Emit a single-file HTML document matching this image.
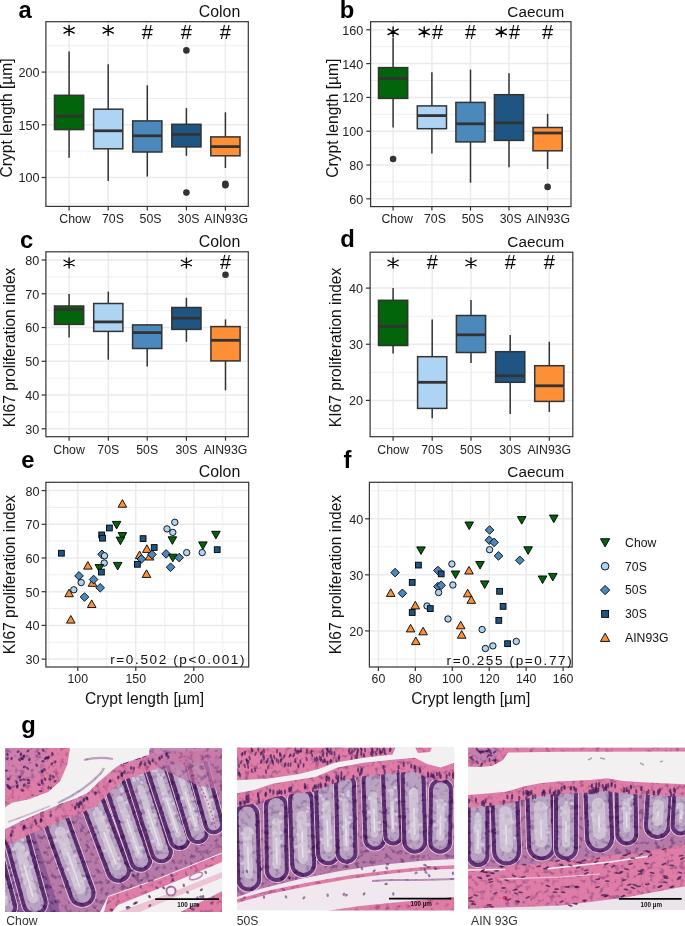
<!DOCTYPE html>
<html><head><meta charset="utf-8"><title>Figure</title>
<style>
html,body{margin:0;padding:0;background:#fff;}
body{width:685px;height:926px;overflow:hidden;position:relative;font-family:"Liberation Sans",sans-serif;}
svg{position:absolute;left:0;top:0;will-change:transform;}
</style></head><body>
<svg width="685" height="926" viewBox="0 0 685 926" font-family="Liberation Sans, sans-serif">
<rect x="45.9" y="21.7" width="202.4" height="184.70000000000002" fill="#fff"/>
<line x1="45.9" x2="248.3" y1="203.85" y2="203.85" stroke="#efefef" stroke-width="1"/>
<line x1="45.9" x2="248.3" y1="151.15" y2="151.15" stroke="#efefef" stroke-width="1"/>
<line x1="45.9" x2="248.3" y1="98.45" y2="98.45" stroke="#efefef" stroke-width="1"/>
<line x1="45.9" x2="248.3" y1="45.75" y2="45.75" stroke="#efefef" stroke-width="1"/>
<line x1="45.9" x2="248.3" y1="177.5" y2="177.5" stroke="#ebebeb" stroke-width="1.5"/>
<line x1="45.9" x2="248.3" y1="124.8" y2="124.8" stroke="#ebebeb" stroke-width="1.5"/>
<line x1="45.9" x2="248.3" y1="72.1" y2="72.1" stroke="#ebebeb" stroke-width="1.5"/>
<line x1="69.1" x2="69.1" y1="21.7" y2="206.4" stroke="#ebebeb" stroke-width="1.5"/>
<line x1="108.2" x2="108.2" y1="21.7" y2="206.4" stroke="#ebebeb" stroke-width="1.5"/>
<line x1="147.3" x2="147.3" y1="21.7" y2="206.4" stroke="#ebebeb" stroke-width="1.5"/>
<line x1="186.4" x2="186.4" y1="21.7" y2="206.4" stroke="#ebebeb" stroke-width="1.5"/>
<line x1="225.4" x2="225.4" y1="21.7" y2="206.4" stroke="#ebebeb" stroke-width="1.5"/>
<line x1="69.1" x2="69.1" y1="51.5" y2="95.3" stroke="#333333" stroke-width="1.5"/>
<line x1="69.1" x2="69.1" y1="129.6" y2="157.7" stroke="#333333" stroke-width="1.5"/>
<rect x="54.49999999999999" y="95.3" width="29.2" height="34.3" fill="#02640b" stroke="#333333" stroke-width="1.5"/>
<line x1="54.49999999999999" x2="83.69999999999999" y1="116.2" y2="116.2" stroke="#333333" stroke-width="2.8"/>
<line x1="108.2" x2="108.2" y1="64.2" y2="109.2" stroke="#333333" stroke-width="1.5"/>
<line x1="108.2" x2="108.2" y1="148.8" y2="181.0" stroke="#333333" stroke-width="1.5"/>
<rect x="93.60000000000001" y="109.2" width="29.2" height="39.60000000000001" fill="#aed4f4" stroke="#333333" stroke-width="1.5"/>
<line x1="93.60000000000001" x2="122.8" y1="130.8" y2="130.8" stroke="#333333" stroke-width="2.8"/>
<line x1="147.3" x2="147.3" y1="85.3" y2="120.9" stroke="#333333" stroke-width="1.5"/>
<line x1="147.3" x2="147.3" y1="152.0" y2="176.6" stroke="#333333" stroke-width="1.5"/>
<rect x="132.70000000000002" y="120.9" width="29.2" height="31.099999999999994" fill="#4b89bc" stroke="#333333" stroke-width="1.5"/>
<line x1="132.70000000000002" x2="161.9" y1="135.8" y2="135.8" stroke="#333333" stroke-width="2.8"/>
<line x1="186.4" x2="186.4" y1="108.1" y2="124.3" stroke="#333333" stroke-width="1.5"/>
<line x1="186.4" x2="186.4" y1="146.9" y2="155.8" stroke="#333333" stroke-width="1.5"/>
<rect x="171.8" y="124.3" width="29.2" height="22.60000000000001" fill="#1e5582" stroke="#333333" stroke-width="1.5"/>
<line x1="171.8" x2="201.0" y1="134.4" y2="134.4" stroke="#333333" stroke-width="2.8"/>
<circle cx="186.4" cy="50.4" r="3.3" fill="#333333"/>
<circle cx="186.4" cy="192.6" r="3.3" fill="#333333"/>
<line x1="225.4" x2="225.4" y1="112.3" y2="136.9" stroke="#333333" stroke-width="1.5"/>
<line x1="225.4" x2="225.4" y1="155.8" y2="168.0" stroke="#333333" stroke-width="1.5"/>
<rect x="210.8" y="136.9" width="29.2" height="18.900000000000006" fill="#fd8f36" stroke="#333333" stroke-width="1.5"/>
<line x1="210.8" x2="240.0" y1="146.6" y2="146.6" stroke="#333333" stroke-width="2.8"/>
<circle cx="225.4" cy="183.7" r="3.3" fill="#333333"/>
<circle cx="225.4" cy="185.2" r="3.3" fill="#333333"/>
<path d="M69.10,25.40V35.40M64.00,27.65L74.20,33.15M64.00,33.15L74.20,27.65" stroke="#000" stroke-width="1.35" stroke-linecap="round" fill="none"/>
<path d="M108.20,25.40V35.40M103.10,27.65L113.30,33.15M103.10,33.15L113.30,27.65" stroke="#000" stroke-width="1.35" stroke-linecap="round" fill="none"/>
<text x="147.30" y="39.00" font-size="20" text-anchor="middle" fill="#000">#</text>
<text x="186.40" y="39.00" font-size="20" text-anchor="middle" fill="#000">#</text>
<text x="225.40" y="39.00" font-size="20" text-anchor="middle" fill="#000">#</text>
<rect x="45.9" y="21.7" width="202.4" height="184.70000000000002" fill="none" stroke="#333333" stroke-width="1.2"/>
<line x1="41.6" x2="45.9" y1="177.5" y2="177.5" stroke="#333333" stroke-width="1.2"/>
<text x="39.50" y="182.40" font-size="12.6" text-anchor="end" fill="#222222">100</text>
<line x1="41.6" x2="45.9" y1="124.8" y2="124.8" stroke="#333333" stroke-width="1.2"/>
<text x="39.50" y="129.70" font-size="12.6" text-anchor="end" fill="#222222">150</text>
<line x1="41.6" x2="45.9" y1="72.1" y2="72.1" stroke="#333333" stroke-width="1.2"/>
<text x="39.50" y="77.00" font-size="12.6" text-anchor="end" fill="#222222">200</text>
<line x1="69.1" x2="69.1" y1="206.4" y2="210.4" stroke="#333333" stroke-width="1.2"/>
<text x="75" y="223.0" font-size="12.3" text-anchor="middle" fill="#222222">Chow</text>
<line x1="108.2" x2="108.2" y1="206.4" y2="210.4" stroke="#333333" stroke-width="1.2"/>
<text x="112.9" y="223.0" font-size="12.3" text-anchor="middle" fill="#222222">70S</text>
<line x1="147.3" x2="147.3" y1="206.4" y2="210.4" stroke="#333333" stroke-width="1.2"/>
<text x="150.5" y="223.0" font-size="12.3" text-anchor="middle" fill="#222222">50S</text>
<line x1="186.4" x2="186.4" y1="206.4" y2="210.4" stroke="#333333" stroke-width="1.2"/>
<text x="188.5" y="223.0" font-size="12.3" text-anchor="middle" fill="#222222">30S</text>
<line x1="225.4" x2="225.4" y1="206.4" y2="210.4" stroke="#333333" stroke-width="1.2"/>
<text x="226.2" y="223.0" font-size="12.3" text-anchor="middle" fill="#222222">AIN93G</text>
<text x="11.6" y="118.0" font-size="15.6" text-anchor="middle" transform="rotate(-90 11.6 118.0)" fill="#111">Crypt length [µm]</text>
<text x="18.6" y="18" font-size="23.8" text-anchor="start" font-weight="bold" fill="#000" >a</text>
<text x="240.3" y="16.9" font-size="15.9" text-anchor="end" font-weight="normal" fill="#111" >Colon</text>
<rect x="370.6" y="21.7" width="200.39999999999998" height="184.9" fill="#fff"/>
<line x1="370.6" x2="571.0" y1="181.9" y2="181.9" stroke="#efefef" stroke-width="1"/>
<line x1="370.6" x2="571.0" y1="148.10000000000002" y2="148.10000000000002" stroke="#efefef" stroke-width="1"/>
<line x1="370.6" x2="571.0" y1="114.30000000000001" y2="114.30000000000001" stroke="#efefef" stroke-width="1"/>
<line x1="370.6" x2="571.0" y1="80.50000000000001" y2="80.50000000000001" stroke="#efefef" stroke-width="1"/>
<line x1="370.6" x2="571.0" y1="46.70000000000002" y2="46.70000000000002" stroke="#efefef" stroke-width="1"/>
<line x1="370.6" x2="571.0" y1="198.8" y2="198.8" stroke="#ebebeb" stroke-width="1.5"/>
<line x1="370.6" x2="571.0" y1="165.0" y2="165.0" stroke="#ebebeb" stroke-width="1.5"/>
<line x1="370.6" x2="571.0" y1="131.20000000000002" y2="131.20000000000002" stroke="#ebebeb" stroke-width="1.5"/>
<line x1="370.6" x2="571.0" y1="97.40000000000002" y2="97.40000000000002" stroke="#ebebeb" stroke-width="1.5"/>
<line x1="370.6" x2="571.0" y1="63.60000000000002" y2="63.60000000000002" stroke="#ebebeb" stroke-width="1.5"/>
<line x1="370.6" x2="571.0" y1="29.80000000000001" y2="29.80000000000001" stroke="#ebebeb" stroke-width="1.5"/>
<line x1="393.1" x2="393.1" y1="21.7" y2="206.6" stroke="#ebebeb" stroke-width="1.5"/>
<line x1="431.9" x2="431.9" y1="21.7" y2="206.6" stroke="#ebebeb" stroke-width="1.5"/>
<line x1="470.5" x2="470.5" y1="21.7" y2="206.6" stroke="#ebebeb" stroke-width="1.5"/>
<line x1="509.0" x2="509.0" y1="21.7" y2="206.6" stroke="#ebebeb" stroke-width="1.5"/>
<line x1="547.6" x2="547.6" y1="21.7" y2="206.6" stroke="#ebebeb" stroke-width="1.5"/>
<line x1="393.1" x2="393.1" y1="38.0" y2="67.6" stroke="#333333" stroke-width="1.5"/>
<line x1="393.1" x2="393.1" y1="98.4" y2="127.5" stroke="#333333" stroke-width="1.5"/>
<rect x="378.5" y="67.6" width="29.2" height="30.80000000000001" fill="#02640b" stroke="#333333" stroke-width="1.5"/>
<line x1="378.5" x2="407.70000000000005" y1="78.5" y2="78.5" stroke="#333333" stroke-width="2.8"/>
<circle cx="393.1" cy="159.0" r="3.3" fill="#333333"/>
<line x1="431.9" x2="431.9" y1="72.3" y2="105.9" stroke="#333333" stroke-width="1.5"/>
<line x1="431.9" x2="431.9" y1="128.7" y2="153.6" stroke="#333333" stroke-width="1.5"/>
<rect x="417.29999999999995" y="105.9" width="29.2" height="22.799999999999983" fill="#aed4f4" stroke="#333333" stroke-width="1.5"/>
<line x1="417.29999999999995" x2="446.5" y1="115.6" y2="115.6" stroke="#333333" stroke-width="2.8"/>
<line x1="470.5" x2="470.5" y1="69.6" y2="102.4" stroke="#333333" stroke-width="1.5"/>
<line x1="470.5" x2="470.5" y1="141.9" y2="182.7" stroke="#333333" stroke-width="1.5"/>
<rect x="455.9" y="102.4" width="29.2" height="39.5" fill="#4b89bc" stroke="#333333" stroke-width="1.5"/>
<line x1="455.9" x2="485.1" y1="123.8" y2="123.8" stroke="#333333" stroke-width="2.8"/>
<line x1="509.0" x2="509.0" y1="73.3" y2="94.7" stroke="#333333" stroke-width="1.5"/>
<line x1="509.0" x2="509.0" y1="140.4" y2="167.2" stroke="#333333" stroke-width="1.5"/>
<rect x="494.4" y="94.7" width="29.2" height="45.7" fill="#1e5582" stroke="#333333" stroke-width="1.5"/>
<line x1="494.4" x2="523.6" y1="122.8" y2="122.8" stroke="#333333" stroke-width="2.8"/>
<line x1="547.6" x2="547.6" y1="113.8" y2="127.5" stroke="#333333" stroke-width="1.5"/>
<line x1="547.6" x2="547.6" y1="150.8" y2="169.0" stroke="#333333" stroke-width="1.5"/>
<rect x="533.0" y="127.5" width="29.2" height="23.30000000000001" fill="#fd8f36" stroke="#333333" stroke-width="1.5"/>
<line x1="533.0" x2="562.2" y1="133.0" y2="133.0" stroke="#333333" stroke-width="2.8"/>
<circle cx="547.6" cy="186.9" r="3.3" fill="#333333"/>
<path d="M393.10,26.90V36.90M388.00,29.15L398.20,34.65M388.00,34.65L398.20,29.15" stroke="#000" stroke-width="1.35" stroke-linecap="round" fill="none"/>
<path d="M424.20,26.90V36.90M419.10,29.15L429.30,34.65M419.10,34.65L429.30,29.15" stroke="#000" stroke-width="1.35" stroke-linecap="round" fill="none"/>
<text x="437.50" y="39.40" font-size="20" text-anchor="middle" fill="#000">#</text>
<text x="470.50" y="39.40" font-size="20" text-anchor="middle" fill="#000">#</text>
<path d="M501.30,26.90V36.90M496.20,29.15L506.40,34.65M496.20,34.65L506.40,29.15" stroke="#000" stroke-width="1.35" stroke-linecap="round" fill="none"/>
<text x="514.60" y="39.40" font-size="20" text-anchor="middle" fill="#000">#</text>
<text x="547.60" y="39.40" font-size="20" text-anchor="middle" fill="#000">#</text>
<rect x="370.6" y="21.7" width="200.39999999999998" height="184.9" fill="none" stroke="#333333" stroke-width="1.2"/>
<line x1="366.3" x2="370.6" y1="198.8" y2="198.8" stroke="#333333" stroke-width="1.2"/>
<text x="363.20" y="203.70" font-size="12.6" text-anchor="end" fill="#222222">60</text>
<line x1="366.3" x2="370.6" y1="165.0" y2="165.0" stroke="#333333" stroke-width="1.2"/>
<text x="363.20" y="169.90" font-size="12.6" text-anchor="end" fill="#222222">80</text>
<line x1="366.3" x2="370.6" y1="131.20000000000002" y2="131.20000000000002" stroke="#333333" stroke-width="1.2"/>
<text x="363.20" y="136.10" font-size="12.6" text-anchor="end" fill="#222222">100</text>
<line x1="366.3" x2="370.6" y1="97.40000000000002" y2="97.40000000000002" stroke="#333333" stroke-width="1.2"/>
<text x="363.20" y="102.30" font-size="12.6" text-anchor="end" fill="#222222">120</text>
<line x1="366.3" x2="370.6" y1="63.60000000000002" y2="63.60000000000002" stroke="#333333" stroke-width="1.2"/>
<text x="363.20" y="68.50" font-size="12.6" text-anchor="end" fill="#222222">140</text>
<line x1="366.3" x2="370.6" y1="29.80000000000001" y2="29.80000000000001" stroke="#333333" stroke-width="1.2"/>
<text x="363.20" y="34.70" font-size="12.6" text-anchor="end" fill="#222222">160</text>
<line x1="393.1" x2="393.1" y1="206.6" y2="210.6" stroke="#333333" stroke-width="1.2"/>
<text x="397.2" y="223.0" font-size="12.3" text-anchor="middle" fill="#222222">Chow</text>
<line x1="431.9" x2="431.9" y1="206.6" y2="210.6" stroke="#333333" stroke-width="1.2"/>
<text x="434.9" y="223.0" font-size="12.3" text-anchor="middle" fill="#222222">70S</text>
<line x1="470.5" x2="470.5" y1="206.6" y2="210.6" stroke="#333333" stroke-width="1.2"/>
<text x="472.7" y="223.0" font-size="12.3" text-anchor="middle" fill="#222222">50S</text>
<line x1="509.0" x2="509.0" y1="206.6" y2="210.6" stroke="#333333" stroke-width="1.2"/>
<text x="510.7" y="223.0" font-size="12.3" text-anchor="middle" fill="#222222">30S</text>
<line x1="547.6" x2="547.6" y1="206.6" y2="210.6" stroke="#333333" stroke-width="1.2"/>
<text x="548.1" y="223.0" font-size="12.3" text-anchor="middle" fill="#222222">AIN93G</text>
<text x="337.6" y="118.2" font-size="15.6" text-anchor="middle" transform="rotate(-90 337.6 118.2)" fill="#111">Crypt length [µm]</text>
<text x="339.8" y="18" font-size="23.8" text-anchor="start" font-weight="bold" fill="#000" >b</text>
<text x="564.3" y="16.9" font-size="15.3" text-anchor="end" font-weight="normal" fill="#111" >Caecum</text>
<rect x="45.9" y="251.8" width="202.4" height="184.89999999999998" fill="#fff"/>
<line x1="45.9" x2="248.3" y1="411.92" y2="411.92" stroke="#efefef" stroke-width="1"/>
<line x1="45.9" x2="248.3" y1="378.16" y2="378.16" stroke="#efefef" stroke-width="1"/>
<line x1="45.9" x2="248.3" y1="344.4" y2="344.4" stroke="#efefef" stroke-width="1"/>
<line x1="45.9" x2="248.3" y1="310.64" y2="310.64" stroke="#efefef" stroke-width="1"/>
<line x1="45.9" x2="248.3" y1="276.88" y2="276.88" stroke="#efefef" stroke-width="1"/>
<line x1="45.9" x2="248.3" y1="428.8" y2="428.8" stroke="#ebebeb" stroke-width="1.5"/>
<line x1="45.9" x2="248.3" y1="395.04" y2="395.04" stroke="#ebebeb" stroke-width="1.5"/>
<line x1="45.9" x2="248.3" y1="361.28" y2="361.28" stroke="#ebebeb" stroke-width="1.5"/>
<line x1="45.9" x2="248.3" y1="327.52" y2="327.52" stroke="#ebebeb" stroke-width="1.5"/>
<line x1="45.9" x2="248.3" y1="293.76" y2="293.76" stroke="#ebebeb" stroke-width="1.5"/>
<line x1="45.9" x2="248.3" y1="260.0" y2="260.0" stroke="#ebebeb" stroke-width="1.5"/>
<line x1="69.1" x2="69.1" y1="251.8" y2="436.7" stroke="#ebebeb" stroke-width="1.5"/>
<line x1="108.3" x2="108.3" y1="251.8" y2="436.7" stroke="#ebebeb" stroke-width="1.5"/>
<line x1="147.2" x2="147.2" y1="251.8" y2="436.7" stroke="#ebebeb" stroke-width="1.5"/>
<line x1="186.4" x2="186.4" y1="251.8" y2="436.7" stroke="#ebebeb" stroke-width="1.5"/>
<line x1="225.5" x2="225.5" y1="251.8" y2="436.7" stroke="#ebebeb" stroke-width="1.5"/>
<line x1="69.1" x2="69.1" y1="294.1" y2="306.0" stroke="#333333" stroke-width="1.5"/>
<line x1="69.1" x2="69.1" y1="324.4" y2="337.6" stroke="#333333" stroke-width="1.5"/>
<rect x="54.49999999999999" y="306.0" width="29.2" height="18.399999999999977" fill="#02640b" stroke="#333333" stroke-width="1.5"/>
<line x1="54.49999999999999" x2="83.69999999999999" y1="309.5" y2="309.5" stroke="#333333" stroke-width="2.8"/>
<line x1="108.3" x2="108.3" y1="291.6" y2="303.5" stroke="#333333" stroke-width="1.5"/>
<line x1="108.3" x2="108.3" y1="331.4" y2="359.7" stroke="#333333" stroke-width="1.5"/>
<rect x="93.7" y="303.5" width="29.2" height="27.899999999999977" fill="#aed4f4" stroke="#333333" stroke-width="1.5"/>
<line x1="93.7" x2="122.89999999999999" y1="321.9" y2="321.9" stroke="#333333" stroke-width="2.8"/>
<line x1="147.2" x2="147.2" y1="324.4" y2="324.9" stroke="#333333" stroke-width="1.5"/>
<line x1="147.2" x2="147.2" y1="348.5" y2="366.6" stroke="#333333" stroke-width="1.5"/>
<rect x="132.6" y="324.9" width="29.2" height="23.600000000000023" fill="#4b89bc" stroke="#333333" stroke-width="1.5"/>
<line x1="132.6" x2="161.79999999999998" y1="332.6" y2="332.6" stroke="#333333" stroke-width="2.8"/>
<line x1="186.4" x2="186.4" y1="297.8" y2="307.5" stroke="#333333" stroke-width="1.5"/>
<line x1="186.4" x2="186.4" y1="329.4" y2="341.8" stroke="#333333" stroke-width="1.5"/>
<rect x="171.8" y="307.5" width="29.2" height="21.899999999999977" fill="#1e5582" stroke="#333333" stroke-width="1.5"/>
<line x1="171.8" x2="201.0" y1="318.2" y2="318.2" stroke="#333333" stroke-width="2.8"/>
<line x1="225.5" x2="225.5" y1="319.4" y2="326.6" stroke="#333333" stroke-width="1.5"/>
<line x1="225.5" x2="225.5" y1="360.9" y2="390.3" stroke="#333333" stroke-width="1.5"/>
<rect x="210.9" y="326.6" width="29.2" height="34.299999999999955" fill="#fd8f36" stroke="#333333" stroke-width="1.5"/>
<line x1="210.9" x2="240.1" y1="340.3" y2="340.3" stroke="#333333" stroke-width="2.8"/>
<circle cx="225.5" cy="274.7" r="3.3" fill="#333333"/>
<path d="M69.10,258.00V268.00M64.00,260.25L74.20,265.75M64.00,265.75L74.20,260.25" stroke="#000" stroke-width="1.35" stroke-linecap="round" fill="none"/>
<path d="M186.40,258.00V268.00M181.30,260.25L191.50,265.75M181.30,265.75L191.50,260.25" stroke="#000" stroke-width="1.35" stroke-linecap="round" fill="none"/>
<text x="225.50" y="269.20" font-size="20" text-anchor="middle" fill="#000">#</text>
<rect x="45.9" y="251.8" width="202.4" height="184.89999999999998" fill="none" stroke="#333333" stroke-width="1.2"/>
<line x1="41.6" x2="45.9" y1="428.8" y2="428.8" stroke="#333333" stroke-width="1.2"/>
<text x="39.30" y="433.70" font-size="12.6" text-anchor="end" fill="#222222">30</text>
<line x1="41.6" x2="45.9" y1="395.04" y2="395.04" stroke="#333333" stroke-width="1.2"/>
<text x="39.30" y="399.94" font-size="12.6" text-anchor="end" fill="#222222">40</text>
<line x1="41.6" x2="45.9" y1="361.28" y2="361.28" stroke="#333333" stroke-width="1.2"/>
<text x="39.30" y="366.18" font-size="12.6" text-anchor="end" fill="#222222">50</text>
<line x1="41.6" x2="45.9" y1="327.52" y2="327.52" stroke="#333333" stroke-width="1.2"/>
<text x="39.30" y="332.42" font-size="12.6" text-anchor="end" fill="#222222">60</text>
<line x1="41.6" x2="45.9" y1="293.76" y2="293.76" stroke="#333333" stroke-width="1.2"/>
<text x="39.30" y="298.66" font-size="12.6" text-anchor="end" fill="#222222">70</text>
<line x1="41.6" x2="45.9" y1="260.0" y2="260.0" stroke="#333333" stroke-width="1.2"/>
<text x="39.30" y="264.90" font-size="12.6" text-anchor="end" fill="#222222">80</text>
<line x1="69.1" x2="69.1" y1="436.7" y2="440.7" stroke="#333333" stroke-width="1.2"/>
<text x="69.1" y="453.5" font-size="12.3" text-anchor="middle" fill="#222222">Chow</text>
<line x1="108.3" x2="108.3" y1="436.7" y2="440.7" stroke="#333333" stroke-width="1.2"/>
<text x="108.3" y="453.5" font-size="12.3" text-anchor="middle" fill="#222222">70S</text>
<line x1="147.2" x2="147.2" y1="436.7" y2="440.7" stroke="#333333" stroke-width="1.2"/>
<text x="147.2" y="453.5" font-size="12.3" text-anchor="middle" fill="#222222">50S</text>
<line x1="186.4" x2="186.4" y1="436.7" y2="440.7" stroke="#333333" stroke-width="1.2"/>
<text x="186.4" y="453.5" font-size="12.3" text-anchor="middle" fill="#222222">30S</text>
<line x1="225.5" x2="225.5" y1="436.7" y2="440.7" stroke="#333333" stroke-width="1.2"/>
<text x="225.5" y="453.5" font-size="12.3" text-anchor="middle" fill="#222222">AIN93G</text>
<text x="15.5" y="347.4" font-size="15.6" text-anchor="middle" transform="rotate(-90 15.5 347.4)" fill="#111">KI67 proliferation index</text>
<text x="20" y="247.6" font-size="23.8" text-anchor="start" font-weight="bold" fill="#000" >c</text>
<text x="240.3" y="246.9" font-size="15.9" text-anchor="end" font-weight="normal" fill="#111" >Colon</text>
<rect x="370.1" y="252.2" width="202.69999999999993" height="184.5" fill="#fff"/>
<line x1="370.1" x2="572.8" y1="428.47499999999997" y2="428.47499999999997" stroke="#efefef" stroke-width="1"/>
<line x1="370.1" x2="572.8" y1="372.325" y2="372.325" stroke="#efefef" stroke-width="1"/>
<line x1="370.1" x2="572.8" y1="316.175" y2="316.175" stroke="#efefef" stroke-width="1"/>
<line x1="370.1" x2="572.8" y1="260.02500000000003" y2="260.02500000000003" stroke="#efefef" stroke-width="1"/>
<line x1="370.1" x2="572.8" y1="400.4" y2="400.4" stroke="#ebebeb" stroke-width="1.5"/>
<line x1="370.1" x2="572.8" y1="344.25" y2="344.25" stroke="#ebebeb" stroke-width="1.5"/>
<line x1="370.1" x2="572.8" y1="288.1" y2="288.1" stroke="#ebebeb" stroke-width="1.5"/>
<line x1="393.1" x2="393.1" y1="252.2" y2="436.7" stroke="#ebebeb" stroke-width="1.5"/>
<line x1="432.2" x2="432.2" y1="252.2" y2="436.7" stroke="#ebebeb" stroke-width="1.5"/>
<line x1="471.0" x2="471.0" y1="252.2" y2="436.7" stroke="#ebebeb" stroke-width="1.5"/>
<line x1="510.2" x2="510.2" y1="252.2" y2="436.7" stroke="#ebebeb" stroke-width="1.5"/>
<line x1="549.3" x2="549.3" y1="252.2" y2="436.7" stroke="#ebebeb" stroke-width="1.5"/>
<line x1="393.1" x2="393.1" y1="287.9" y2="300.3" stroke="#333333" stroke-width="1.5"/>
<line x1="393.1" x2="393.1" y1="345.5" y2="353.5" stroke="#333333" stroke-width="1.5"/>
<rect x="378.5" y="300.3" width="29.2" height="45.19999999999999" fill="#02640b" stroke="#333333" stroke-width="1.5"/>
<line x1="378.5" x2="407.70000000000005" y1="326.4" y2="326.4" stroke="#333333" stroke-width="2.8"/>
<line x1="432.2" x2="432.2" y1="319.4" y2="356.7" stroke="#333333" stroke-width="1.5"/>
<line x1="432.2" x2="432.2" y1="408.4" y2="418.3" stroke="#333333" stroke-width="1.5"/>
<rect x="417.59999999999997" y="356.7" width="29.2" height="51.69999999999999" fill="#aed4f4" stroke="#333333" stroke-width="1.5"/>
<line x1="417.59999999999997" x2="446.8" y1="382.3" y2="382.3" stroke="#333333" stroke-width="2.8"/>
<line x1="471.0" x2="471.0" y1="300.0" y2="315.5" stroke="#333333" stroke-width="1.5"/>
<line x1="471.0" x2="471.0" y1="352.5" y2="362.9" stroke="#333333" stroke-width="1.5"/>
<rect x="456.4" y="315.5" width="29.2" height="37.0" fill="#4b89bc" stroke="#333333" stroke-width="1.5"/>
<line x1="456.4" x2="485.6" y1="334.8" y2="334.8" stroke="#333333" stroke-width="2.8"/>
<line x1="510.2" x2="510.2" y1="335.1" y2="351.7" stroke="#333333" stroke-width="1.5"/>
<line x1="510.2" x2="510.2" y1="382.3" y2="413.9" stroke="#333333" stroke-width="1.5"/>
<rect x="495.59999999999997" y="351.7" width="29.2" height="30.600000000000023" fill="#1e5582" stroke="#333333" stroke-width="1.5"/>
<line x1="495.59999999999997" x2="524.8" y1="375.8" y2="375.8" stroke="#333333" stroke-width="2.8"/>
<line x1="549.3" x2="549.3" y1="341.8" y2="365.7" stroke="#333333" stroke-width="1.5"/>
<line x1="549.3" x2="549.3" y1="401.4" y2="411.9" stroke="#333333" stroke-width="1.5"/>
<rect x="534.6999999999999" y="365.7" width="29.2" height="35.69999999999999" fill="#fd8f36" stroke="#333333" stroke-width="1.5"/>
<line x1="534.6999999999999" x2="563.9" y1="385.8" y2="385.8" stroke="#333333" stroke-width="2.8"/>
<path d="M393.10,258.00V268.00M388.00,260.25L398.20,265.75M388.00,265.75L398.20,260.25" stroke="#000" stroke-width="1.35" stroke-linecap="round" fill="none"/>
<text x="432.20" y="269.20" font-size="20" text-anchor="middle" fill="#000">#</text>
<path d="M471.00,258.00V268.00M465.90,260.25L476.10,265.75M465.90,265.75L476.10,260.25" stroke="#000" stroke-width="1.35" stroke-linecap="round" fill="none"/>
<text x="510.20" y="269.20" font-size="20" text-anchor="middle" fill="#000">#</text>
<text x="549.30" y="269.20" font-size="20" text-anchor="middle" fill="#000">#</text>
<rect x="370.1" y="252.2" width="202.69999999999993" height="184.5" fill="none" stroke="#333333" stroke-width="1.2"/>
<line x1="365.8" x2="370.1" y1="400.4" y2="400.4" stroke="#333333" stroke-width="1.2"/>
<text x="362.90" y="405.30" font-size="12.6" text-anchor="end" fill="#222222">20</text>
<line x1="365.8" x2="370.1" y1="344.25" y2="344.25" stroke="#333333" stroke-width="1.2"/>
<text x="362.90" y="349.15" font-size="12.6" text-anchor="end" fill="#222222">30</text>
<line x1="365.8" x2="370.1" y1="288.1" y2="288.1" stroke="#333333" stroke-width="1.2"/>
<text x="362.90" y="293.00" font-size="12.6" text-anchor="end" fill="#222222">40</text>
<line x1="393.1" x2="393.1" y1="436.7" y2="440.7" stroke="#333333" stroke-width="1.2"/>
<text x="393.1" y="453.5" font-size="12.3" text-anchor="middle" fill="#222222">Chow</text>
<line x1="432.2" x2="432.2" y1="436.7" y2="440.7" stroke="#333333" stroke-width="1.2"/>
<text x="432.2" y="453.5" font-size="12.3" text-anchor="middle" fill="#222222">70S</text>
<line x1="471.0" x2="471.0" y1="436.7" y2="440.7" stroke="#333333" stroke-width="1.2"/>
<text x="471.0" y="453.5" font-size="12.3" text-anchor="middle" fill="#222222">50S</text>
<line x1="510.2" x2="510.2" y1="436.7" y2="440.7" stroke="#333333" stroke-width="1.2"/>
<text x="510.2" y="453.5" font-size="12.3" text-anchor="middle" fill="#222222">30S</text>
<line x1="549.3" x2="549.3" y1="436.7" y2="440.7" stroke="#333333" stroke-width="1.2"/>
<text x="549.3" y="453.5" font-size="12.3" text-anchor="middle" fill="#222222">AIN93G</text>
<text x="341.5" y="347.4" font-size="15.6" text-anchor="middle" transform="rotate(-90 341.5 347.4)" fill="#111">KI67 proliferation index</text>
<text x="340.3" y="247.0" font-size="23.8" text-anchor="start" font-weight="bold" fill="#000" >d</text>
<text x="564.3" y="246.9" font-size="15.3" text-anchor="end" font-weight="normal" fill="#111" >Caecum</text>
<rect x="45.9" y="482.3" width="202.79999999999998" height="184.7" fill="#fff"/>
<line x1="45.9" x2="248.7" y1="642.25" y2="642.25" stroke="#efefef" stroke-width="1"/>
<line x1="45.9" x2="248.7" y1="608.5500000000001" y2="608.5500000000001" stroke="#efefef" stroke-width="1"/>
<line x1="45.9" x2="248.7" y1="574.85" y2="574.85" stroke="#efefef" stroke-width="1"/>
<line x1="45.9" x2="248.7" y1="541.15" y2="541.15" stroke="#efefef" stroke-width="1"/>
<line x1="45.9" x2="248.7" y1="507.45000000000005" y2="507.45000000000005" stroke="#efefef" stroke-width="1"/>
<line x1="48.79999999999998" x2="48.79999999999998" y1="482.3" y2="667.0" stroke="#efefef" stroke-width="1"/>
<line x1="106.80000000000001" x2="106.80000000000001" y1="482.3" y2="667.0" stroke="#efefef" stroke-width="1"/>
<line x1="164.8" x2="164.8" y1="482.3" y2="667.0" stroke="#efefef" stroke-width="1"/>
<line x1="222.80000000000007" x2="222.80000000000007" y1="482.3" y2="667.0" stroke="#efefef" stroke-width="1"/>
<line x1="45.9" x2="248.7" y1="659.1" y2="659.1" stroke="#ebebeb" stroke-width="1.5"/>
<line x1="45.9" x2="248.7" y1="625.4" y2="625.4" stroke="#ebebeb" stroke-width="1.5"/>
<line x1="45.9" x2="248.7" y1="591.7" y2="591.7" stroke="#ebebeb" stroke-width="1.5"/>
<line x1="45.9" x2="248.7" y1="558.0" y2="558.0" stroke="#ebebeb" stroke-width="1.5"/>
<line x1="45.9" x2="248.7" y1="524.3" y2="524.3" stroke="#ebebeb" stroke-width="1.5"/>
<line x1="45.9" x2="248.7" y1="490.6" y2="490.6" stroke="#ebebeb" stroke-width="1.5"/>
<line x1="77.8" x2="77.8" y1="482.3" y2="667.0" stroke="#ebebeb" stroke-width="1.5"/>
<line x1="135.8" x2="135.8" y1="482.3" y2="667.0" stroke="#ebebeb" stroke-width="1.5"/>
<line x1="193.80000000000004" x2="193.80000000000004" y1="482.3" y2="667.0" stroke="#ebebeb" stroke-width="1.5"/>
<rect x="58.50" y="550.30" width="5.80" height="5.80" fill="#1e5582" stroke="#000" stroke-width="0.9"/>
<path d="M122.40,499.62L126.70,507.22L118.10,507.22Z" fill="#fd8f36" stroke="#000" stroke-width="0.9" stroke-linejoin="miter"/>
<path d="M112.30,521.38L120.90,521.38L116.60,528.98Z" fill="#02640b" stroke="#000" stroke-width="0.9" stroke-linejoin="miter"/>
<rect x="106.50" y="525.10" width="5.80" height="5.80" fill="#1e5582" stroke="#000" stroke-width="0.9"/>
<rect x="98.80" y="532.00" width="5.80" height="5.80" fill="#1e5582" stroke="#000" stroke-width="0.9"/>
<rect x="99.60" y="535.30" width="5.80" height="5.80" fill="#1e5582" stroke="#000" stroke-width="0.9"/>
<path d="M118.10,532.58L126.70,532.58L122.40,540.18Z" fill="#02640b" stroke="#000" stroke-width="0.9" stroke-linejoin="miter"/>
<path d="M116.10,537.08L124.70,537.08L120.40,544.68Z" fill="#02640b" stroke="#000" stroke-width="0.9" stroke-linejoin="miter"/>
<rect x="140.20" y="535.70" width="5.80" height="5.80" fill="#1e5582" stroke="#000" stroke-width="0.9"/>
<path d="M97.70,554.30L102.00,550.00L106.30,554.30L102.00,558.60Z" fill="#4b89bc" stroke="#000" stroke-width="0.9" stroke-linejoin="miter"/>
<circle cx="104.5" cy="555.8" r="3.20" fill="#aed4f4" stroke="#000" stroke-width="0.9"/>
<circle cx="104.2" cy="563.0" r="3.20" fill="#aed4f4" stroke="#000" stroke-width="0.9"/>
<path d="M87.90,561.52L92.20,569.12L83.60,569.12Z" fill="#fd8f36" stroke="#000" stroke-width="0.9" stroke-linejoin="miter"/>
<path d="M95.10,564.58L103.70,564.58L99.40,572.18Z" fill="#02640b" stroke="#000" stroke-width="0.9" stroke-linejoin="miter"/>
<rect x="98.50" y="569.20" width="5.80" height="5.80" fill="#1e5582" stroke="#000" stroke-width="0.9"/>
<path d="M113.40,562.38L122.00,562.38L117.70,569.98Z" fill="#02640b" stroke="#000" stroke-width="0.9" stroke-linejoin="miter"/>
<path d="M74.70,575.90L79.00,571.60L83.30,575.90L79.00,580.20Z" fill="#4b89bc" stroke="#000" stroke-width="0.9" stroke-linejoin="miter"/>
<circle cx="81.2" cy="582.6" r="3.20" fill="#aed4f4" stroke="#000" stroke-width="0.9"/>
<path d="M92.50,578.72L96.80,586.32L88.20,586.32Z" fill="#fd8f36" stroke="#000" stroke-width="0.9" stroke-linejoin="miter"/>
<path d="M89.30,579.50L93.60,575.20L97.90,579.50L93.60,583.80Z" fill="#4b89bc" stroke="#000" stroke-width="0.9" stroke-linejoin="miter"/>
<path d="M95.90,587.80L100.20,583.50L104.50,587.80L100.20,592.10Z" fill="#4b89bc" stroke="#000" stroke-width="0.9" stroke-linejoin="miter"/>
<circle cx="73.8" cy="589.8" r="3.20" fill="#aed4f4" stroke="#000" stroke-width="0.9"/>
<path d="M69.10,589.12L73.40,596.72L64.80,596.72Z" fill="#fd8f36" stroke="#000" stroke-width="0.9" stroke-linejoin="miter"/>
<path d="M80.20,597.00L84.50,592.70L88.80,597.00L84.50,601.30Z" fill="#4b89bc" stroke="#000" stroke-width="0.9" stroke-linejoin="miter"/>
<path d="M91.70,599.92L96.00,607.52L87.40,607.52Z" fill="#fd8f36" stroke="#000" stroke-width="0.9" stroke-linejoin="miter"/>
<path d="M70.80,615.52L75.10,623.12L66.50,623.12Z" fill="#fd8f36" stroke="#000" stroke-width="0.9" stroke-linejoin="miter"/>
<circle cx="174.8" cy="522.3" r="3.20" fill="#aed4f4" stroke="#000" stroke-width="0.9"/>
<circle cx="167.0" cy="528.9" r="3.20" fill="#aed4f4" stroke="#000" stroke-width="0.9"/>
<circle cx="172.8" cy="532.4" r="3.20" fill="#aed4f4" stroke="#000" stroke-width="0.9"/>
<path d="M168.10,536.78L176.70,536.78L172.40,544.38Z" fill="#02640b" stroke="#000" stroke-width="0.9" stroke-linejoin="miter"/>
<rect x="151.30" y="544.60" width="5.80" height="5.80" fill="#1e5582" stroke="#000" stroke-width="0.9"/>
<path d="M146.90,544.82L151.20,552.42L142.60,552.42Z" fill="#fd8f36" stroke="#000" stroke-width="0.9" stroke-linejoin="miter"/>
<path d="M139.60,551.02L143.90,558.62L135.30,558.62Z" fill="#fd8f36" stroke="#000" stroke-width="0.9" stroke-linejoin="miter"/>
<path d="M149.60,552.42L153.90,560.02L145.30,560.02Z" fill="#fd8f36" stroke="#000" stroke-width="0.9" stroke-linejoin="miter"/>
<path d="M147.70,554.50L152.00,550.20L156.30,554.50L152.00,558.80Z" fill="#4b89bc" stroke="#000" stroke-width="0.9" stroke-linejoin="miter"/>
<path d="M137.10,559.00L141.40,554.70L145.70,559.00L141.40,563.30Z" fill="#4b89bc" stroke="#000" stroke-width="0.9" stroke-linejoin="miter"/>
<rect x="134.50" y="561.40" width="5.80" height="5.80" fill="#1e5582" stroke="#000" stroke-width="0.9"/>
<path d="M146.50,569.82L150.80,577.42L142.20,577.42Z" fill="#fd8f36" stroke="#000" stroke-width="0.9" stroke-linejoin="miter"/>
<path d="M161.80,553.90L166.10,549.60L170.40,553.90L166.10,558.20Z" fill="#4b89bc" stroke="#000" stroke-width="0.9" stroke-linejoin="miter"/>
<path d="M168.50,554.18L177.10,554.18L172.80,561.78Z" fill="#02640b" stroke="#000" stroke-width="0.9" stroke-linejoin="miter"/>
<path d="M174.90,557.60L179.20,553.30L183.50,557.60L179.20,561.90Z" fill="#4b89bc" stroke="#000" stroke-width="0.9" stroke-linejoin="miter"/>
<path d="M166.30,567.20L170.60,562.90L174.90,567.20L170.60,571.50Z" fill="#4b89bc" stroke="#000" stroke-width="0.9" stroke-linejoin="miter"/>
<circle cx="186.7" cy="552.6" r="3.20" fill="#aed4f4" stroke="#000" stroke-width="0.9"/>
<path d="M198.60,541.88L207.20,541.88L202.90,549.48Z" fill="#02640b" stroke="#000" stroke-width="0.9" stroke-linejoin="miter"/>
<circle cx="202.2" cy="552.6" r="3.20" fill="#aed4f4" stroke="#000" stroke-width="0.9"/>
<path d="M211.60,531.28L220.20,531.28L215.90,538.88Z" fill="#02640b" stroke="#000" stroke-width="0.9" stroke-linejoin="miter"/>
<rect x="214.30" y="546.80" width="5.80" height="5.80" fill="#1e5582" stroke="#000" stroke-width="0.9"/>
<rect x="45.9" y="482.3" width="202.79999999999998" height="184.7" fill="none" stroke="#333333" stroke-width="1.2"/>
<line x1="41.6" x2="45.9" y1="659.1" y2="659.1" stroke="#333333" stroke-width="1.2"/>
<text x="39.40" y="664.00" font-size="12.6" text-anchor="end" fill="#222222">30</text>
<line x1="41.6" x2="45.9" y1="625.4" y2="625.4" stroke="#333333" stroke-width="1.2"/>
<text x="39.40" y="630.30" font-size="12.6" text-anchor="end" fill="#222222">40</text>
<line x1="41.6" x2="45.9" y1="591.7" y2="591.7" stroke="#333333" stroke-width="1.2"/>
<text x="39.40" y="596.60" font-size="12.6" text-anchor="end" fill="#222222">50</text>
<line x1="41.6" x2="45.9" y1="558.0" y2="558.0" stroke="#333333" stroke-width="1.2"/>
<text x="39.40" y="562.90" font-size="12.6" text-anchor="end" fill="#222222">60</text>
<line x1="41.6" x2="45.9" y1="524.3" y2="524.3" stroke="#333333" stroke-width="1.2"/>
<text x="39.40" y="529.20" font-size="12.6" text-anchor="end" fill="#222222">70</text>
<line x1="41.6" x2="45.9" y1="490.6" y2="490.6" stroke="#333333" stroke-width="1.2"/>
<text x="39.40" y="495.50" font-size="12.6" text-anchor="end" fill="#222222">80</text>
<line x1="77.8" x2="77.8" y1="667.0" y2="671.0" stroke="#333333" stroke-width="1.2"/>
<text x="77.8" y="683.2" font-size="12.3" text-anchor="middle" fill="#222222">100</text>
<line x1="135.8" x2="135.8" y1="667.0" y2="671.0" stroke="#333333" stroke-width="1.2"/>
<text x="135.8" y="683.2" font-size="12.3" text-anchor="middle" fill="#222222">150</text>
<line x1="193.80000000000004" x2="193.80000000000004" y1="667.0" y2="671.0" stroke="#333333" stroke-width="1.2"/>
<text x="193.80000000000004" y="683.2" font-size="12.3" text-anchor="middle" fill="#222222">200</text>
<text x="15.5" y="574.6" font-size="15.6" text-anchor="middle" transform="rotate(-90 15.5 574.6)" fill="#111">KI67 proliferation index</text>
<text x="144.5" y="704.0" font-size="15.6" text-anchor="middle" font-weight="normal" fill="#111" >Crypt length [µm]</text>
<text x="21.2" y="467.6" font-size="23.8" text-anchor="start" font-weight="bold" fill="#000" >e</text>
<text x="240.3" y="476.9" font-size="15.9" text-anchor="end" font-weight="normal" fill="#111" >Colon</text>
<text x="110.2" y="664.1" font-size="13.5" text-anchor="start" font-weight="normal" fill="#111" letter-spacing="1.64">r=0.502 (p&lt;0.001)</text>
<rect x="369.4" y="482.3" width="202.80000000000007" height="184.7" fill="#fff"/>
<line x1="369.4" x2="572.2" y1="658.925" y2="658.925" stroke="#efefef" stroke-width="1"/>
<line x1="369.4" x2="572.2" y1="602.875" y2="602.875" stroke="#efefef" stroke-width="1"/>
<line x1="369.4" x2="572.2" y1="546.8249999999999" y2="546.8249999999999" stroke="#efefef" stroke-width="1"/>
<line x1="369.4" x2="572.2" y1="490.775" y2="490.775" stroke="#efefef" stroke-width="1"/>
<line x1="396.87" x2="396.87" y1="482.3" y2="667.0" stroke="#efefef" stroke-width="1"/>
<line x1="433.81" x2="433.81" y1="482.3" y2="667.0" stroke="#efefef" stroke-width="1"/>
<line x1="470.75" x2="470.75" y1="482.3" y2="667.0" stroke="#efefef" stroke-width="1"/>
<line x1="507.69" x2="507.69" y1="482.3" y2="667.0" stroke="#efefef" stroke-width="1"/>
<line x1="544.63" x2="544.63" y1="482.3" y2="667.0" stroke="#efefef" stroke-width="1"/>
<line x1="369.4" x2="572.2" y1="630.9" y2="630.9" stroke="#ebebeb" stroke-width="1.5"/>
<line x1="369.4" x2="572.2" y1="574.8499999999999" y2="574.8499999999999" stroke="#ebebeb" stroke-width="1.5"/>
<line x1="369.4" x2="572.2" y1="518.8" y2="518.8" stroke="#ebebeb" stroke-width="1.5"/>
<line x1="378.4" x2="378.4" y1="482.3" y2="667.0" stroke="#ebebeb" stroke-width="1.5"/>
<line x1="415.34" x2="415.34" y1="482.3" y2="667.0" stroke="#ebebeb" stroke-width="1.5"/>
<line x1="452.28" x2="452.28" y1="482.3" y2="667.0" stroke="#ebebeb" stroke-width="1.5"/>
<line x1="489.22" x2="489.22" y1="482.3" y2="667.0" stroke="#ebebeb" stroke-width="1.5"/>
<line x1="526.1600000000001" x2="526.1600000000001" y1="482.3" y2="667.0" stroke="#ebebeb" stroke-width="1.5"/>
<line x1="563.1" x2="563.1" y1="482.3" y2="667.0" stroke="#ebebeb" stroke-width="1.5"/>
<path d="M416.70,546.88L425.30,546.88L421.00,554.48Z" fill="#02640b" stroke="#000" stroke-width="0.9" stroke-linejoin="miter"/>
<rect x="415.50" y="562.20" width="5.80" height="5.80" fill="#1e5582" stroke="#000" stroke-width="0.9"/>
<path d="M390.80,572.60L395.10,568.30L399.40,572.60L395.10,576.90Z" fill="#4b89bc" stroke="#000" stroke-width="0.9" stroke-linejoin="miter"/>
<path d="M398.10,593.30L402.40,589.00L406.70,593.30L402.40,597.60Z" fill="#4b89bc" stroke="#000" stroke-width="0.9" stroke-linejoin="miter"/>
<path d="M390.70,588.82L395.00,596.42L386.40,596.42Z" fill="#fd8f36" stroke="#000" stroke-width="0.9" stroke-linejoin="miter"/>
<rect x="409.30" y="579.50" width="5.80" height="5.80" fill="#1e5582" stroke="#000" stroke-width="0.9"/>
<path d="M415.30,601.32L419.60,608.92L411.00,608.92Z" fill="#fd8f36" stroke="#000" stroke-width="0.9" stroke-linejoin="miter"/>
<rect x="409.30" y="609.60" width="5.80" height="5.80" fill="#1e5582" stroke="#000" stroke-width="0.9"/>
<circle cx="427.0" cy="606.0" r="3.20" fill="#aed4f4" stroke="#000" stroke-width="0.9"/>
<rect x="427.40" y="605.70" width="5.80" height="5.80" fill="#1e5582" stroke="#000" stroke-width="0.9"/>
<path d="M410.60,624.32L414.90,631.92L406.30,631.92Z" fill="#fd8f36" stroke="#000" stroke-width="0.9" stroke-linejoin="miter"/>
<path d="M423.10,627.22L427.40,634.82L418.80,634.82Z" fill="#fd8f36" stroke="#000" stroke-width="0.9" stroke-linejoin="miter"/>
<path d="M415.80,637.02L420.10,644.62L411.50,644.62Z" fill="#fd8f36" stroke="#000" stroke-width="0.9" stroke-linejoin="miter"/>
<path d="M433.60,570.50L437.90,566.20L442.20,570.50L437.90,574.80Z" fill="#4b89bc" stroke="#000" stroke-width="0.9" stroke-linejoin="miter"/>
<rect x="438.30" y="571.00" width="5.80" height="5.80" fill="#1e5582" stroke="#000" stroke-width="0.9"/>
<path d="M433.60,586.60L437.90,582.30L442.20,586.60L437.90,590.90Z" fill="#4b89bc" stroke="#000" stroke-width="0.9" stroke-linejoin="miter"/>
<path d="M436.90,585.30L441.20,581.00L445.50,585.30L441.20,589.60Z" fill="#4b89bc" stroke="#000" stroke-width="0.9" stroke-linejoin="miter"/>
<circle cx="438.6" cy="592.5" r="3.20" fill="#aed4f4" stroke="#000" stroke-width="0.9"/>
<circle cx="451.9" cy="564.0" r="3.20" fill="#aed4f4" stroke="#000" stroke-width="0.9"/>
<path d="M451.20,570.98L459.80,570.98L455.50,578.58Z" fill="#02640b" stroke="#000" stroke-width="0.9" stroke-linejoin="miter"/>
<circle cx="452.9" cy="585.0" r="3.20" fill="#aed4f4" stroke="#000" stroke-width="0.9"/>
<circle cx="448.0" cy="619.0" r="3.20" fill="#aed4f4" stroke="#000" stroke-width="0.9"/>
<path d="M460.70,621.22L465.00,628.82L456.40,628.82Z" fill="#fd8f36" stroke="#000" stroke-width="0.9" stroke-linejoin="miter"/>
<path d="M461.70,630.62L466.00,638.22L457.40,638.22Z" fill="#fd8f36" stroke="#000" stroke-width="0.9" stroke-linejoin="miter"/>
<path d="M464.90,521.98L473.50,521.98L469.20,529.58Z" fill="#02640b" stroke="#000" stroke-width="0.9" stroke-linejoin="miter"/>
<path d="M469.00,566.42L473.30,574.02L464.70,574.02Z" fill="#fd8f36" stroke="#000" stroke-width="0.9" stroke-linejoin="miter"/>
<path d="M467.70,589.22L472.00,596.82L463.40,596.82Z" fill="#fd8f36" stroke="#000" stroke-width="0.9" stroke-linejoin="miter"/>
<path d="M471.30,595.72L475.60,603.32L467.00,603.32Z" fill="#fd8f36" stroke="#000" stroke-width="0.9" stroke-linejoin="miter"/>
<path d="M517.40,516.58L526.00,516.58L521.70,524.18Z" fill="#02640b" stroke="#000" stroke-width="0.9" stroke-linejoin="miter"/>
<path d="M549.50,515.08L558.10,515.08L553.80,522.68Z" fill="#02640b" stroke="#000" stroke-width="0.9" stroke-linejoin="miter"/>
<path d="M523.80,546.78L532.40,546.78L528.10,554.38Z" fill="#02640b" stroke="#000" stroke-width="0.9" stroke-linejoin="miter"/>
<path d="M475.70,561.48L484.30,561.48L480.00,569.08Z" fill="#02640b" stroke="#000" stroke-width="0.9" stroke-linejoin="miter"/>
<path d="M480.40,580.88L489.00,580.88L484.70,588.48Z" fill="#02640b" stroke="#000" stroke-width="0.9" stroke-linejoin="miter"/>
<path d="M538.30,575.98L546.90,575.98L542.60,583.58Z" fill="#02640b" stroke="#000" stroke-width="0.9" stroke-linejoin="miter"/>
<path d="M548.50,573.38L557.10,573.38L552.80,580.98Z" fill="#02640b" stroke="#000" stroke-width="0.9" stroke-linejoin="miter"/>
<path d="M485.30,530.00L489.60,525.70L493.90,530.00L489.60,534.30Z" fill="#4b89bc" stroke="#000" stroke-width="0.9" stroke-linejoin="miter"/>
<path d="M485.00,540.20L489.30,535.90L493.60,540.20L489.30,544.50Z" fill="#4b89bc" stroke="#000" stroke-width="0.9" stroke-linejoin="miter"/>
<path d="M489.80,542.40L494.10,538.10L498.40,542.40L494.10,546.70Z" fill="#4b89bc" stroke="#000" stroke-width="0.9" stroke-linejoin="miter"/>
<path d="M494.20,555.90L498.50,551.60L502.80,555.90L498.50,560.20Z" fill="#4b89bc" stroke="#000" stroke-width="0.9" stroke-linejoin="miter"/>
<path d="M515.50,560.30L519.80,556.00L524.10,560.30L519.80,564.60Z" fill="#4b89bc" stroke="#000" stroke-width="0.9" stroke-linejoin="miter"/>
<circle cx="489.6" cy="549.7" r="3.20" fill="#aed4f4" stroke="#000" stroke-width="0.9"/>
<circle cx="482.1" cy="629.5" r="3.20" fill="#aed4f4" stroke="#000" stroke-width="0.9"/>
<circle cx="485.4" cy="648.5" r="3.20" fill="#aed4f4" stroke="#000" stroke-width="0.9"/>
<circle cx="492.9" cy="645.9" r="3.20" fill="#aed4f4" stroke="#000" stroke-width="0.9"/>
<circle cx="516.3" cy="641.4" r="3.20" fill="#aed4f4" stroke="#000" stroke-width="0.9"/>
<rect x="496.70" y="588.40" width="5.80" height="5.80" fill="#1e5582" stroke="#000" stroke-width="0.9"/>
<rect x="500.20" y="603.50" width="5.80" height="5.80" fill="#1e5582" stroke="#000" stroke-width="0.9"/>
<rect x="495.90" y="617.50" width="5.80" height="5.80" fill="#1e5582" stroke="#000" stroke-width="0.9"/>
<rect x="504.70" y="640.80" width="5.80" height="5.80" fill="#1e5582" stroke="#000" stroke-width="0.9"/>
<rect x="369.4" y="482.3" width="202.80000000000007" height="184.7" fill="none" stroke="#333333" stroke-width="1.2"/>
<line x1="365.09999999999997" x2="369.4" y1="630.9" y2="630.9" stroke="#333333" stroke-width="1.2"/>
<text x="363.30" y="635.80" font-size="12.6" text-anchor="end" fill="#222222">20</text>
<line x1="365.09999999999997" x2="369.4" y1="574.8499999999999" y2="574.8499999999999" stroke="#333333" stroke-width="1.2"/>
<text x="363.30" y="579.75" font-size="12.6" text-anchor="end" fill="#222222">30</text>
<line x1="365.09999999999997" x2="369.4" y1="518.8" y2="518.8" stroke="#333333" stroke-width="1.2"/>
<text x="363.30" y="523.70" font-size="12.6" text-anchor="end" fill="#222222">40</text>
<line x1="378.4" x2="378.4" y1="667.0" y2="671.0" stroke="#333333" stroke-width="1.2"/>
<text x="378.4" y="683.2" font-size="12.3" text-anchor="middle" fill="#222222">60</text>
<line x1="415.34" x2="415.34" y1="667.0" y2="671.0" stroke="#333333" stroke-width="1.2"/>
<text x="415.34" y="683.2" font-size="12.3" text-anchor="middle" fill="#222222">80</text>
<line x1="452.28" x2="452.28" y1="667.0" y2="671.0" stroke="#333333" stroke-width="1.2"/>
<text x="452.28" y="683.2" font-size="12.3" text-anchor="middle" fill="#222222">100</text>
<line x1="489.22" x2="489.22" y1="667.0" y2="671.0" stroke="#333333" stroke-width="1.2"/>
<text x="489.22" y="683.2" font-size="12.3" text-anchor="middle" fill="#222222">120</text>
<line x1="526.1600000000001" x2="526.1600000000001" y1="667.0" y2="671.0" stroke="#333333" stroke-width="1.2"/>
<text x="526.1600000000001" y="683.2" font-size="12.3" text-anchor="middle" fill="#222222">140</text>
<line x1="563.1" x2="563.1" y1="667.0" y2="671.0" stroke="#333333" stroke-width="1.2"/>
<text x="563.1" y="683.2" font-size="12.3" text-anchor="middle" fill="#222222">160</text>
<text x="341.5" y="574.6" font-size="15.6" text-anchor="middle" transform="rotate(-90 341.5 574.6)" fill="#111">KI67 proliferation index</text>
<text x="470.8" y="704.0" font-size="15.6" text-anchor="middle" font-weight="normal" fill="#111" >Crypt length [µm]</text>
<text x="343.5" y="467.6" font-size="23.8" text-anchor="start" font-weight="bold" fill="#000" >f</text>
<text x="564.3" y="476.9" font-size="15.3" text-anchor="end" font-weight="normal" fill="#111" >Caecum</text>
<text x="446.5" y="664.7" font-size="13.5" text-anchor="start" font-weight="normal" fill="#111" letter-spacing="1.64">r=0.255 (p=0.77)</text>
<path d="M600.46,538.71L609.74,538.71L605.10,546.91Z" fill="#02640b" stroke="#000" stroke-width="0.9" stroke-linejoin="miter"/>
<text x="625.1" y="546.6999999999999" font-size="12.2" text-anchor="start" font-weight="normal" fill="#111" >Chow</text>
<circle cx="605.1" cy="566.23" r="3.84" fill="#aed4f4" stroke="#000" stroke-width="0.9"/>
<text x="625.1" y="570.53" font-size="12.2" text-anchor="start" font-weight="normal" fill="#111" >70S</text>
<path d="M600.46,590.06L605.10,585.42L609.74,590.06L605.10,594.70Z" fill="#4b89bc" stroke="#000" stroke-width="0.9" stroke-linejoin="miter"/>
<text x="625.1" y="594.3599999999999" font-size="12.2" text-anchor="start" font-weight="normal" fill="#111" >50S</text>
<rect x="601.62" y="610.41" width="6.96" height="6.96" fill="#1e5582" stroke="#000" stroke-width="0.9"/>
<text x="625.1" y="618.1899999999999" font-size="12.2" text-anchor="start" font-weight="normal" fill="#111" >30S</text>
<path d="M605.10,633.21L609.74,641.41L600.46,641.41Z" fill="#fd8f36" stroke="#000" stroke-width="0.9" stroke-linejoin="miter"/>
<text x="625.1" y="642.02" font-size="12.2" text-anchor="start" font-weight="normal" fill="#111" >AIN93G</text>
<text x="21.2" y="733.0" font-size="23.8" text-anchor="start" font-weight="bold" fill="#000" >g</text>
<defs><filter id="hb" x="0" y="0" width="1" height="1" color-interpolation-filters="sRGB"><feGaussianBlur in="SourceGraphic" stdDeviation="0.55" result="bl"/><feTurbulence type="fractalNoise" baseFrequency="0.2" numOctaves="2" seed="5" result="n"/><feColorMatrix in="n" type="matrix" values="0 0 0 0 0.26  0 0 0 0 0.09  0 0 0 0 0.34  4.2 0 0 0 -2.2" result="spk"/><feColorMatrix in="bl" type="matrix" values="0 0 0 0 0  0 0 0 0 0  0 0 0 0 0  -0.6 -0.6 -0.6 0 1.55" result="dk"/><feComposite in="spk" in2="dk" operator="in" result="spk2"/><feGaussianBlur in="spk2" stdDeviation="0.35" result="spk3"/><feMerge><feMergeNode in="bl"/><feMergeNode in="spk3"/></feMerge></filter>
<clipPath id="c1"><rect x="4.9" y="748" width="217.1" height="164"/></clipPath>
<clipPath id="c2"><rect x="237" y="747.6" width="217.3" height="163"/></clipPath>
<clipPath id="c3"><rect x="468" y="747.6" width="217" height="162.5"/></clipPath></defs>
<g clip-path="url(#c1)"><g filter="url(#hb)">
<rect x="4.9" y="748" width="217.1" height="164" fill="#b77aa8"/>
<path d="M4.9,830.0L30.0,820.0L60.0,912.0L4.9,912.0Z" fill="#8d5b98" opacity="1.0"/>
<line x1="5.1" y1="906.9" x2="-10.0" y2="850.0" stroke="#e6c6da" stroke-width="25.8" stroke-linecap="round"/>
<line x1="5.1" y1="906.9" x2="-10.0" y2="850.0" stroke="#633477" stroke-width="24.0" stroke-linecap="round"/>
<line x1="5.1" y1="906.9" x2="-10.0" y2="850.0" stroke="#b9a2c2" stroke-width="16.0" stroke-linecap="round"/>
<line x1="3.8" y1="902.0" x2="-6.2" y2="864.2" stroke="#d8cedc" stroke-width="8.0" stroke-linecap="round" opacity="0.75"/>
<line x1="3.3" y1="900.1" x2="-2.5" y2="878.4" stroke="#eee8ef" stroke-width="1.6" stroke-linecap="round" opacity="0.8"/>
<ellipse cx="-4.9" cy="908.9" rx="1.3" ry="1.8" fill="#4f2a63" opacity="0.75" transform="rotate(-15 -4.9 908.9)"/>
<ellipse cx="13.4" cy="903.9" rx="1.3" ry="1.8" fill="#4f2a63" opacity="0.75" transform="rotate(-15 13.4 903.9)"/>
<ellipse cx="-6.1" cy="904.5" rx="1.3" ry="1.8" fill="#4f2a63" opacity="0.75" transform="rotate(-15 -6.1 904.5)"/>
<ellipse cx="12.2" cy="899.5" rx="1.3" ry="1.8" fill="#4f2a63" opacity="0.75" transform="rotate(-15 12.2 899.5)"/>
<ellipse cx="-7.0" cy="900.9" rx="1.3" ry="1.8" fill="#4f2a63" opacity="0.75" transform="rotate(-15 -7.0 900.9)"/>
<ellipse cx="12.6" cy="895.6" rx="1.3" ry="1.8" fill="#4f2a63" opacity="0.75" transform="rotate(-15 12.6 895.6)"/>
<ellipse cx="-7.3" cy="897.4" rx="1.3" ry="1.8" fill="#4f2a63" opacity="0.75" transform="rotate(-15 -7.3 897.4)"/>
<ellipse cx="11.0" cy="891.6" rx="1.3" ry="1.8" fill="#4f2a63" opacity="0.75" transform="rotate(-15 11.0 891.6)"/>
<ellipse cx="-9.7" cy="891.7" rx="1.3" ry="1.8" fill="#4f2a63" opacity="0.75" transform="rotate(-15 -9.7 891.7)"/>
<ellipse cx="9.1" cy="885.6" rx="1.3" ry="1.8" fill="#4f2a63" opacity="0.75" transform="rotate(-15 9.1 885.6)"/>
<ellipse cx="-9.9" cy="889.3" rx="1.3" ry="1.8" fill="#4f2a63" opacity="0.75" transform="rotate(-15 -9.9 889.3)"/>
<ellipse cx="8.3" cy="884.0" rx="1.3" ry="1.8" fill="#4f2a63" opacity="0.75" transform="rotate(-15 8.3 884.0)"/>
<ellipse cx="-11.1" cy="883.7" rx="1.3" ry="1.8" fill="#4f2a63" opacity="0.75" transform="rotate(-15 -11.1 883.7)"/>
<ellipse cx="6.7" cy="878.1" rx="1.3" ry="1.8" fill="#4f2a63" opacity="0.75" transform="rotate(-15 6.7 878.1)"/>
<ellipse cx="-11.5" cy="880.3" rx="1.3" ry="1.8" fill="#4f2a63" opacity="0.75" transform="rotate(-15 -11.5 880.3)"/>
<ellipse cx="6.3" cy="875.7" rx="1.3" ry="1.8" fill="#4f2a63" opacity="0.75" transform="rotate(-15 6.3 875.7)"/>
<ellipse cx="-13.3" cy="876.4" rx="1.3" ry="1.8" fill="#4f2a63" opacity="0.75" transform="rotate(-15 -13.3 876.4)"/>
<ellipse cx="5.7" cy="870.6" rx="1.3" ry="1.8" fill="#4f2a63" opacity="0.75" transform="rotate(-15 5.7 870.6)"/>
<ellipse cx="-14.1" cy="872.2" rx="1.3" ry="1.8" fill="#4f2a63" opacity="0.75" transform="rotate(-15 -14.1 872.2)"/>
<ellipse cx="4.6" cy="866.4" rx="1.3" ry="1.8" fill="#4f2a63" opacity="0.75" transform="rotate(-15 4.6 866.4)"/>
<ellipse cx="-16.0" cy="866.6" rx="1.3" ry="1.8" fill="#4f2a63" opacity="0.75" transform="rotate(-15 -16.0 866.6)"/>
<ellipse cx="3.4" cy="861.3" rx="1.3" ry="1.8" fill="#4f2a63" opacity="0.75" transform="rotate(-15 3.4 861.3)"/>
<ellipse cx="-17.0" cy="863.9" rx="1.3" ry="1.8" fill="#4f2a63" opacity="0.75" transform="rotate(-15 -17.0 863.9)"/>
<ellipse cx="2.6" cy="858.9" rx="1.3" ry="1.8" fill="#4f2a63" opacity="0.75" transform="rotate(-15 2.6 858.9)"/>
<ellipse cx="-17.8" cy="859.1" rx="1.3" ry="1.8" fill="#4f2a63" opacity="0.75" transform="rotate(-15 -17.8 859.1)"/>
<ellipse cx="1.0" cy="854.0" rx="1.3" ry="1.8" fill="#4f2a63" opacity="0.75" transform="rotate(-15 1.0 854.0)"/>
<ellipse cx="-17.8" cy="856.3" rx="1.3" ry="1.8" fill="#4f2a63" opacity="0.75" transform="rotate(-15 -17.8 856.3)"/>
<ellipse cx="-0.0" cy="851.0" rx="1.3" ry="1.8" fill="#4f2a63" opacity="0.75" transform="rotate(-15 -0.0 851.0)"/>
<circle cx="5.2" cy="897.8" r="1.8" fill="#d6cfdc" opacity="0.8"/>
<circle cx="1.5" cy="870.2" r="1.8" fill="#d6cfdc" opacity="0.8"/>
<circle cx="-8.8" cy="864.5" r="1.8" fill="#d6cfdc" opacity="0.8"/>
<circle cx="0.9" cy="883.1" r="1.8" fill="#d6cfdc" opacity="0.8"/>
<circle cx="2.8" cy="900.3" r="1.8" fill="#d6cfdc" opacity="0.8"/>
<circle cx="-2.9" cy="894.7" r="1.8" fill="#d6cfdc" opacity="0.8"/>
<circle cx="6.0" cy="897.7" r="1.8" fill="#d6cfdc" opacity="0.8"/>
<circle cx="-0.9" cy="896.1" r="1.8" fill="#d6cfdc" opacity="0.8"/>
<circle cx="3.2" cy="882.3" r="1.8" fill="#d6cfdc" opacity="0.8"/>
<line x1="34.7" y1="903.0" x2="14.0" y2="828.0" stroke="#e6c6da" stroke-width="27.8" stroke-linecap="round"/>
<line x1="34.7" y1="903.0" x2="14.0" y2="828.0" stroke="#633477" stroke-width="26.0" stroke-linecap="round"/>
<line x1="34.7" y1="903.0" x2="14.0" y2="828.0" stroke="#b9a2c2" stroke-width="18.0" stroke-linecap="round"/>
<line x1="33.3" y1="898.1" x2="19.2" y2="846.7" stroke="#d8cedc" stroke-width="10.0" stroke-linecap="round" opacity="0.75"/>
<line x1="32.8" y1="896.2" x2="24.3" y2="865.5" stroke="#eee8ef" stroke-width="1.6" stroke-linecap="round" opacity="0.8"/>
<ellipse cx="24.4" cy="905.7" rx="1.3" ry="1.8" fill="#4f2a63" opacity="0.75" transform="rotate(-15 24.4 905.7)"/>
<ellipse cx="45.4" cy="900.5" rx="1.3" ry="1.8" fill="#4f2a63" opacity="0.75" transform="rotate(-15 45.4 900.5)"/>
<ellipse cx="22.6" cy="900.0" rx="1.3" ry="1.8" fill="#4f2a63" opacity="0.75" transform="rotate(-15 22.6 900.0)"/>
<ellipse cx="43.0" cy="895.1" rx="1.3" ry="1.8" fill="#4f2a63" opacity="0.75" transform="rotate(-15 43.0 895.1)"/>
<ellipse cx="21.3" cy="895.4" rx="1.3" ry="1.8" fill="#4f2a63" opacity="0.75" transform="rotate(-15 21.3 895.4)"/>
<ellipse cx="41.7" cy="890.0" rx="1.3" ry="1.8" fill="#4f2a63" opacity="0.75" transform="rotate(-15 41.7 890.0)"/>
<ellipse cx="21.2" cy="892.6" rx="1.3" ry="1.8" fill="#4f2a63" opacity="0.75" transform="rotate(-15 21.2 892.6)"/>
<ellipse cx="40.5" cy="887.2" rx="1.3" ry="1.8" fill="#4f2a63" opacity="0.75" transform="rotate(-15 40.5 887.2)"/>
<ellipse cx="20.1" cy="890.0" rx="1.3" ry="1.8" fill="#4f2a63" opacity="0.75" transform="rotate(-15 20.1 890.0)"/>
<ellipse cx="40.5" cy="883.7" rx="1.3" ry="1.8" fill="#4f2a63" opacity="0.75" transform="rotate(-15 40.5 883.7)"/>
<ellipse cx="19.1" cy="884.1" rx="1.3" ry="1.8" fill="#4f2a63" opacity="0.75" transform="rotate(-15 19.1 884.1)"/>
<ellipse cx="39.7" cy="879.7" rx="1.3" ry="1.8" fill="#4f2a63" opacity="0.75" transform="rotate(-15 39.7 879.7)"/>
<ellipse cx="18.0" cy="880.2" rx="1.3" ry="1.8" fill="#4f2a63" opacity="0.75" transform="rotate(-15 18.0 880.2)"/>
<ellipse cx="37.6" cy="874.1" rx="1.3" ry="1.8" fill="#4f2a63" opacity="0.75" transform="rotate(-15 37.6 874.1)"/>
<ellipse cx="15.9" cy="876.2" rx="1.3" ry="1.8" fill="#4f2a63" opacity="0.75" transform="rotate(-15 15.9 876.2)"/>
<ellipse cx="36.4" cy="870.8" rx="1.3" ry="1.8" fill="#4f2a63" opacity="0.75" transform="rotate(-15 36.4 870.8)"/>
<ellipse cx="14.9" cy="872.7" rx="1.3" ry="1.8" fill="#4f2a63" opacity="0.75" transform="rotate(-15 14.9 872.7)"/>
<ellipse cx="35.3" cy="867.3" rx="1.3" ry="1.8" fill="#4f2a63" opacity="0.75" transform="rotate(-15 35.3 867.3)"/>
<ellipse cx="13.8" cy="870.1" rx="1.3" ry="1.8" fill="#4f2a63" opacity="0.75" transform="rotate(-15 13.8 870.1)"/>
<ellipse cx="35.0" cy="863.4" rx="1.3" ry="1.8" fill="#4f2a63" opacity="0.75" transform="rotate(-15 35.0 863.4)"/>
<ellipse cx="13.3" cy="865.6" rx="1.3" ry="1.8" fill="#4f2a63" opacity="0.75" transform="rotate(-15 13.3 865.6)"/>
<ellipse cx="33.2" cy="860.8" rx="1.3" ry="1.8" fill="#4f2a63" opacity="0.75" transform="rotate(-15 33.2 860.8)"/>
<ellipse cx="12.0" cy="860.4" rx="1.3" ry="1.8" fill="#4f2a63" opacity="0.75" transform="rotate(-15 12.0 860.4)"/>
<ellipse cx="31.6" cy="854.2" rx="1.3" ry="1.8" fill="#4f2a63" opacity="0.75" transform="rotate(-15 31.6 854.2)"/>
<ellipse cx="10.9" cy="858.3" rx="1.3" ry="1.8" fill="#4f2a63" opacity="0.75" transform="rotate(-15 10.9 858.3)"/>
<ellipse cx="31.0" cy="851.4" rx="1.3" ry="1.8" fill="#4f2a63" opacity="0.75" transform="rotate(-15 31.0 851.4)"/>
<ellipse cx="9.9" cy="852.0" rx="1.3" ry="1.8" fill="#4f2a63" opacity="0.75" transform="rotate(-15 9.9 852.0)"/>
<ellipse cx="30.2" cy="846.2" rx="1.3" ry="1.8" fill="#4f2a63" opacity="0.75" transform="rotate(-15 30.2 846.2)"/>
<ellipse cx="9.8" cy="850.1" rx="1.3" ry="1.8" fill="#4f2a63" opacity="0.75" transform="rotate(-15 9.8 850.1)"/>
<ellipse cx="29.6" cy="843.5" rx="1.3" ry="1.8" fill="#4f2a63" opacity="0.75" transform="rotate(-15 29.6 843.5)"/>
<ellipse cx="7.5" cy="846.3" rx="1.3" ry="1.8" fill="#4f2a63" opacity="0.75" transform="rotate(-15 7.5 846.3)"/>
<ellipse cx="28.3" cy="840.7" rx="1.3" ry="1.8" fill="#4f2a63" opacity="0.75" transform="rotate(-15 28.3 840.7)"/>
<ellipse cx="6.5" cy="842.5" rx="1.3" ry="1.8" fill="#4f2a63" opacity="0.75" transform="rotate(-15 6.5 842.5)"/>
<ellipse cx="28.0" cy="837.0" rx="1.3" ry="1.8" fill="#4f2a63" opacity="0.75" transform="rotate(-15 28.0 837.0)"/>
<ellipse cx="6.1" cy="837.5" rx="1.3" ry="1.8" fill="#4f2a63" opacity="0.75" transform="rotate(-15 6.1 837.5)"/>
<ellipse cx="25.4" cy="831.5" rx="1.3" ry="1.8" fill="#4f2a63" opacity="0.75" transform="rotate(-15 25.4 831.5)"/>
<ellipse cx="4.0" cy="833.3" rx="1.3" ry="1.8" fill="#4f2a63" opacity="0.75" transform="rotate(-15 4.0 833.3)"/>
<ellipse cx="24.7" cy="828.1" rx="1.3" ry="1.8" fill="#4f2a63" opacity="0.75" transform="rotate(-15 24.7 828.1)"/>
<circle cx="27.3" cy="852.2" r="1.8" fill="#d6cfdc" opacity="0.8"/>
<circle cx="31.1" cy="867.0" r="1.8" fill="#d6cfdc" opacity="0.8"/>
<circle cx="22.4" cy="834.5" r="1.8" fill="#d6cfdc" opacity="0.8"/>
<circle cx="22.8" cy="874.6" r="1.8" fill="#d6cfdc" opacity="0.8"/>
<circle cx="24.8" cy="883.0" r="1.8" fill="#d6cfdc" opacity="0.8"/>
<circle cx="30.9" cy="882.7" r="1.8" fill="#d6cfdc" opacity="0.8"/>
<circle cx="22.3" cy="840.2" r="1.8" fill="#d6cfdc" opacity="0.8"/>
<circle cx="26.7" cy="866.1" r="1.8" fill="#d6cfdc" opacity="0.8"/>
<circle cx="13.8" cy="849.1" r="1.8" fill="#d6cfdc" opacity="0.8"/>
<circle cx="27.2" cy="854.3" r="1.8" fill="#d6cfdc" opacity="0.8"/>
<circle cx="23.0" cy="847.6" r="1.8" fill="#d6cfdc" opacity="0.8"/>
<circle cx="20.4" cy="868.0" r="1.8" fill="#d6cfdc" opacity="0.8"/>
<line x1="82.1" y1="893.4" x2="53.0" y2="812.0" stroke="#e6c6da" stroke-width="28.8" stroke-linecap="round"/>
<line x1="82.1" y1="893.4" x2="53.0" y2="812.0" stroke="#633477" stroke-width="27.0" stroke-linecap="round"/>
<line x1="82.1" y1="893.4" x2="53.0" y2="812.0" stroke="#b9a2c2" stroke-width="19.0" stroke-linecap="round"/>
<line x1="80.4" y1="888.7" x2="60.3" y2="832.3" stroke="#d8cedc" stroke-width="11.0" stroke-linecap="round" opacity="0.75"/>
<line x1="79.8" y1="886.8" x2="67.6" y2="852.7" stroke="#eee8ef" stroke-width="1.6" stroke-linecap="round" opacity="0.8"/>
<ellipse cx="70.9" cy="896.0" rx="1.3" ry="1.8" fill="#4f2a63" opacity="0.75" transform="rotate(-20 70.9 896.0)"/>
<ellipse cx="92.7" cy="888.0" rx="1.3" ry="1.8" fill="#4f2a63" opacity="0.75" transform="rotate(-20 92.7 888.0)"/>
<ellipse cx="70.8" cy="892.8" rx="1.3" ry="1.8" fill="#4f2a63" opacity="0.75" transform="rotate(-20 70.8 892.8)"/>
<ellipse cx="90.3" cy="884.4" rx="1.3" ry="1.8" fill="#4f2a63" opacity="0.75" transform="rotate(-20 90.3 884.4)"/>
<ellipse cx="69.5" cy="889.5" rx="1.3" ry="1.8" fill="#4f2a63" opacity="0.75" transform="rotate(-20 69.5 889.5)"/>
<ellipse cx="89.0" cy="882.1" rx="1.3" ry="1.8" fill="#4f2a63" opacity="0.75" transform="rotate(-20 89.0 882.1)"/>
<ellipse cx="67.2" cy="883.3" rx="1.3" ry="1.8" fill="#4f2a63" opacity="0.75" transform="rotate(-20 67.2 883.3)"/>
<ellipse cx="87.7" cy="875.5" rx="1.3" ry="1.8" fill="#4f2a63" opacity="0.75" transform="rotate(-20 87.7 875.5)"/>
<ellipse cx="67.0" cy="881.8" rx="1.3" ry="1.8" fill="#4f2a63" opacity="0.75" transform="rotate(-20 67.0 881.8)"/>
<ellipse cx="87.0" cy="874.8" rx="1.3" ry="1.8" fill="#4f2a63" opacity="0.75" transform="rotate(-20 87.0 874.8)"/>
<ellipse cx="65.1" cy="877.4" rx="1.3" ry="1.8" fill="#4f2a63" opacity="0.75" transform="rotate(-20 65.1 877.4)"/>
<ellipse cx="84.8" cy="869.0" rx="1.3" ry="1.8" fill="#4f2a63" opacity="0.75" transform="rotate(-20 84.8 869.0)"/>
<ellipse cx="62.8" cy="873.4" rx="1.3" ry="1.8" fill="#4f2a63" opacity="0.75" transform="rotate(-20 62.8 873.4)"/>
<ellipse cx="83.6" cy="865.7" rx="1.3" ry="1.8" fill="#4f2a63" opacity="0.75" transform="rotate(-20 83.6 865.7)"/>
<ellipse cx="62.6" cy="869.5" rx="1.3" ry="1.8" fill="#4f2a63" opacity="0.75" transform="rotate(-20 62.6 869.5)"/>
<ellipse cx="82.6" cy="862.4" rx="1.3" ry="1.8" fill="#4f2a63" opacity="0.75" transform="rotate(-20 82.6 862.4)"/>
<ellipse cx="59.9" cy="865.0" rx="1.3" ry="1.8" fill="#4f2a63" opacity="0.75" transform="rotate(-20 59.9 865.0)"/>
<ellipse cx="80.8" cy="857.0" rx="1.3" ry="1.8" fill="#4f2a63" opacity="0.75" transform="rotate(-20 80.8 857.0)"/>
<ellipse cx="58.1" cy="861.1" rx="1.3" ry="1.8" fill="#4f2a63" opacity="0.75" transform="rotate(-20 58.1 861.1)"/>
<ellipse cx="79.1" cy="853.0" rx="1.3" ry="1.8" fill="#4f2a63" opacity="0.75" transform="rotate(-20 79.1 853.0)"/>
<ellipse cx="56.8" cy="856.7" rx="1.3" ry="1.8" fill="#4f2a63" opacity="0.75" transform="rotate(-20 56.8 856.7)"/>
<ellipse cx="78.4" cy="849.5" rx="1.3" ry="1.8" fill="#4f2a63" opacity="0.75" transform="rotate(-20 78.4 849.5)"/>
<ellipse cx="56.3" cy="853.9" rx="1.3" ry="1.8" fill="#4f2a63" opacity="0.75" transform="rotate(-20 56.3 853.9)"/>
<ellipse cx="77.5" cy="845.8" rx="1.3" ry="1.8" fill="#4f2a63" opacity="0.75" transform="rotate(-20 77.5 845.8)"/>
<ellipse cx="54.3" cy="849.1" rx="1.3" ry="1.8" fill="#4f2a63" opacity="0.75" transform="rotate(-20 54.3 849.1)"/>
<ellipse cx="75.9" cy="842.1" rx="1.3" ry="1.8" fill="#4f2a63" opacity="0.75" transform="rotate(-20 75.9 842.1)"/>
<ellipse cx="53.8" cy="846.3" rx="1.3" ry="1.8" fill="#4f2a63" opacity="0.75" transform="rotate(-20 53.8 846.3)"/>
<ellipse cx="74.0" cy="838.4" rx="1.3" ry="1.8" fill="#4f2a63" opacity="0.75" transform="rotate(-20 74.0 838.4)"/>
<ellipse cx="52.0" cy="842.2" rx="1.3" ry="1.8" fill="#4f2a63" opacity="0.75" transform="rotate(-20 52.0 842.2)"/>
<ellipse cx="72.6" cy="834.5" rx="1.3" ry="1.8" fill="#4f2a63" opacity="0.75" transform="rotate(-20 72.6 834.5)"/>
<ellipse cx="51.3" cy="838.3" rx="1.3" ry="1.8" fill="#4f2a63" opacity="0.75" transform="rotate(-20 51.3 838.3)"/>
<ellipse cx="71.9" cy="831.3" rx="1.3" ry="1.8" fill="#4f2a63" opacity="0.75" transform="rotate(-20 71.9 831.3)"/>
<ellipse cx="49.5" cy="835.3" rx="1.3" ry="1.8" fill="#4f2a63" opacity="0.75" transform="rotate(-20 49.5 835.3)"/>
<ellipse cx="70.7" cy="826.6" rx="1.3" ry="1.8" fill="#4f2a63" opacity="0.75" transform="rotate(-20 70.7 826.6)"/>
<ellipse cx="48.0" cy="830.3" rx="1.3" ry="1.8" fill="#4f2a63" opacity="0.75" transform="rotate(-20 48.0 830.3)"/>
<ellipse cx="68.4" cy="822.9" rx="1.3" ry="1.8" fill="#4f2a63" opacity="0.75" transform="rotate(-20 68.4 822.9)"/>
<ellipse cx="46.8" cy="826.7" rx="1.3" ry="1.8" fill="#4f2a63" opacity="0.75" transform="rotate(-20 46.8 826.7)"/>
<ellipse cx="66.5" cy="819.0" rx="1.3" ry="1.8" fill="#4f2a63" opacity="0.75" transform="rotate(-20 66.5 819.0)"/>
<ellipse cx="44.4" cy="822.8" rx="1.3" ry="1.8" fill="#4f2a63" opacity="0.75" transform="rotate(-20 44.4 822.8)"/>
<ellipse cx="66.4" cy="814.3" rx="1.3" ry="1.8" fill="#4f2a63" opacity="0.75" transform="rotate(-20 66.4 814.3)"/>
<ellipse cx="43.2" cy="817.7" rx="1.3" ry="1.8" fill="#4f2a63" opacity="0.75" transform="rotate(-20 43.2 817.7)"/>
<ellipse cx="64.9" cy="810.9" rx="1.3" ry="1.8" fill="#4f2a63" opacity="0.75" transform="rotate(-20 64.9 810.9)"/>
<circle cx="74.5" cy="875.1" r="1.8" fill="#d6cfdc" opacity="0.8"/>
<circle cx="64.9" cy="852.5" r="1.8" fill="#d6cfdc" opacity="0.8"/>
<circle cx="72.1" cy="873.4" r="1.8" fill="#d6cfdc" opacity="0.8"/>
<circle cx="55.6" cy="840.6" r="1.8" fill="#d6cfdc" opacity="0.8"/>
<circle cx="65.5" cy="849.5" r="1.8" fill="#d6cfdc" opacity="0.8"/>
<circle cx="76.4" cy="884.9" r="1.8" fill="#d6cfdc" opacity="0.8"/>
<circle cx="64.8" cy="844.6" r="1.8" fill="#d6cfdc" opacity="0.8"/>
<circle cx="84.6" cy="878.6" r="1.8" fill="#d6cfdc" opacity="0.8"/>
<circle cx="67.5" cy="831.5" r="1.8" fill="#d6cfdc" opacity="0.8"/>
<circle cx="73.5" cy="879.6" r="1.8" fill="#d6cfdc" opacity="0.8"/>
<circle cx="82.2" cy="881.2" r="1.8" fill="#d6cfdc" opacity="0.8"/>
<circle cx="67.7" cy="869.5" r="1.8" fill="#d6cfdc" opacity="0.8"/>
<circle cx="75.2" cy="855.7" r="1.8" fill="#d6cfdc" opacity="0.8"/>
<circle cx="56.7" cy="833.1" r="1.8" fill="#d6cfdc" opacity="0.8"/>
<line x1="118.4" y1="870.3" x2="90.0" y2="795.0" stroke="#e6c6da" stroke-width="26.8" stroke-linecap="round"/>
<line x1="118.4" y1="870.3" x2="90.0" y2="795.0" stroke="#633477" stroke-width="25.0" stroke-linecap="round"/>
<line x1="118.4" y1="870.3" x2="90.0" y2="795.0" stroke="#b9a2c2" stroke-width="17.0" stroke-linecap="round"/>
<line x1="116.6" y1="865.6" x2="97.1" y2="813.8" stroke="#d8cedc" stroke-width="9.0" stroke-linecap="round" opacity="0.75"/>
<line x1="115.9" y1="863.7" x2="104.2" y2="832.6" stroke="#eee8ef" stroke-width="1.6" stroke-linecap="round" opacity="0.8"/>
<ellipse cx="109.6" cy="873.6" rx="1.3" ry="1.8" fill="#4f2a63" opacity="0.75" transform="rotate(-21 109.6 873.6)"/>
<ellipse cx="127.9" cy="865.8" rx="1.3" ry="1.8" fill="#4f2a63" opacity="0.75" transform="rotate(-21 127.9 865.8)"/>
<ellipse cx="107.9" cy="869.8" rx="1.3" ry="1.8" fill="#4f2a63" opacity="0.75" transform="rotate(-21 107.9 869.8)"/>
<ellipse cx="125.6" cy="863.6" rx="1.3" ry="1.8" fill="#4f2a63" opacity="0.75" transform="rotate(-21 125.6 863.6)"/>
<ellipse cx="106.2" cy="864.4" rx="1.3" ry="1.8" fill="#4f2a63" opacity="0.75" transform="rotate(-21 106.2 864.4)"/>
<ellipse cx="125.0" cy="857.3" rx="1.3" ry="1.8" fill="#4f2a63" opacity="0.75" transform="rotate(-21 125.0 857.3)"/>
<ellipse cx="104.1" cy="860.6" rx="1.3" ry="1.8" fill="#4f2a63" opacity="0.75" transform="rotate(-21 104.1 860.6)"/>
<ellipse cx="122.9" cy="854.5" rx="1.3" ry="1.8" fill="#4f2a63" opacity="0.75" transform="rotate(-21 122.9 854.5)"/>
<ellipse cx="102.6" cy="858.3" rx="1.3" ry="1.8" fill="#4f2a63" opacity="0.75" transform="rotate(-21 102.6 858.3)"/>
<ellipse cx="121.4" cy="850.6" rx="1.3" ry="1.8" fill="#4f2a63" opacity="0.75" transform="rotate(-21 121.4 850.6)"/>
<ellipse cx="101.1" cy="854.2" rx="1.3" ry="1.8" fill="#4f2a63" opacity="0.75" transform="rotate(-21 101.1 854.2)"/>
<ellipse cx="120.2" cy="847.3" rx="1.3" ry="1.8" fill="#4f2a63" opacity="0.75" transform="rotate(-21 120.2 847.3)"/>
<ellipse cx="99.6" cy="849.8" rx="1.3" ry="1.8" fill="#4f2a63" opacity="0.75" transform="rotate(-21 99.6 849.8)"/>
<ellipse cx="118.2" cy="842.5" rx="1.3" ry="1.8" fill="#4f2a63" opacity="0.75" transform="rotate(-21 118.2 842.5)"/>
<ellipse cx="98.7" cy="846.6" rx="1.3" ry="1.8" fill="#4f2a63" opacity="0.75" transform="rotate(-21 98.7 846.6)"/>
<ellipse cx="118.2" cy="840.4" rx="1.3" ry="1.8" fill="#4f2a63" opacity="0.75" transform="rotate(-21 118.2 840.4)"/>
<ellipse cx="97.5" cy="844.0" rx="1.3" ry="1.8" fill="#4f2a63" opacity="0.75" transform="rotate(-21 97.5 844.0)"/>
<ellipse cx="115.6" cy="836.8" rx="1.3" ry="1.8" fill="#4f2a63" opacity="0.75" transform="rotate(-21 115.6 836.8)"/>
<ellipse cx="95.9" cy="839.6" rx="1.3" ry="1.8" fill="#4f2a63" opacity="0.75" transform="rotate(-21 95.9 839.6)"/>
<ellipse cx="114.5" cy="832.1" rx="1.3" ry="1.8" fill="#4f2a63" opacity="0.75" transform="rotate(-21 114.5 832.1)"/>
<ellipse cx="95.1" cy="834.6" rx="1.3" ry="1.8" fill="#4f2a63" opacity="0.75" transform="rotate(-21 95.1 834.6)"/>
<ellipse cx="113.6" cy="828.1" rx="1.3" ry="1.8" fill="#4f2a63" opacity="0.75" transform="rotate(-21 113.6 828.1)"/>
<ellipse cx="92.8" cy="831.0" rx="1.3" ry="1.8" fill="#4f2a63" opacity="0.75" transform="rotate(-21 92.8 831.0)"/>
<ellipse cx="111.0" cy="823.6" rx="1.3" ry="1.8" fill="#4f2a63" opacity="0.75" transform="rotate(-21 111.0 823.6)"/>
<ellipse cx="92.3" cy="828.1" rx="1.3" ry="1.8" fill="#4f2a63" opacity="0.75" transform="rotate(-21 92.3 828.1)"/>
<ellipse cx="110.1" cy="820.8" rx="1.3" ry="1.8" fill="#4f2a63" opacity="0.75" transform="rotate(-21 110.1 820.8)"/>
<ellipse cx="90.6" cy="823.6" rx="1.3" ry="1.8" fill="#4f2a63" opacity="0.75" transform="rotate(-21 90.6 823.6)"/>
<ellipse cx="108.3" cy="815.8" rx="1.3" ry="1.8" fill="#4f2a63" opacity="0.75" transform="rotate(-21 108.3 815.8)"/>
<ellipse cx="88.9" cy="820.0" rx="1.3" ry="1.8" fill="#4f2a63" opacity="0.75" transform="rotate(-21 88.9 820.0)"/>
<ellipse cx="107.6" cy="813.1" rx="1.3" ry="1.8" fill="#4f2a63" opacity="0.75" transform="rotate(-21 107.6 813.1)"/>
<ellipse cx="87.8" cy="815.6" rx="1.3" ry="1.8" fill="#4f2a63" opacity="0.75" transform="rotate(-21 87.8 815.6)"/>
<ellipse cx="105.4" cy="809.2" rx="1.3" ry="1.8" fill="#4f2a63" opacity="0.75" transform="rotate(-21 105.4 809.2)"/>
<ellipse cx="85.9" cy="812.2" rx="1.3" ry="1.8" fill="#4f2a63" opacity="0.75" transform="rotate(-21 85.9 812.2)"/>
<ellipse cx="104.6" cy="805.9" rx="1.3" ry="1.8" fill="#4f2a63" opacity="0.75" transform="rotate(-21 104.6 805.9)"/>
<ellipse cx="84.1" cy="808.9" rx="1.3" ry="1.8" fill="#4f2a63" opacity="0.75" transform="rotate(-21 84.1 808.9)"/>
<ellipse cx="102.5" cy="801.4" rx="1.3" ry="1.8" fill="#4f2a63" opacity="0.75" transform="rotate(-21 102.5 801.4)"/>
<ellipse cx="83.3" cy="805.2" rx="1.3" ry="1.8" fill="#4f2a63" opacity="0.75" transform="rotate(-21 83.3 805.2)"/>
<ellipse cx="101.4" cy="798.5" rx="1.3" ry="1.8" fill="#4f2a63" opacity="0.75" transform="rotate(-21 101.4 798.5)"/>
<ellipse cx="82.0" cy="801.9" rx="1.3" ry="1.8" fill="#4f2a63" opacity="0.75" transform="rotate(-21 82.0 801.9)"/>
<ellipse cx="101.0" cy="795.1" rx="1.3" ry="1.8" fill="#4f2a63" opacity="0.75" transform="rotate(-21 101.0 795.1)"/>
<circle cx="103.9" cy="817.9" r="1.8" fill="#d6cfdc" opacity="0.8"/>
<circle cx="104.6" cy="840.1" r="1.8" fill="#d6cfdc" opacity="0.8"/>
<circle cx="88.9" cy="805.1" r="1.8" fill="#d6cfdc" opacity="0.8"/>
<circle cx="100.8" cy="818.5" r="1.8" fill="#d6cfdc" opacity="0.8"/>
<circle cx="118.6" cy="858.6" r="1.8" fill="#d6cfdc" opacity="0.8"/>
<circle cx="96.8" cy="808.5" r="1.8" fill="#d6cfdc" opacity="0.8"/>
<circle cx="102.7" cy="817.1" r="1.8" fill="#d6cfdc" opacity="0.8"/>
<circle cx="112.7" cy="854.2" r="1.8" fill="#d6cfdc" opacity="0.8"/>
<circle cx="108.2" cy="830.8" r="1.8" fill="#d6cfdc" opacity="0.8"/>
<circle cx="101.2" cy="812.8" r="1.8" fill="#d6cfdc" opacity="0.8"/>
<circle cx="107.1" cy="825.8" r="1.8" fill="#d6cfdc" opacity="0.8"/>
<circle cx="102.4" cy="820.7" r="1.8" fill="#d6cfdc" opacity="0.8"/>
<circle cx="104.6" cy="851.0" r="1.8" fill="#d6cfdc" opacity="0.8"/>
<line x1="140.7" y1="860.3" x2="113.0" y2="779.0" stroke="#e6c6da" stroke-width="24.8" stroke-linecap="round"/>
<line x1="140.7" y1="860.3" x2="113.0" y2="779.0" stroke="#633477" stroke-width="23.0" stroke-linecap="round"/>
<line x1="140.7" y1="860.3" x2="113.0" y2="779.0" stroke="#b9a2c2" stroke-width="15.0" stroke-linecap="round"/>
<line x1="139.1" y1="855.6" x2="119.9" y2="799.3" stroke="#d8cedc" stroke-width="7.0" stroke-linecap="round" opacity="0.75"/>
<line x1="138.5" y1="853.7" x2="126.9" y2="819.6" stroke="#eee8ef" stroke-width="1.6" stroke-linecap="round" opacity="0.8"/>
<ellipse cx="131.9" cy="862.3" rx="1.3" ry="1.8" fill="#4f2a63" opacity="0.75" transform="rotate(-19 131.9 862.3)"/>
<ellipse cx="149.7" cy="857.2" rx="1.3" ry="1.8" fill="#4f2a63" opacity="0.75" transform="rotate(-19 149.7 857.2)"/>
<ellipse cx="130.7" cy="858.4" rx="1.3" ry="1.8" fill="#4f2a63" opacity="0.75" transform="rotate(-19 130.7 858.4)"/>
<ellipse cx="147.5" cy="851.5" rx="1.3" ry="1.8" fill="#4f2a63" opacity="0.75" transform="rotate(-19 147.5 851.5)"/>
<ellipse cx="129.5" cy="853.9" rx="1.3" ry="1.8" fill="#4f2a63" opacity="0.75" transform="rotate(-19 129.5 853.9)"/>
<ellipse cx="146.2" cy="848.4" rx="1.3" ry="1.8" fill="#4f2a63" opacity="0.75" transform="rotate(-19 146.2 848.4)"/>
<ellipse cx="128.6" cy="851.1" rx="1.3" ry="1.8" fill="#4f2a63" opacity="0.75" transform="rotate(-19 128.6 851.1)"/>
<ellipse cx="144.6" cy="845.3" rx="1.3" ry="1.8" fill="#4f2a63" opacity="0.75" transform="rotate(-19 144.6 845.3)"/>
<ellipse cx="126.0" cy="846.7" rx="1.3" ry="1.8" fill="#4f2a63" opacity="0.75" transform="rotate(-19 126.0 846.7)"/>
<ellipse cx="144.3" cy="840.5" rx="1.3" ry="1.8" fill="#4f2a63" opacity="0.75" transform="rotate(-19 144.3 840.5)"/>
<ellipse cx="125.3" cy="843.4" rx="1.3" ry="1.8" fill="#4f2a63" opacity="0.75" transform="rotate(-19 125.3 843.4)"/>
<ellipse cx="142.8" cy="837.5" rx="1.3" ry="1.8" fill="#4f2a63" opacity="0.75" transform="rotate(-19 142.8 837.5)"/>
<ellipse cx="123.2" cy="838.2" rx="1.3" ry="1.8" fill="#4f2a63" opacity="0.75" transform="rotate(-19 123.2 838.2)"/>
<ellipse cx="140.5" cy="833.3" rx="1.3" ry="1.8" fill="#4f2a63" opacity="0.75" transform="rotate(-19 140.5 833.3)"/>
<ellipse cx="122.9" cy="834.7" rx="1.3" ry="1.8" fill="#4f2a63" opacity="0.75" transform="rotate(-19 122.9 834.7)"/>
<ellipse cx="139.1" cy="829.3" rx="1.3" ry="1.8" fill="#4f2a63" opacity="0.75" transform="rotate(-19 139.1 829.3)"/>
<ellipse cx="121.5" cy="831.2" rx="1.3" ry="1.8" fill="#4f2a63" opacity="0.75" transform="rotate(-19 121.5 831.2)"/>
<ellipse cx="137.9" cy="825.1" rx="1.3" ry="1.8" fill="#4f2a63" opacity="0.75" transform="rotate(-19 137.9 825.1)"/>
<ellipse cx="120.0" cy="826.8" rx="1.3" ry="1.8" fill="#4f2a63" opacity="0.75" transform="rotate(-19 120.0 826.8)"/>
<ellipse cx="137.7" cy="821.2" rx="1.3" ry="1.8" fill="#4f2a63" opacity="0.75" transform="rotate(-19 137.7 821.2)"/>
<ellipse cx="119.1" cy="821.8" rx="1.3" ry="1.8" fill="#4f2a63" opacity="0.75" transform="rotate(-19 119.1 821.8)"/>
<ellipse cx="135.3" cy="817.3" rx="1.3" ry="1.8" fill="#4f2a63" opacity="0.75" transform="rotate(-19 135.3 817.3)"/>
<ellipse cx="117.0" cy="818.4" rx="1.3" ry="1.8" fill="#4f2a63" opacity="0.75" transform="rotate(-19 117.0 818.4)"/>
<ellipse cx="133.6" cy="813.6" rx="1.3" ry="1.8" fill="#4f2a63" opacity="0.75" transform="rotate(-19 133.6 813.6)"/>
<ellipse cx="116.4" cy="815.8" rx="1.3" ry="1.8" fill="#4f2a63" opacity="0.75" transform="rotate(-19 116.4 815.8)"/>
<ellipse cx="133.3" cy="811.2" rx="1.3" ry="1.8" fill="#4f2a63" opacity="0.75" transform="rotate(-19 133.3 811.2)"/>
<ellipse cx="115.5" cy="812.6" rx="1.3" ry="1.8" fill="#4f2a63" opacity="0.75" transform="rotate(-19 115.5 812.6)"/>
<ellipse cx="132.6" cy="807.1" rx="1.3" ry="1.8" fill="#4f2a63" opacity="0.75" transform="rotate(-19 132.6 807.1)"/>
<ellipse cx="114.2" cy="808.5" rx="1.3" ry="1.8" fill="#4f2a63" opacity="0.75" transform="rotate(-19 114.2 808.5)"/>
<ellipse cx="129.9" cy="801.9" rx="1.3" ry="1.8" fill="#4f2a63" opacity="0.75" transform="rotate(-19 129.9 801.9)"/>
<ellipse cx="112.0" cy="803.9" rx="1.3" ry="1.8" fill="#4f2a63" opacity="0.75" transform="rotate(-19 112.0 803.9)"/>
<ellipse cx="128.5" cy="798.1" rx="1.3" ry="1.8" fill="#4f2a63" opacity="0.75" transform="rotate(-19 128.5 798.1)"/>
<ellipse cx="111.4" cy="799.9" rx="1.3" ry="1.8" fill="#4f2a63" opacity="0.75" transform="rotate(-19 111.4 799.9)"/>
<ellipse cx="128.3" cy="795.4" rx="1.3" ry="1.8" fill="#4f2a63" opacity="0.75" transform="rotate(-19 128.3 795.4)"/>
<ellipse cx="110.4" cy="797.5" rx="1.3" ry="1.8" fill="#4f2a63" opacity="0.75" transform="rotate(-19 110.4 797.5)"/>
<ellipse cx="127.4" cy="791.0" rx="1.3" ry="1.8" fill="#4f2a63" opacity="0.75" transform="rotate(-19 127.4 791.0)"/>
<ellipse cx="108.0" cy="793.6" rx="1.3" ry="1.8" fill="#4f2a63" opacity="0.75" transform="rotate(-19 108.0 793.6)"/>
<ellipse cx="125.4" cy="786.8" rx="1.3" ry="1.8" fill="#4f2a63" opacity="0.75" transform="rotate(-19 125.4 786.8)"/>
<ellipse cx="106.5" cy="788.1" rx="1.3" ry="1.8" fill="#4f2a63" opacity="0.75" transform="rotate(-19 106.5 788.1)"/>
<ellipse cx="123.2" cy="783.5" rx="1.3" ry="1.8" fill="#4f2a63" opacity="0.75" transform="rotate(-19 123.2 783.5)"/>
<ellipse cx="106.3" cy="784.8" rx="1.3" ry="1.8" fill="#4f2a63" opacity="0.75" transform="rotate(-19 106.3 784.8)"/>
<ellipse cx="122.3" cy="779.4" rx="1.3" ry="1.8" fill="#4f2a63" opacity="0.75" transform="rotate(-19 122.3 779.4)"/>
<circle cx="132.4" cy="840.3" r="1.8" fill="#d6cfdc" opacity="0.8"/>
<circle cx="120.7" cy="788.6" r="1.8" fill="#d6cfdc" opacity="0.8"/>
<circle cx="121.3" cy="798.9" r="1.8" fill="#d6cfdc" opacity="0.8"/>
<circle cx="122.3" cy="791.2" r="1.8" fill="#d6cfdc" opacity="0.8"/>
<circle cx="128.1" cy="815.7" r="1.8" fill="#d6cfdc" opacity="0.8"/>
<circle cx="139.3" cy="848.1" r="1.8" fill="#d6cfdc" opacity="0.8"/>
<circle cx="130.6" cy="821.9" r="1.8" fill="#d6cfdc" opacity="0.8"/>
<circle cx="121.4" cy="811.0" r="1.8" fill="#d6cfdc" opacity="0.8"/>
<circle cx="141.3" cy="847.5" r="1.8" fill="#d6cfdc" opacity="0.8"/>
<circle cx="134.9" cy="844.0" r="1.8" fill="#d6cfdc" opacity="0.8"/>
<circle cx="128.2" cy="830.5" r="1.8" fill="#d6cfdc" opacity="0.8"/>
<circle cx="126.5" cy="802.4" r="1.8" fill="#d6cfdc" opacity="0.8"/>
<circle cx="133.8" cy="834.7" r="1.8" fill="#d6cfdc" opacity="0.8"/>
<circle cx="131.9" cy="832.4" r="1.8" fill="#d6cfdc" opacity="0.8"/>
<line x1="161.4" y1="851.8" x2="134.0" y2="767.0" stroke="#e6c6da" stroke-width="24.8" stroke-linecap="round"/>
<line x1="161.4" y1="851.8" x2="134.0" y2="767.0" stroke="#633477" stroke-width="23.0" stroke-linecap="round"/>
<line x1="161.4" y1="851.8" x2="134.0" y2="767.0" stroke="#b9a2c2" stroke-width="15.0" stroke-linecap="round"/>
<line x1="159.9" y1="847.1" x2="140.9" y2="788.2" stroke="#d8cedc" stroke-width="7.0" stroke-linecap="round" opacity="0.75"/>
<line x1="159.3" y1="845.2" x2="147.7" y2="809.4" stroke="#eee8ef" stroke-width="1.6" stroke-linecap="round" opacity="0.8"/>
<ellipse cx="152.1" cy="853.3" rx="1.3" ry="1.8" fill="#4f2a63" opacity="0.75" transform="rotate(-18 152.1 853.3)"/>
<ellipse cx="169.3" cy="849.0" rx="1.3" ry="1.8" fill="#4f2a63" opacity="0.75" transform="rotate(-18 169.3 849.0)"/>
<ellipse cx="150.8" cy="850.4" rx="1.3" ry="1.8" fill="#4f2a63" opacity="0.75" transform="rotate(-18 150.8 850.4)"/>
<ellipse cx="169.2" cy="844.2" rx="1.3" ry="1.8" fill="#4f2a63" opacity="0.75" transform="rotate(-18 169.2 844.2)"/>
<ellipse cx="149.8" cy="846.0" rx="1.3" ry="1.8" fill="#4f2a63" opacity="0.75" transform="rotate(-18 149.8 846.0)"/>
<ellipse cx="167.1" cy="840.4" rx="1.3" ry="1.8" fill="#4f2a63" opacity="0.75" transform="rotate(-18 167.1 840.4)"/>
<ellipse cx="148.6" cy="842.7" rx="1.3" ry="1.8" fill="#4f2a63" opacity="0.75" transform="rotate(-18 148.6 842.7)"/>
<ellipse cx="166.7" cy="837.4" rx="1.3" ry="1.8" fill="#4f2a63" opacity="0.75" transform="rotate(-18 166.7 837.4)"/>
<ellipse cx="147.5" cy="838.4" rx="1.3" ry="1.8" fill="#4f2a63" opacity="0.75" transform="rotate(-18 147.5 838.4)"/>
<ellipse cx="164.5" cy="832.6" rx="1.3" ry="1.8" fill="#4f2a63" opacity="0.75" transform="rotate(-18 164.5 832.6)"/>
<ellipse cx="146.2" cy="835.9" rx="1.3" ry="1.8" fill="#4f2a63" opacity="0.75" transform="rotate(-18 146.2 835.9)"/>
<ellipse cx="163.1" cy="829.7" rx="1.3" ry="1.8" fill="#4f2a63" opacity="0.75" transform="rotate(-18 163.1 829.7)"/>
<ellipse cx="145.6" cy="829.8" rx="1.3" ry="1.8" fill="#4f2a63" opacity="0.75" transform="rotate(-18 145.6 829.8)"/>
<ellipse cx="161.7" cy="824.3" rx="1.3" ry="1.8" fill="#4f2a63" opacity="0.75" transform="rotate(-18 161.7 824.3)"/>
<ellipse cx="143.8" cy="827.6" rx="1.3" ry="1.8" fill="#4f2a63" opacity="0.75" transform="rotate(-18 143.8 827.6)"/>
<ellipse cx="161.6" cy="821.9" rx="1.3" ry="1.8" fill="#4f2a63" opacity="0.75" transform="rotate(-18 161.6 821.9)"/>
<ellipse cx="142.1" cy="824.0" rx="1.3" ry="1.8" fill="#4f2a63" opacity="0.75" transform="rotate(-18 142.1 824.0)"/>
<ellipse cx="160.6" cy="818.1" rx="1.3" ry="1.8" fill="#4f2a63" opacity="0.75" transform="rotate(-18 160.6 818.1)"/>
<ellipse cx="140.5" cy="818.6" rx="1.3" ry="1.8" fill="#4f2a63" opacity="0.75" transform="rotate(-18 140.5 818.6)"/>
<ellipse cx="159.1" cy="813.7" rx="1.3" ry="1.8" fill="#4f2a63" opacity="0.75" transform="rotate(-18 159.1 813.7)"/>
<ellipse cx="140.6" cy="814.0" rx="1.3" ry="1.8" fill="#4f2a63" opacity="0.75" transform="rotate(-18 140.6 814.0)"/>
<ellipse cx="156.4" cy="808.3" rx="1.3" ry="1.8" fill="#4f2a63" opacity="0.75" transform="rotate(-18 156.4 808.3)"/>
<ellipse cx="139.1" cy="811.9" rx="1.3" ry="1.8" fill="#4f2a63" opacity="0.75" transform="rotate(-18 139.1 811.9)"/>
<ellipse cx="156.3" cy="805.9" rx="1.3" ry="1.8" fill="#4f2a63" opacity="0.75" transform="rotate(-18 156.3 805.9)"/>
<ellipse cx="137.4" cy="806.9" rx="1.3" ry="1.8" fill="#4f2a63" opacity="0.75" transform="rotate(-18 137.4 806.9)"/>
<ellipse cx="153.8" cy="801.8" rx="1.3" ry="1.8" fill="#4f2a63" opacity="0.75" transform="rotate(-18 153.8 801.8)"/>
<ellipse cx="137.2" cy="804.3" rx="1.3" ry="1.8" fill="#4f2a63" opacity="0.75" transform="rotate(-18 137.2 804.3)"/>
<ellipse cx="153.3" cy="797.9" rx="1.3" ry="1.8" fill="#4f2a63" opacity="0.75" transform="rotate(-18 153.3 797.9)"/>
<ellipse cx="135.5" cy="800.4" rx="1.3" ry="1.8" fill="#4f2a63" opacity="0.75" transform="rotate(-18 135.5 800.4)"/>
<ellipse cx="151.8" cy="793.9" rx="1.3" ry="1.8" fill="#4f2a63" opacity="0.75" transform="rotate(-18 151.8 793.9)"/>
<ellipse cx="134.0" cy="795.6" rx="1.3" ry="1.8" fill="#4f2a63" opacity="0.75" transform="rotate(-18 134.0 795.6)"/>
<ellipse cx="150.5" cy="790.4" rx="1.3" ry="1.8" fill="#4f2a63" opacity="0.75" transform="rotate(-18 150.5 790.4)"/>
<ellipse cx="132.6" cy="792.8" rx="1.3" ry="1.8" fill="#4f2a63" opacity="0.75" transform="rotate(-18 132.6 792.8)"/>
<ellipse cx="150.8" cy="787.6" rx="1.3" ry="1.8" fill="#4f2a63" opacity="0.75" transform="rotate(-18 150.8 787.6)"/>
<ellipse cx="131.1" cy="786.9" rx="1.3" ry="1.8" fill="#4f2a63" opacity="0.75" transform="rotate(-18 131.1 786.9)"/>
<ellipse cx="147.8" cy="782.5" rx="1.3" ry="1.8" fill="#4f2a63" opacity="0.75" transform="rotate(-18 147.8 782.5)"/>
<ellipse cx="129.7" cy="783.1" rx="1.3" ry="1.8" fill="#4f2a63" opacity="0.75" transform="rotate(-18 129.7 783.1)"/>
<ellipse cx="147.1" cy="778.6" rx="1.3" ry="1.8" fill="#4f2a63" opacity="0.75" transform="rotate(-18 147.1 778.6)"/>
<ellipse cx="128.5" cy="780.8" rx="1.3" ry="1.8" fill="#4f2a63" opacity="0.75" transform="rotate(-18 128.5 780.8)"/>
<ellipse cx="146.7" cy="774.6" rx="1.3" ry="1.8" fill="#4f2a63" opacity="0.75" transform="rotate(-18 146.7 774.6)"/>
<ellipse cx="127.6" cy="777.3" rx="1.3" ry="1.8" fill="#4f2a63" opacity="0.75" transform="rotate(-18 127.6 777.3)"/>
<ellipse cx="145.3" cy="771.4" rx="1.3" ry="1.8" fill="#4f2a63" opacity="0.75" transform="rotate(-18 145.3 771.4)"/>
<ellipse cx="126.6" cy="772.1" rx="1.3" ry="1.8" fill="#4f2a63" opacity="0.75" transform="rotate(-18 126.6 772.1)"/>
<ellipse cx="142.8" cy="767.3" rx="1.3" ry="1.8" fill="#4f2a63" opacity="0.75" transform="rotate(-18 142.8 767.3)"/>
<circle cx="155.2" cy="821.1" r="1.8" fill="#d6cfdc" opacity="0.8"/>
<circle cx="150.7" cy="828.6" r="1.8" fill="#d6cfdc" opacity="0.8"/>
<circle cx="139.8" cy="792.4" r="1.8" fill="#d6cfdc" opacity="0.8"/>
<circle cx="137.8" cy="778.8" r="1.8" fill="#d6cfdc" opacity="0.8"/>
<circle cx="151.7" cy="831.6" r="1.8" fill="#d6cfdc" opacity="0.8"/>
<circle cx="151.3" cy="814.5" r="1.8" fill="#d6cfdc" opacity="0.8"/>
<circle cx="134.2" cy="780.2" r="1.8" fill="#d6cfdc" opacity="0.8"/>
<circle cx="147.0" cy="817.6" r="1.8" fill="#d6cfdc" opacity="0.8"/>
<circle cx="133.6" cy="778.5" r="1.8" fill="#d6cfdc" opacity="0.8"/>
<circle cx="152.9" cy="841.3" r="1.8" fill="#d6cfdc" opacity="0.8"/>
<circle cx="154.2" cy="815.3" r="1.8" fill="#d6cfdc" opacity="0.8"/>
<circle cx="141.7" cy="782.6" r="1.8" fill="#d6cfdc" opacity="0.8"/>
<circle cx="141.3" cy="774.2" r="1.8" fill="#d6cfdc" opacity="0.8"/>
<circle cx="148.2" cy="822.1" r="1.8" fill="#d6cfdc" opacity="0.8"/>
<line x1="179.5" y1="839.0" x2="153.0" y2="758.0" stroke="#e6c6da" stroke-width="23.8" stroke-linecap="round"/>
<line x1="179.5" y1="839.0" x2="153.0" y2="758.0" stroke="#633477" stroke-width="22.0" stroke-linecap="round"/>
<line x1="179.5" y1="839.0" x2="153.0" y2="758.0" stroke="#b9a2c2" stroke-width="14.0" stroke-linecap="round"/>
<line x1="178.0" y1="834.3" x2="159.6" y2="778.3" stroke="#d8cedc" stroke-width="6.0" stroke-linecap="round" opacity="0.75"/>
<line x1="177.4" y1="832.4" x2="166.3" y2="798.5" stroke="#eee8ef" stroke-width="1.6" stroke-linecap="round" opacity="0.8"/>
<ellipse cx="171.3" cy="839.1" rx="1.3" ry="1.8" fill="#4f2a63" opacity="0.75" transform="rotate(-18 171.3 839.1)"/>
<ellipse cx="187.3" cy="834.4" rx="1.3" ry="1.8" fill="#4f2a63" opacity="0.75" transform="rotate(-18 187.3 834.4)"/>
<ellipse cx="169.7" cy="836.6" rx="1.3" ry="1.8" fill="#4f2a63" opacity="0.75" transform="rotate(-18 169.7 836.6)"/>
<ellipse cx="185.3" cy="831.4" rx="1.3" ry="1.8" fill="#4f2a63" opacity="0.75" transform="rotate(-18 185.3 831.4)"/>
<ellipse cx="169.4" cy="832.7" rx="1.3" ry="1.8" fill="#4f2a63" opacity="0.75" transform="rotate(-18 169.4 832.7)"/>
<ellipse cx="185.6" cy="827.5" rx="1.3" ry="1.8" fill="#4f2a63" opacity="0.75" transform="rotate(-18 185.6 827.5)"/>
<ellipse cx="168.0" cy="829.9" rx="1.3" ry="1.8" fill="#4f2a63" opacity="0.75" transform="rotate(-18 168.0 829.9)"/>
<ellipse cx="183.5" cy="823.4" rx="1.3" ry="1.8" fill="#4f2a63" opacity="0.75" transform="rotate(-18 183.5 823.4)"/>
<ellipse cx="165.9" cy="826.0" rx="1.3" ry="1.8" fill="#4f2a63" opacity="0.75" transform="rotate(-18 165.9 826.0)"/>
<ellipse cx="181.8" cy="819.8" rx="1.3" ry="1.8" fill="#4f2a63" opacity="0.75" transform="rotate(-18 181.8 819.8)"/>
<ellipse cx="163.8" cy="820.5" rx="1.3" ry="1.8" fill="#4f2a63" opacity="0.75" transform="rotate(-18 163.8 820.5)"/>
<ellipse cx="181.2" cy="815.8" rx="1.3" ry="1.8" fill="#4f2a63" opacity="0.75" transform="rotate(-18 181.2 815.8)"/>
<ellipse cx="163.1" cy="817.7" rx="1.3" ry="1.8" fill="#4f2a63" opacity="0.75" transform="rotate(-18 163.1 817.7)"/>
<ellipse cx="180.7" cy="812.8" rx="1.3" ry="1.8" fill="#4f2a63" opacity="0.75" transform="rotate(-18 180.7 812.8)"/>
<ellipse cx="162.8" cy="813.0" rx="1.3" ry="1.8" fill="#4f2a63" opacity="0.75" transform="rotate(-18 162.8 813.0)"/>
<ellipse cx="177.9" cy="808.7" rx="1.3" ry="1.8" fill="#4f2a63" opacity="0.75" transform="rotate(-18 177.9 808.7)"/>
<ellipse cx="160.6" cy="810.0" rx="1.3" ry="1.8" fill="#4f2a63" opacity="0.75" transform="rotate(-18 160.6 810.0)"/>
<ellipse cx="176.8" cy="804.0" rx="1.3" ry="1.8" fill="#4f2a63" opacity="0.75" transform="rotate(-18 176.8 804.0)"/>
<ellipse cx="160.5" cy="807.6" rx="1.3" ry="1.8" fill="#4f2a63" opacity="0.75" transform="rotate(-18 160.5 807.6)"/>
<ellipse cx="176.5" cy="802.4" rx="1.3" ry="1.8" fill="#4f2a63" opacity="0.75" transform="rotate(-18 176.5 802.4)"/>
<ellipse cx="158.4" cy="803.0" rx="1.3" ry="1.8" fill="#4f2a63" opacity="0.75" transform="rotate(-18 158.4 803.0)"/>
<ellipse cx="175.7" cy="798.5" rx="1.3" ry="1.8" fill="#4f2a63" opacity="0.75" transform="rotate(-18 175.7 798.5)"/>
<ellipse cx="156.9" cy="798.4" rx="1.3" ry="1.8" fill="#4f2a63" opacity="0.75" transform="rotate(-18 156.9 798.4)"/>
<ellipse cx="173.5" cy="793.9" rx="1.3" ry="1.8" fill="#4f2a63" opacity="0.75" transform="rotate(-18 173.5 793.9)"/>
<ellipse cx="156.7" cy="795.4" rx="1.3" ry="1.8" fill="#4f2a63" opacity="0.75" transform="rotate(-18 156.7 795.4)"/>
<ellipse cx="172.8" cy="790.2" rx="1.3" ry="1.8" fill="#4f2a63" opacity="0.75" transform="rotate(-18 172.8 790.2)"/>
<ellipse cx="154.4" cy="790.1" rx="1.3" ry="1.8" fill="#4f2a63" opacity="0.75" transform="rotate(-18 154.4 790.1)"/>
<ellipse cx="170.6" cy="785.5" rx="1.3" ry="1.8" fill="#4f2a63" opacity="0.75" transform="rotate(-18 170.6 785.5)"/>
<ellipse cx="153.2" cy="787.9" rx="1.3" ry="1.8" fill="#4f2a63" opacity="0.75" transform="rotate(-18 153.2 787.9)"/>
<ellipse cx="169.5" cy="781.5" rx="1.3" ry="1.8" fill="#4f2a63" opacity="0.75" transform="rotate(-18 169.5 781.5)"/>
<ellipse cx="152.6" cy="783.5" rx="1.3" ry="1.8" fill="#4f2a63" opacity="0.75" transform="rotate(-18 152.6 783.5)"/>
<ellipse cx="169.4" cy="779.1" rx="1.3" ry="1.8" fill="#4f2a63" opacity="0.75" transform="rotate(-18 169.4 779.1)"/>
<ellipse cx="150.2" cy="777.4" rx="1.3" ry="1.8" fill="#4f2a63" opacity="0.75" transform="rotate(-18 150.2 777.4)"/>
<ellipse cx="166.1" cy="772.7" rx="1.3" ry="1.8" fill="#4f2a63" opacity="0.75" transform="rotate(-18 166.1 772.7)"/>
<ellipse cx="149.4" cy="774.3" rx="1.3" ry="1.8" fill="#4f2a63" opacity="0.75" transform="rotate(-18 149.4 774.3)"/>
<ellipse cx="165.6" cy="769.6" rx="1.3" ry="1.8" fill="#4f2a63" opacity="0.75" transform="rotate(-18 165.6 769.6)"/>
<ellipse cx="148.7" cy="771.5" rx="1.3" ry="1.8" fill="#4f2a63" opacity="0.75" transform="rotate(-18 148.7 771.5)"/>
<ellipse cx="164.7" cy="765.0" rx="1.3" ry="1.8" fill="#4f2a63" opacity="0.75" transform="rotate(-18 164.7 765.0)"/>
<ellipse cx="146.6" cy="766.8" rx="1.3" ry="1.8" fill="#4f2a63" opacity="0.75" transform="rotate(-18 146.6 766.8)"/>
<ellipse cx="162.9" cy="761.8" rx="1.3" ry="1.8" fill="#4f2a63" opacity="0.75" transform="rotate(-18 162.9 761.8)"/>
<ellipse cx="145.7" cy="763.7" rx="1.3" ry="1.8" fill="#4f2a63" opacity="0.75" transform="rotate(-18 145.7 763.7)"/>
<ellipse cx="161.7" cy="759.4" rx="1.3" ry="1.8" fill="#4f2a63" opacity="0.75" transform="rotate(-18 161.7 759.4)"/>
<circle cx="163.0" cy="794.0" r="1.8" fill="#d6cfdc" opacity="0.8"/>
<circle cx="173.2" cy="803.7" r="1.8" fill="#d6cfdc" opacity="0.8"/>
<circle cx="163.6" cy="798.9" r="1.8" fill="#d6cfdc" opacity="0.8"/>
<circle cx="161.2" cy="778.0" r="1.8" fill="#d6cfdc" opacity="0.8"/>
<circle cx="152.1" cy="767.9" r="1.8" fill="#d6cfdc" opacity="0.8"/>
<circle cx="169.8" cy="799.2" r="1.8" fill="#d6cfdc" opacity="0.8"/>
<circle cx="163.0" cy="775.1" r="1.8" fill="#d6cfdc" opacity="0.8"/>
<circle cx="174.1" cy="828.9" r="1.8" fill="#d6cfdc" opacity="0.8"/>
<circle cx="171.4" cy="824.2" r="1.8" fill="#d6cfdc" opacity="0.8"/>
<circle cx="157.0" cy="767.6" r="1.8" fill="#d6cfdc" opacity="0.8"/>
<circle cx="155.9" cy="771.0" r="1.8" fill="#d6cfdc" opacity="0.8"/>
<circle cx="158.0" cy="774.9" r="1.8" fill="#d6cfdc" opacity="0.8"/>
<circle cx="174.0" cy="813.2" r="1.8" fill="#d6cfdc" opacity="0.8"/>
<circle cx="153.1" cy="770.8" r="1.8" fill="#d6cfdc" opacity="0.8"/>
<line x1="197.8" y1="833.0" x2="173.0" y2="752.0" stroke="#e6c6da" stroke-width="23.8" stroke-linecap="round"/>
<line x1="197.8" y1="833.0" x2="173.0" y2="752.0" stroke="#633477" stroke-width="22.0" stroke-linecap="round"/>
<line x1="197.8" y1="833.0" x2="173.0" y2="752.0" stroke="#b9a2c2" stroke-width="14.0" stroke-linecap="round"/>
<line x1="196.4" y1="828.2" x2="179.2" y2="772.2" stroke="#d8cedc" stroke-width="6.0" stroke-linecap="round" opacity="0.75"/>
<line x1="195.8" y1="826.3" x2="185.4" y2="792.5" stroke="#eee8ef" stroke-width="1.6" stroke-linecap="round" opacity="0.8"/>
<ellipse cx="189.5" cy="833.9" rx="1.3" ry="1.8" fill="#4f2a63" opacity="0.75" transform="rotate(-17 189.5 833.9)"/>
<ellipse cx="205.4" cy="828.7" rx="1.3" ry="1.8" fill="#4f2a63" opacity="0.75" transform="rotate(-17 205.4 828.7)"/>
<ellipse cx="188.0" cy="831.4" rx="1.3" ry="1.8" fill="#4f2a63" opacity="0.75" transform="rotate(-17 188.0 831.4)"/>
<ellipse cx="204.9" cy="825.7" rx="1.3" ry="1.8" fill="#4f2a63" opacity="0.75" transform="rotate(-17 204.9 825.7)"/>
<ellipse cx="187.0" cy="828.0" rx="1.3" ry="1.8" fill="#4f2a63" opacity="0.75" transform="rotate(-17 187.0 828.0)"/>
<ellipse cx="203.1" cy="822.4" rx="1.3" ry="1.8" fill="#4f2a63" opacity="0.75" transform="rotate(-17 203.1 822.4)"/>
<ellipse cx="186.5" cy="823.6" rx="1.3" ry="1.8" fill="#4f2a63" opacity="0.75" transform="rotate(-17 186.5 823.6)"/>
<ellipse cx="201.6" cy="817.9" rx="1.3" ry="1.8" fill="#4f2a63" opacity="0.75" transform="rotate(-17 201.6 817.9)"/>
<ellipse cx="184.8" cy="819.5" rx="1.3" ry="1.8" fill="#4f2a63" opacity="0.75" transform="rotate(-17 184.8 819.5)"/>
<ellipse cx="200.3" cy="813.7" rx="1.3" ry="1.8" fill="#4f2a63" opacity="0.75" transform="rotate(-17 200.3 813.7)"/>
<ellipse cx="183.2" cy="814.5" rx="1.3" ry="1.8" fill="#4f2a63" opacity="0.75" transform="rotate(-17 183.2 814.5)"/>
<ellipse cx="199.3" cy="810.6" rx="1.3" ry="1.8" fill="#4f2a63" opacity="0.75" transform="rotate(-17 199.3 810.6)"/>
<ellipse cx="182.5" cy="811.5" rx="1.3" ry="1.8" fill="#4f2a63" opacity="0.75" transform="rotate(-17 182.5 811.5)"/>
<ellipse cx="198.5" cy="807.3" rx="1.3" ry="1.8" fill="#4f2a63" opacity="0.75" transform="rotate(-17 198.5 807.3)"/>
<ellipse cx="180.6" cy="806.1" rx="1.3" ry="1.8" fill="#4f2a63" opacity="0.75" transform="rotate(-17 180.6 806.1)"/>
<ellipse cx="197.5" cy="801.1" rx="1.3" ry="1.8" fill="#4f2a63" opacity="0.75" transform="rotate(-17 197.5 801.1)"/>
<ellipse cx="180.9" cy="804.5" rx="1.3" ry="1.8" fill="#4f2a63" opacity="0.75" transform="rotate(-17 180.9 804.5)"/>
<ellipse cx="197.0" cy="799.5" rx="1.3" ry="1.8" fill="#4f2a63" opacity="0.75" transform="rotate(-17 197.0 799.5)"/>
<ellipse cx="178.5" cy="798.5" rx="1.3" ry="1.8" fill="#4f2a63" opacity="0.75" transform="rotate(-17 178.5 798.5)"/>
<ellipse cx="194.0" cy="794.2" rx="1.3" ry="1.8" fill="#4f2a63" opacity="0.75" transform="rotate(-17 194.0 794.2)"/>
<ellipse cx="178.2" cy="795.0" rx="1.3" ry="1.8" fill="#4f2a63" opacity="0.75" transform="rotate(-17 178.2 795.0)"/>
<ellipse cx="193.9" cy="790.5" rx="1.3" ry="1.8" fill="#4f2a63" opacity="0.75" transform="rotate(-17 193.9 790.5)"/>
<ellipse cx="175.8" cy="791.7" rx="1.3" ry="1.8" fill="#4f2a63" opacity="0.75" transform="rotate(-17 175.8 791.7)"/>
<ellipse cx="192.7" cy="787.8" rx="1.3" ry="1.8" fill="#4f2a63" opacity="0.75" transform="rotate(-17 192.7 787.8)"/>
<ellipse cx="175.4" cy="789.5" rx="1.3" ry="1.8" fill="#4f2a63" opacity="0.75" transform="rotate(-17 175.4 789.5)"/>
<ellipse cx="192.4" cy="783.5" rx="1.3" ry="1.8" fill="#4f2a63" opacity="0.75" transform="rotate(-17 192.4 783.5)"/>
<ellipse cx="175.0" cy="785.9" rx="1.3" ry="1.8" fill="#4f2a63" opacity="0.75" transform="rotate(-17 175.0 785.9)"/>
<ellipse cx="190.5" cy="779.4" rx="1.3" ry="1.8" fill="#4f2a63" opacity="0.75" transform="rotate(-17 190.5 779.4)"/>
<ellipse cx="172.4" cy="780.3" rx="1.3" ry="1.8" fill="#4f2a63" opacity="0.75" transform="rotate(-17 172.4 780.3)"/>
<ellipse cx="189.0" cy="775.2" rx="1.3" ry="1.8" fill="#4f2a63" opacity="0.75" transform="rotate(-17 189.0 775.2)"/>
<ellipse cx="172.3" cy="776.9" rx="1.3" ry="1.8" fill="#4f2a63" opacity="0.75" transform="rotate(-17 172.3 776.9)"/>
<ellipse cx="188.0" cy="772.9" rx="1.3" ry="1.8" fill="#4f2a63" opacity="0.75" transform="rotate(-17 188.0 772.9)"/>
<ellipse cx="169.8" cy="771.7" rx="1.3" ry="1.8" fill="#4f2a63" opacity="0.75" transform="rotate(-17 169.8 771.7)"/>
<ellipse cx="186.4" cy="767.2" rx="1.3" ry="1.8" fill="#4f2a63" opacity="0.75" transform="rotate(-17 186.4 767.2)"/>
<ellipse cx="168.8" cy="768.8" rx="1.3" ry="1.8" fill="#4f2a63" opacity="0.75" transform="rotate(-17 168.8 768.8)"/>
<ellipse cx="186.0" cy="764.8" rx="1.3" ry="1.8" fill="#4f2a63" opacity="0.75" transform="rotate(-17 186.0 764.8)"/>
<ellipse cx="168.5" cy="766.4" rx="1.3" ry="1.8" fill="#4f2a63" opacity="0.75" transform="rotate(-17 168.5 766.4)"/>
<ellipse cx="183.9" cy="761.5" rx="1.3" ry="1.8" fill="#4f2a63" opacity="0.75" transform="rotate(-17 183.9 761.5)"/>
<ellipse cx="167.3" cy="762.1" rx="1.3" ry="1.8" fill="#4f2a63" opacity="0.75" transform="rotate(-17 167.3 762.1)"/>
<ellipse cx="183.6" cy="756.7" rx="1.3" ry="1.8" fill="#4f2a63" opacity="0.75" transform="rotate(-17 183.6 756.7)"/>
<ellipse cx="165.9" cy="757.4" rx="1.3" ry="1.8" fill="#4f2a63" opacity="0.75" transform="rotate(-17 165.9 757.4)"/>
<ellipse cx="182.3" cy="752.5" rx="1.3" ry="1.8" fill="#4f2a63" opacity="0.75" transform="rotate(-17 182.3 752.5)"/>
<circle cx="182.1" cy="797.9" r="1.8" fill="#d6cfdc" opacity="0.8"/>
<circle cx="182.9" cy="784.8" r="1.8" fill="#d6cfdc" opacity="0.8"/>
<circle cx="193.2" cy="808.9" r="1.8" fill="#d6cfdc" opacity="0.8"/>
<circle cx="179.5" cy="774.5" r="1.8" fill="#d6cfdc" opacity="0.8"/>
<circle cx="191.5" cy="813.3" r="1.8" fill="#d6cfdc" opacity="0.8"/>
<circle cx="189.7" cy="819.0" r="1.8" fill="#d6cfdc" opacity="0.8"/>
<circle cx="182.9" cy="798.2" r="1.8" fill="#d6cfdc" opacity="0.8"/>
<circle cx="186.7" cy="796.2" r="1.8" fill="#d6cfdc" opacity="0.8"/>
<circle cx="195.8" cy="821.8" r="1.8" fill="#d6cfdc" opacity="0.8"/>
<circle cx="195.9" cy="818.9" r="1.8" fill="#d6cfdc" opacity="0.8"/>
<circle cx="180.0" cy="774.5" r="1.8" fill="#d6cfdc" opacity="0.8"/>
<circle cx="194.3" cy="821.3" r="1.8" fill="#d6cfdc" opacity="0.8"/>
<circle cx="192.1" cy="799.1" r="1.8" fill="#d6cfdc" opacity="0.8"/>
<circle cx="196.0" cy="815.0" r="1.8" fill="#d6cfdc" opacity="0.8"/>
<line x1="213.8" y1="823.8" x2="193.0" y2="748.0" stroke="#e6c6da" stroke-width="22.8" stroke-linecap="round"/>
<line x1="213.8" y1="823.8" x2="193.0" y2="748.0" stroke="#633477" stroke-width="21.0" stroke-linecap="round"/>
<line x1="213.8" y1="823.8" x2="193.0" y2="748.0" stroke="#b9a2c2" stroke-width="13.0" stroke-linecap="round"/>
<line x1="212.5" y1="818.9" x2="198.2" y2="766.9" stroke="#d8cedc" stroke-width="5.0" stroke-linecap="round" opacity="0.75"/>
<line x1="212.0" y1="817.0" x2="203.4" y2="785.9" stroke="#eee8ef" stroke-width="1.6" stroke-linecap="round" opacity="0.8"/>
<ellipse cx="206.0" cy="824.4" rx="1.3" ry="1.8" fill="#4f2a63" opacity="0.75" transform="rotate(-15 206.0 824.4)"/>
<ellipse cx="220.5" cy="820.4" rx="1.3" ry="1.8" fill="#4f2a63" opacity="0.75" transform="rotate(-15 220.5 820.4)"/>
<ellipse cx="205.5" cy="821.6" rx="1.3" ry="1.8" fill="#4f2a63" opacity="0.75" transform="rotate(-15 205.5 821.6)"/>
<ellipse cx="219.7" cy="817.1" rx="1.3" ry="1.8" fill="#4f2a63" opacity="0.75" transform="rotate(-15 219.7 817.1)"/>
<ellipse cx="202.7" cy="815.8" rx="1.3" ry="1.8" fill="#4f2a63" opacity="0.75" transform="rotate(-15 202.7 815.8)"/>
<ellipse cx="219.3" cy="811.3" rx="1.3" ry="1.8" fill="#4f2a63" opacity="0.75" transform="rotate(-15 219.3 811.3)"/>
<ellipse cx="202.0" cy="812.6" rx="1.3" ry="1.8" fill="#4f2a63" opacity="0.75" transform="rotate(-15 202.0 812.6)"/>
<ellipse cx="217.2" cy="807.9" rx="1.3" ry="1.8" fill="#4f2a63" opacity="0.75" transform="rotate(-15 217.2 807.9)"/>
<ellipse cx="200.8" cy="807.7" rx="1.3" ry="1.8" fill="#4f2a63" opacity="0.75" transform="rotate(-15 200.8 807.7)"/>
<ellipse cx="216.7" cy="803.6" rx="1.3" ry="1.8" fill="#4f2a63" opacity="0.75" transform="rotate(-15 216.7 803.6)"/>
<ellipse cx="200.1" cy="805.3" rx="1.3" ry="1.8" fill="#4f2a63" opacity="0.75" transform="rotate(-15 200.1 805.3)"/>
<ellipse cx="216.8" cy="801.9" rx="1.3" ry="1.8" fill="#4f2a63" opacity="0.75" transform="rotate(-15 216.8 801.9)"/>
<ellipse cx="198.5" cy="800.6" rx="1.3" ry="1.8" fill="#4f2a63" opacity="0.75" transform="rotate(-15 198.5 800.6)"/>
<ellipse cx="213.9" cy="796.0" rx="1.3" ry="1.8" fill="#4f2a63" opacity="0.75" transform="rotate(-15 213.9 796.0)"/>
<ellipse cx="197.9" cy="797.3" rx="1.3" ry="1.8" fill="#4f2a63" opacity="0.75" transform="rotate(-15 197.9 797.3)"/>
<ellipse cx="213.6" cy="792.6" rx="1.3" ry="1.8" fill="#4f2a63" opacity="0.75" transform="rotate(-15 213.6 792.6)"/>
<ellipse cx="196.2" cy="793.0" rx="1.3" ry="1.8" fill="#4f2a63" opacity="0.75" transform="rotate(-15 196.2 793.0)"/>
<ellipse cx="212.5" cy="787.8" rx="1.3" ry="1.8" fill="#4f2a63" opacity="0.75" transform="rotate(-15 212.5 787.8)"/>
<ellipse cx="195.4" cy="789.2" rx="1.3" ry="1.8" fill="#4f2a63" opacity="0.75" transform="rotate(-15 195.4 789.2)"/>
<ellipse cx="211.4" cy="783.9" rx="1.3" ry="1.8" fill="#4f2a63" opacity="0.75" transform="rotate(-15 211.4 783.9)"/>
<ellipse cx="194.6" cy="784.0" rx="1.3" ry="1.8" fill="#4f2a63" opacity="0.75" transform="rotate(-15 194.6 784.0)"/>
<ellipse cx="210.6" cy="779.5" rx="1.3" ry="1.8" fill="#4f2a63" opacity="0.75" transform="rotate(-15 210.6 779.5)"/>
<ellipse cx="193.2" cy="780.6" rx="1.3" ry="1.8" fill="#4f2a63" opacity="0.75" transform="rotate(-15 193.2 780.6)"/>
<ellipse cx="209.8" cy="776.3" rx="1.3" ry="1.8" fill="#4f2a63" opacity="0.75" transform="rotate(-15 209.8 776.3)"/>
<ellipse cx="192.3" cy="775.9" rx="1.3" ry="1.8" fill="#4f2a63" opacity="0.75" transform="rotate(-15 192.3 775.9)"/>
<ellipse cx="207.3" cy="771.9" rx="1.3" ry="1.8" fill="#4f2a63" opacity="0.75" transform="rotate(-15 207.3 771.9)"/>
<ellipse cx="191.4" cy="772.8" rx="1.3" ry="1.8" fill="#4f2a63" opacity="0.75" transform="rotate(-15 191.4 772.8)"/>
<ellipse cx="207.6" cy="768.0" rx="1.3" ry="1.8" fill="#4f2a63" opacity="0.75" transform="rotate(-15 207.6 768.0)"/>
<ellipse cx="190.9" cy="768.8" rx="1.3" ry="1.8" fill="#4f2a63" opacity="0.75" transform="rotate(-15 190.9 768.8)"/>
<ellipse cx="205.3" cy="765.1" rx="1.3" ry="1.8" fill="#4f2a63" opacity="0.75" transform="rotate(-15 205.3 765.1)"/>
<ellipse cx="189.4" cy="765.4" rx="1.3" ry="1.8" fill="#4f2a63" opacity="0.75" transform="rotate(-15 189.4 765.4)"/>
<ellipse cx="205.2" cy="761.8" rx="1.3" ry="1.8" fill="#4f2a63" opacity="0.75" transform="rotate(-15 205.2 761.8)"/>
<ellipse cx="188.7" cy="761.6" rx="1.3" ry="1.8" fill="#4f2a63" opacity="0.75" transform="rotate(-15 188.7 761.6)"/>
<ellipse cx="203.3" cy="758.1" rx="1.3" ry="1.8" fill="#4f2a63" opacity="0.75" transform="rotate(-15 203.3 758.1)"/>
<ellipse cx="186.8" cy="757.0" rx="1.3" ry="1.8" fill="#4f2a63" opacity="0.75" transform="rotate(-15 186.8 757.0)"/>
<ellipse cx="203.0" cy="754.0" rx="1.3" ry="1.8" fill="#4f2a63" opacity="0.75" transform="rotate(-15 203.0 754.0)"/>
<ellipse cx="185.8" cy="752.2" rx="1.3" ry="1.8" fill="#4f2a63" opacity="0.75" transform="rotate(-15 185.8 752.2)"/>
<ellipse cx="200.6" cy="748.5" rx="1.3" ry="1.8" fill="#4f2a63" opacity="0.75" transform="rotate(-15 200.6 748.5)"/>
<circle cx="201.1" cy="782.5" r="1.8" fill="#d6cfdc" opacity="0.8"/>
<circle cx="200.5" cy="777.2" r="1.8" fill="#d6cfdc" opacity="0.8"/>
<circle cx="198.2" cy="758.8" r="1.8" fill="#d6cfdc" opacity="0.8"/>
<circle cx="211.1" cy="800.2" r="1.8" fill="#d6cfdc" opacity="0.8"/>
<circle cx="211.3" cy="813.4" r="1.8" fill="#d6cfdc" opacity="0.8"/>
<circle cx="202.7" cy="792.2" r="1.8" fill="#d6cfdc" opacity="0.8"/>
<circle cx="213.2" cy="812.0" r="1.8" fill="#d6cfdc" opacity="0.8"/>
<circle cx="212.0" cy="815.3" r="1.8" fill="#d6cfdc" opacity="0.8"/>
<circle cx="193.0" cy="760.0" r="1.8" fill="#d6cfdc" opacity="0.8"/>
<circle cx="209.4" cy="803.8" r="1.8" fill="#d6cfdc" opacity="0.8"/>
<circle cx="204.5" cy="785.1" r="1.8" fill="#d6cfdc" opacity="0.8"/>
<circle cx="195.4" cy="767.7" r="1.8" fill="#d6cfdc" opacity="0.8"/>
<circle cx="204.9" cy="797.9" r="1.8" fill="#d6cfdc" opacity="0.8"/>
<path d="M4.9,748.0L70.0,748.0L67.4,764.3L60.2,781.1L48.2,792.0L28.9,799.2L12.0,802.8L4.9,807.6Z" fill="#e07da7" opacity="1.0"/>
<path d="M4.9,748.0L50.0,748.0L48.0,762.0L40.0,774.0L28.0,782.0L12.0,787.0L4.9,788.0Z" fill="#d27fae" opacity="1.0"/>
<ellipse cx="8.5" cy="787.4" rx="1.2" ry="1.8" fill="#4f2a63" opacity="0.8" transform="rotate(141 8.5 787.4)"/>
<ellipse cx="43.2" cy="750.3" rx="1.2" ry="1.8" fill="#4f2a63" opacity="0.8" transform="rotate(152 43.2 750.3)"/>
<ellipse cx="44.7" cy="769.5" rx="1.2" ry="1.8" fill="#4f2a63" opacity="0.8" transform="rotate(134 44.7 769.5)"/>
<ellipse cx="29.5" cy="759.5" rx="1.2" ry="1.8" fill="#4f2a63" opacity="0.8" transform="rotate(19 29.5 759.5)"/>
<ellipse cx="18.1" cy="751.6" rx="1.2" ry="1.8" fill="#4f2a63" opacity="0.8" transform="rotate(60 18.1 751.6)"/>
<ellipse cx="45.0" cy="779.2" rx="1.2" ry="1.8" fill="#4f2a63" opacity="0.8" transform="rotate(152 45.0 779.2)"/>
<ellipse cx="43.0" cy="761.2" rx="1.2" ry="1.8" fill="#4f2a63" opacity="0.8" transform="rotate(100 43.0 761.2)"/>
<ellipse cx="28.7" cy="783.1" rx="1.2" ry="1.8" fill="#4f2a63" opacity="0.8" transform="rotate(94 28.7 783.1)"/>
<ellipse cx="19.8" cy="777.0" rx="1.2" ry="1.8" fill="#4f2a63" opacity="0.8" transform="rotate(174 19.8 777.0)"/>
<ellipse cx="17.3" cy="787.0" rx="1.2" ry="1.8" fill="#4f2a63" opacity="0.8" transform="rotate(3 17.3 787.0)"/>
<ellipse cx="19.5" cy="759.9" rx="1.2" ry="1.8" fill="#4f2a63" opacity="0.8" transform="rotate(134 19.5 759.9)"/>
<ellipse cx="55.1" cy="781.3" rx="1.2" ry="1.8" fill="#4f2a63" opacity="0.8" transform="rotate(59 55.1 781.3)"/>
<ellipse cx="51.8" cy="763.8" rx="1.2" ry="1.8" fill="#4f2a63" opacity="0.8" transform="rotate(43 51.8 763.8)"/>
<ellipse cx="53.2" cy="776.5" rx="1.2" ry="1.8" fill="#4f2a63" opacity="0.8" transform="rotate(125 53.2 776.5)"/>
<ellipse cx="40.6" cy="791.1" rx="1.2" ry="1.8" fill="#4f2a63" opacity="0.8" transform="rotate(85 40.6 791.1)"/>
<ellipse cx="49.7" cy="779.3" rx="1.2" ry="1.8" fill="#4f2a63" opacity="0.8" transform="rotate(154 49.7 779.3)"/>
<ellipse cx="28.7" cy="780.4" rx="1.2" ry="1.8" fill="#4f2a63" opacity="0.8" transform="rotate(103 28.7 780.4)"/>
<ellipse cx="22.0" cy="758.9" rx="1.2" ry="1.8" fill="#4f2a63" opacity="0.8" transform="rotate(112 22.0 758.9)"/>
<ellipse cx="10.0" cy="788.3" rx="1.2" ry="1.8" fill="#4f2a63" opacity="0.8" transform="rotate(26 10.0 788.3)"/>
<ellipse cx="7.4" cy="754.5" rx="1.2" ry="1.8" fill="#4f2a63" opacity="0.8" transform="rotate(167 7.4 754.5)"/>
<ellipse cx="23.9" cy="756.0" rx="1.2" ry="1.8" fill="#4f2a63" opacity="0.8" transform="rotate(5 23.9 756.0)"/>
<ellipse cx="8.2" cy="779.1" rx="1.2" ry="1.8" fill="#4f2a63" opacity="0.8" transform="rotate(114 8.2 779.1)"/>
<ellipse cx="42.2" cy="780.9" rx="1.2" ry="1.8" fill="#4f2a63" opacity="0.8" transform="rotate(12 42.2 780.9)"/>
<ellipse cx="36.7" cy="765.3" rx="1.2" ry="1.8" fill="#4f2a63" opacity="0.8" transform="rotate(147 36.7 765.3)"/>
<ellipse cx="48.6" cy="787.4" rx="1.2" ry="1.8" fill="#4f2a63" opacity="0.8" transform="rotate(12 48.6 787.4)"/>
<ellipse cx="51.1" cy="788.4" rx="1.2" ry="1.8" fill="#4f2a63" opacity="0.8" transform="rotate(170 51.1 788.4)"/>
<ellipse cx="11.6" cy="758.6" rx="1.2" ry="1.8" fill="#4f2a63" opacity="0.8" transform="rotate(20 11.6 758.6)"/>
<ellipse cx="7.8" cy="785.6" rx="1.2" ry="1.8" fill="#4f2a63" opacity="0.8" transform="rotate(146 7.8 785.6)"/>
<ellipse cx="39.0" cy="784.7" rx="1.2" ry="1.8" fill="#4f2a63" opacity="0.8" transform="rotate(114 39.0 784.7)"/>
<ellipse cx="20.9" cy="754.2" rx="1.2" ry="1.8" fill="#4f2a63" opacity="0.8" transform="rotate(18 20.9 754.2)"/>
<ellipse cx="45.4" cy="758.6" rx="1.2" ry="1.8" fill="#4f2a63" opacity="0.8" transform="rotate(57 45.4 758.6)"/>
<ellipse cx="28.0" cy="750.9" rx="1.2" ry="1.8" fill="#4f2a63" opacity="0.8" transform="rotate(46 28.0 750.9)"/>
<ellipse cx="20.7" cy="780.1" rx="1.2" ry="1.8" fill="#4f2a63" opacity="0.8" transform="rotate(66 20.7 780.1)"/>
<ellipse cx="22.7" cy="790.5" rx="1.2" ry="1.8" fill="#4f2a63" opacity="0.8" transform="rotate(91 22.7 790.5)"/>
<ellipse cx="50.3" cy="776.0" rx="1.2" ry="1.8" fill="#4f2a63" opacity="0.8" transform="rotate(6 50.3 776.0)"/>
<ellipse cx="27.5" cy="768.3" rx="1.2" ry="1.8" fill="#4f2a63" opacity="0.8" transform="rotate(139 27.5 768.3)"/>
<ellipse cx="24.0" cy="779.6" rx="1.2" ry="1.8" fill="#4f2a63" opacity="0.8" transform="rotate(97 24.0 779.6)"/>
<ellipse cx="17.3" cy="786.2" rx="1.2" ry="1.8" fill="#4f2a63" opacity="0.8" transform="rotate(16 17.3 786.2)"/>
<ellipse cx="48.6" cy="757.2" rx="1.2" ry="1.8" fill="#4f2a63" opacity="0.8" transform="rotate(0 48.6 757.2)"/>
<ellipse cx="16.5" cy="782.0" rx="1.2" ry="1.8" fill="#4f2a63" opacity="0.8" transform="rotate(176 16.5 782.0)"/>
<ellipse cx="6.2" cy="770.6" rx="1.2" ry="1.8" fill="#4f2a63" opacity="0.8" transform="rotate(88 6.2 770.6)"/>
<ellipse cx="47.4" cy="757.7" rx="1.2" ry="1.8" fill="#4f2a63" opacity="0.8" transform="rotate(89 47.4 757.7)"/>
<ellipse cx="24.1" cy="784.9" rx="1.2" ry="1.8" fill="#4f2a63" opacity="0.8" transform="rotate(47 24.1 784.9)"/>
<ellipse cx="55.1" cy="761.9" rx="1.2" ry="1.8" fill="#4f2a63" opacity="0.8" transform="rotate(39 55.1 761.9)"/>
<ellipse cx="42.4" cy="770.9" rx="1.2" ry="1.8" fill="#4f2a63" opacity="0.8" transform="rotate(20 42.4 770.9)"/>
<ellipse cx="39.1" cy="753.4" rx="1.2" ry="1.8" fill="#4f2a63" opacity="0.8" transform="rotate(142 39.1 753.4)"/>
<ellipse cx="42.3" cy="783.1" rx="1.2" ry="1.8" fill="#4f2a63" opacity="0.8" transform="rotate(113 42.3 783.1)"/>
<ellipse cx="24.5" cy="766.9" rx="1.2" ry="1.8" fill="#4f2a63" opacity="0.8" transform="rotate(71 24.5 766.9)"/>
<ellipse cx="52.3" cy="753.6" rx="1.2" ry="1.8" fill="#4f2a63" opacity="0.8" transform="rotate(160 52.3 753.6)"/>
<ellipse cx="7.3" cy="758.7" rx="1.2" ry="1.8" fill="#4f2a63" opacity="0.8" transform="rotate(47 7.3 758.7)"/>
<path d="M70.0,748.0L150.0,748.0L149.3,754.6L134.9,759.5L120.4,764.3L103.6,778.7L91.5,790.8L77.1,798.0L60.2,804.0L43.4,811.2L24.1,819.7L4.9,829.3L4.9,807.6L12.0,802.8L28.9,799.2L48.2,792.0L60.2,781.1L67.4,764.3Z" fill="#f3f0f2" opacity="1.0"/>
<path d="M58,803 C75,795 90,785 101,773 L104,768" stroke="#b39ab6" stroke-width="2.4" fill="none" opacity="0.85"/>
<path d="M84,760 C92,758 102,757 113,759" stroke="#a98fae" stroke-width="2.2" fill="none" opacity="0.8"/>
<path d="M8,822 C20,818 35,812 50,806" stroke="#c2adc4" stroke-width="1.4" fill="none" opacity="0.8"/>
<path d="M4.9,838 L24.1,828.5 L43.4,820 L60.2,812.8 L77.1,806.8 L91.5,799.6 L103.6,787.5 L120.4,773.1 L134.9,768.3 L149.3,763.4 L170,756.5 L222,752.5" stroke="#e07da7" stroke-width="15" fill="none" stroke-linejoin="round" opacity="0.92"/>
<path d="M150.0,748.0L222.0,748.0L222.0,790.0L200.0,786.0L180.0,778.0L160.0,768.0L149.3,760.0Z" fill="#c27aa8" opacity="0.75"/>
<ellipse cx="152.7" cy="760.3" rx="1.2" ry="2" fill="#4f2a63" opacity="0.8"/>
<ellipse cx="148.6" cy="761.7" rx="1.2" ry="2" fill="#4f2a63" opacity="0.8"/>
<ellipse cx="95.5" cy="793.6" rx="1.2" ry="2" fill="#4f2a63" opacity="0.8"/>
<ellipse cx="110.2" cy="780.9" rx="1.2" ry="2" fill="#4f2a63" opacity="0.8"/>
<ellipse cx="36.2" cy="823.2" rx="1.2" ry="2" fill="#4f2a63" opacity="0.8"/>
<ellipse cx="124.5" cy="772.1" rx="1.2" ry="2" fill="#4f2a63" opacity="0.8"/>
<ellipse cx="131.1" cy="767.9" rx="1.2" ry="2" fill="#4f2a63" opacity="0.8"/>
<ellipse cx="86.9" cy="798.3" rx="1.2" ry="2" fill="#4f2a63" opacity="0.8"/>
<ellipse cx="41.0" cy="820.1" rx="1.2" ry="2" fill="#4f2a63" opacity="0.8"/>
<ellipse cx="141.2" cy="762.8" rx="1.2" ry="2" fill="#4f2a63" opacity="0.8"/>
<ellipse cx="50.7" cy="815.4" rx="1.2" ry="2" fill="#4f2a63" opacity="0.8"/>
<ellipse cx="35.2" cy="820.8" rx="1.2" ry="2" fill="#4f2a63" opacity="0.8"/>
<ellipse cx="166.6" cy="754.9" rx="1.2" ry="2" fill="#4f2a63" opacity="0.8"/>
<ellipse cx="161.8" cy="756.8" rx="1.2" ry="2" fill="#4f2a63" opacity="0.8"/>
<ellipse cx="168.3" cy="756.9" rx="1.2" ry="2" fill="#4f2a63" opacity="0.8"/>
<ellipse cx="80.5" cy="802.5" rx="1.2" ry="2" fill="#4f2a63" opacity="0.8"/>
<ellipse cx="24.3" cy="826.4" rx="1.2" ry="2" fill="#4f2a63" opacity="0.8"/>
<ellipse cx="11.0" cy="834.6" rx="1.2" ry="2" fill="#4f2a63" opacity="0.8"/>
<ellipse cx="118.2" cy="777.6" rx="1.2" ry="2" fill="#4f2a63" opacity="0.8"/>
<ellipse cx="84.1" cy="799.6" rx="1.2" ry="2" fill="#4f2a63" opacity="0.8"/>
<ellipse cx="78.7" cy="806.5" rx="1.2" ry="2" fill="#4f2a63" opacity="0.8"/>
<ellipse cx="81.4" cy="803.4" rx="1.2" ry="2" fill="#4f2a63" opacity="0.8"/>
<ellipse cx="78.8" cy="804.1" rx="1.2" ry="2" fill="#4f2a63" opacity="0.8"/>
<ellipse cx="150.0" cy="762.9" rx="1.2" ry="2" fill="#4f2a63" opacity="0.8"/>
<ellipse cx="144.8" cy="764.3" rx="1.2" ry="2" fill="#4f2a63" opacity="0.8"/>
<ellipse cx="83.5" cy="800.6" rx="1.2" ry="2" fill="#4f2a63" opacity="0.8"/>
<ellipse cx="23.4" cy="828.8" rx="1.2" ry="2" fill="#4f2a63" opacity="0.8"/>
<ellipse cx="121.8" cy="774.1" rx="1.2" ry="2" fill="#4f2a63" opacity="0.8"/>
<ellipse cx="80.0" cy="803.5" rx="1.2" ry="2" fill="#4f2a63" opacity="0.8"/>
<ellipse cx="79.0" cy="806.1" rx="1.2" ry="2" fill="#4f2a63" opacity="0.8"/>
<ellipse cx="40.8" cy="821.1" rx="1.2" ry="2" fill="#4f2a63" opacity="0.8"/>
<ellipse cx="75.2" cy="807.9" rx="1.2" ry="2" fill="#4f2a63" opacity="0.8"/>
<ellipse cx="12.4" cy="831.7" rx="1.2" ry="2" fill="#4f2a63" opacity="0.8"/>
<ellipse cx="133.8" cy="768.6" rx="1.2" ry="2" fill="#4f2a63" opacity="0.8"/>
<ellipse cx="24.7" cy="827.6" rx="1.2" ry="2" fill="#4f2a63" opacity="0.8"/>
<ellipse cx="122.0" cy="775.3" rx="1.2" ry="2" fill="#4f2a63" opacity="0.8"/>
<ellipse cx="140.1" cy="764.7" rx="1.2" ry="2" fill="#4f2a63" opacity="0.8"/>
<ellipse cx="159.7" cy="758.8" rx="1.2" ry="2" fill="#4f2a63" opacity="0.8"/>
<ellipse cx="76.9" cy="804.3" rx="1.2" ry="2" fill="#4f2a63" opacity="0.8"/>
<ellipse cx="166.7" cy="754.1" rx="1.2" ry="2" fill="#4f2a63" opacity="0.8"/>
<path d="M150.0,748.0L222.0,748.0L222.0,750.0L170.0,752.0L149.3,755.0Z" fill="#c887b5" opacity="1.0"/>
<path d="M100.0,912.0L108.2,896.0L156.3,879.1L222.0,852.6L222.0,912.0Z" fill="#f3f0f2" opacity="1.0"/>
<path d="M104.0,912.0L108.2,897.0L156.3,880.0L222.0,853.6L222.0,862.0L160.0,888.0L118.0,905.0L112.0,912.0Z" fill="#e07da7" opacity="1.0"/>
<path d="M118.0,912.0L170.0,893.0L222.0,872.0L222.0,878.0L175.0,897.0L140.0,912.0Z" fill="#eec5d6" opacity="1.0"/>
<path d="M180.4,912.0L222.0,891.2L222.0,912.0Z" fill="#e07da7" opacity="1.0"/>
<circle cx="171" cy="891" r="4.5" fill="#f3f0f2" stroke="#b07aa8" stroke-width="2"/>
<ellipse cx="196" cy="876" rx="7" ry="3" fill="none" stroke="#c08ab0" stroke-width="1.5" transform="rotate(-22 196 876)"/>
<ellipse cx="140.7" cy="886.8" rx="1.2" ry="1.8" fill="#4f2a63" opacity="0.6" transform="rotate(2 140.7 886.8)"/>
<ellipse cx="156.9" cy="887.7" rx="1.2" ry="1.8" fill="#4f2a63" opacity="0.6" transform="rotate(126 156.9 887.7)"/>
<ellipse cx="149.4" cy="881.1" rx="1.2" ry="1.8" fill="#4f2a63" opacity="0.6" transform="rotate(40 149.4 881.1)"/>
<ellipse cx="193.0" cy="909.5" rx="1.2" ry="1.8" fill="#4f2a63" opacity="0.6" transform="rotate(95 193.0 909.5)"/>
<ellipse cx="134.5" cy="903.7" rx="1.2" ry="1.8" fill="#4f2a63" opacity="0.6" transform="rotate(71 134.5 903.7)"/>
<ellipse cx="133.7" cy="875.4" rx="1.2" ry="1.8" fill="#4f2a63" opacity="0.6" transform="rotate(140 133.7 875.4)"/>
<ellipse cx="200.7" cy="896.6" rx="1.2" ry="1.8" fill="#4f2a63" opacity="0.6" transform="rotate(84 200.7 896.6)"/>
<ellipse cx="173.0" cy="879.5" rx="1.2" ry="1.8" fill="#4f2a63" opacity="0.6" transform="rotate(173 173.0 879.5)"/>
<ellipse cx="149.6" cy="896.8" rx="1.2" ry="1.8" fill="#4f2a63" opacity="0.6" transform="rotate(147 149.6 896.8)"/>
<ellipse cx="201.4" cy="889.7" rx="1.2" ry="1.8" fill="#4f2a63" opacity="0.6" transform="rotate(53 201.4 889.7)"/>
<ellipse cx="171.4" cy="875.3" rx="1.2" ry="1.8" fill="#4f2a63" opacity="0.6" transform="rotate(150 171.4 875.3)"/>
<ellipse cx="149.7" cy="905.7" rx="1.2" ry="1.8" fill="#4f2a63" opacity="0.6" transform="rotate(48 149.7 905.7)"/>
<ellipse cx="152.1" cy="880.6" rx="1.2" ry="1.8" fill="#4f2a63" opacity="0.6" transform="rotate(77 152.1 880.6)"/>
<ellipse cx="130.8" cy="870.1" rx="1.2" ry="1.8" fill="#4f2a63" opacity="0.6" transform="rotate(130 130.8 870.1)"/>
<ellipse cx="141.5" cy="880.3" rx="1.2" ry="1.8" fill="#4f2a63" opacity="0.6" transform="rotate(54 141.5 880.3)"/>
<ellipse cx="163.7" cy="888.0" rx="1.2" ry="1.8" fill="#4f2a63" opacity="0.6" transform="rotate(115 163.7 888.0)"/>
<ellipse cx="183.8" cy="885.2" rx="1.2" ry="1.8" fill="#4f2a63" opacity="0.6" transform="rotate(167 183.8 885.2)"/>
<ellipse cx="205.7" cy="872.4" rx="1.2" ry="1.8" fill="#4f2a63" opacity="0.6" transform="rotate(149 205.7 872.4)"/>
<ellipse cx="211.5" cy="902.9" rx="1.2" ry="1.8" fill="#4f2a63" opacity="0.6" transform="rotate(25 211.5 902.9)"/>
<ellipse cx="203.1" cy="896.6" rx="1.2" ry="1.8" fill="#4f2a63" opacity="0.6" transform="rotate(3 203.1 896.6)"/>
<ellipse cx="111.3" cy="910.0" rx="1.2" ry="1.8" fill="#4f2a63" opacity="0.6" transform="rotate(118 111.3 910.0)"/>
<ellipse cx="138.0" cy="874.3" rx="1.2" ry="1.8" fill="#4f2a63" opacity="0.6" transform="rotate(26 138.0 874.3)"/>
<ellipse cx="136.2" cy="902.6" rx="1.2" ry="1.8" fill="#4f2a63" opacity="0.6" transform="rotate(62 136.2 902.6)"/>
<ellipse cx="127.1" cy="908.0" rx="1.2" ry="1.8" fill="#4f2a63" opacity="0.6" transform="rotate(143 127.1 908.0)"/>
<ellipse cx="128.8" cy="907.4" rx="1.2" ry="1.8" fill="#4f2a63" opacity="0.6" transform="rotate(110 128.8 907.4)"/>
<ellipse cx="197.5" cy="898.1" rx="1.2" ry="1.8" fill="#4f2a63" opacity="0.6" transform="rotate(161 197.5 898.1)"/>
<ellipse cx="198.3" cy="905.2" rx="1.2" ry="1.8" fill="#4f2a63" opacity="0.6" transform="rotate(36 198.3 905.2)"/>
<ellipse cx="187.6" cy="892.3" rx="1.2" ry="1.8" fill="#4f2a63" opacity="0.6" transform="rotate(134 187.6 892.3)"/>
<path d="M180,760 L192,772 L200,786 L207,800 L213,818 L216,828" stroke="#e0406a" stroke-width="1.1" fill="none" stroke-dasharray="2 2" opacity="0.8"/>
</g>
<line x1="155.2" x2="219.0" y1="899.2" y2="899.2" stroke="#000" stroke-width="1.8"/>
<text x="188.1" y="906.8" font-size="6.3" font-weight="bold" text-anchor="middle" fill="#111">100 µm</text>
</g>
<g clip-path="url(#c2)"><g filter="url(#hb)">
<rect x="237" y="747.6" width="217.3" height="163" fill="#b77aa8"/>
<line x1="248.7" y1="879.0" x2="247.0" y2="815.0" stroke="#e6c6da" stroke-width="26.8" stroke-linecap="round"/>
<line x1="248.7" y1="879.0" x2="247.0" y2="815.0" stroke="#633477" stroke-width="25.0" stroke-linecap="round"/>
<line x1="248.7" y1="879.0" x2="247.0" y2="815.0" stroke="#b9a2c2" stroke-width="17.0" stroke-linecap="round"/>
<line x1="248.6" y1="874.0" x2="247.4" y2="831.0" stroke="#d8cedc" stroke-width="9.0" stroke-linecap="round" opacity="0.75"/>
<line x1="248.5" y1="872.0" x2="247.8" y2="847.0" stroke="#eee8ef" stroke-width="1.6" stroke-linecap="round" opacity="0.8"/>
<ellipse cx="239.3" cy="878.5" rx="1.3" ry="1.8" fill="#4f2a63" opacity="0.75" transform="rotate(-2 239.3 878.5)"/>
<ellipse cx="258.3" cy="877.4" rx="1.3" ry="1.8" fill="#4f2a63" opacity="0.75" transform="rotate(-2 258.3 877.4)"/>
<ellipse cx="238.6" cy="874.3" rx="1.3" ry="1.8" fill="#4f2a63" opacity="0.75" transform="rotate(-2 238.6 874.3)"/>
<ellipse cx="258.5" cy="873.9" rx="1.3" ry="1.8" fill="#4f2a63" opacity="0.75" transform="rotate(-2 258.5 873.9)"/>
<ellipse cx="238.4" cy="870.3" rx="1.3" ry="1.8" fill="#4f2a63" opacity="0.75" transform="rotate(-2 238.4 870.3)"/>
<ellipse cx="259.0" cy="869.0" rx="1.3" ry="1.8" fill="#4f2a63" opacity="0.75" transform="rotate(-2 259.0 869.0)"/>
<ellipse cx="238.3" cy="865.7" rx="1.3" ry="1.8" fill="#4f2a63" opacity="0.75" transform="rotate(-2 238.3 865.7)"/>
<ellipse cx="258.6" cy="865.6" rx="1.3" ry="1.8" fill="#4f2a63" opacity="0.75" transform="rotate(-2 258.6 865.6)"/>
<ellipse cx="238.1" cy="863.3" rx="1.3" ry="1.8" fill="#4f2a63" opacity="0.75" transform="rotate(-2 238.1 863.3)"/>
<ellipse cx="257.6" cy="862.2" rx="1.3" ry="1.8" fill="#4f2a63" opacity="0.75" transform="rotate(-2 257.6 862.2)"/>
<ellipse cx="237.4" cy="858.2" rx="1.3" ry="1.8" fill="#4f2a63" opacity="0.75" transform="rotate(-2 237.4 858.2)"/>
<ellipse cx="258.4" cy="858.2" rx="1.3" ry="1.8" fill="#4f2a63" opacity="0.75" transform="rotate(-2 258.4 858.2)"/>
<ellipse cx="238.8" cy="854.6" rx="1.3" ry="1.8" fill="#4f2a63" opacity="0.75" transform="rotate(-2 238.8 854.6)"/>
<ellipse cx="258.0" cy="854.7" rx="1.3" ry="1.8" fill="#4f2a63" opacity="0.75" transform="rotate(-2 258.0 854.7)"/>
<ellipse cx="238.3" cy="851.4" rx="1.3" ry="1.8" fill="#4f2a63" opacity="0.75" transform="rotate(-2 238.3 851.4)"/>
<ellipse cx="257.7" cy="851.3" rx="1.3" ry="1.8" fill="#4f2a63" opacity="0.75" transform="rotate(-2 257.7 851.3)"/>
<ellipse cx="237.8" cy="846.6" rx="1.3" ry="1.8" fill="#4f2a63" opacity="0.75" transform="rotate(-2 237.8 846.6)"/>
<ellipse cx="258.3" cy="845.5" rx="1.3" ry="1.8" fill="#4f2a63" opacity="0.75" transform="rotate(-2 258.3 845.5)"/>
<ellipse cx="237.6" cy="842.5" rx="1.3" ry="1.8" fill="#4f2a63" opacity="0.75" transform="rotate(-2 237.6 842.5)"/>
<ellipse cx="258.2" cy="841.5" rx="1.3" ry="1.8" fill="#4f2a63" opacity="0.75" transform="rotate(-2 258.2 841.5)"/>
<ellipse cx="237.4" cy="837.6" rx="1.3" ry="1.8" fill="#4f2a63" opacity="0.75" transform="rotate(-2 237.4 837.6)"/>
<ellipse cx="257.2" cy="837.1" rx="1.3" ry="1.8" fill="#4f2a63" opacity="0.75" transform="rotate(-2 257.2 837.1)"/>
<ellipse cx="237.7" cy="833.8" rx="1.3" ry="1.8" fill="#4f2a63" opacity="0.75" transform="rotate(-2 237.7 833.8)"/>
<ellipse cx="257.2" cy="832.5" rx="1.3" ry="1.8" fill="#4f2a63" opacity="0.75" transform="rotate(-2 257.2 832.5)"/>
<ellipse cx="237.5" cy="830.9" rx="1.3" ry="1.8" fill="#4f2a63" opacity="0.75" transform="rotate(-2 237.5 830.9)"/>
<ellipse cx="257.9" cy="829.4" rx="1.3" ry="1.8" fill="#4f2a63" opacity="0.75" transform="rotate(-2 257.9 829.4)"/>
<ellipse cx="237.9" cy="825.9" rx="1.3" ry="1.8" fill="#4f2a63" opacity="0.75" transform="rotate(-2 237.9 825.9)"/>
<ellipse cx="256.6" cy="825.0" rx="1.3" ry="1.8" fill="#4f2a63" opacity="0.75" transform="rotate(-2 256.6 825.0)"/>
<ellipse cx="236.7" cy="823.9" rx="1.3" ry="1.8" fill="#4f2a63" opacity="0.75" transform="rotate(-2 236.7 823.9)"/>
<ellipse cx="257.4" cy="823.0" rx="1.3" ry="1.8" fill="#4f2a63" opacity="0.75" transform="rotate(-2 257.4 823.0)"/>
<ellipse cx="237.7" cy="817.9" rx="1.3" ry="1.8" fill="#4f2a63" opacity="0.75" transform="rotate(-2 237.7 817.9)"/>
<ellipse cx="257.2" cy="817.4" rx="1.3" ry="1.8" fill="#4f2a63" opacity="0.75" transform="rotate(-2 257.2 817.4)"/>
<circle cx="248.8" cy="836.9" r="1.8" fill="#d6cfdc" opacity="0.8"/>
<circle cx="243.9" cy="837.8" r="1.8" fill="#d6cfdc" opacity="0.8"/>
<circle cx="247.1" cy="838.5" r="1.8" fill="#d6cfdc" opacity="0.8"/>
<circle cx="242.3" cy="833.7" r="1.8" fill="#d6cfdc" opacity="0.8"/>
<circle cx="242.3" cy="863.5" r="1.8" fill="#d6cfdc" opacity="0.8"/>
<circle cx="252.9" cy="832.8" r="1.8" fill="#d6cfdc" opacity="0.8"/>
<circle cx="245.9" cy="839.1" r="1.8" fill="#d6cfdc" opacity="0.8"/>
<circle cx="251.1" cy="830.4" r="1.8" fill="#d6cfdc" opacity="0.8"/>
<circle cx="244.6" cy="843.9" r="1.8" fill="#d6cfdc" opacity="0.8"/>
<circle cx="247.1" cy="857.2" r="1.8" fill="#d6cfdc" opacity="0.8"/>
<line x1="276.8" y1="870.0" x2="276.0" y2="806.0" stroke="#e6c6da" stroke-width="25.8" stroke-linecap="round"/>
<line x1="276.8" y1="870.0" x2="276.0" y2="806.0" stroke="#633477" stroke-width="24.0" stroke-linecap="round"/>
<line x1="276.8" y1="870.0" x2="276.0" y2="806.0" stroke="#b9a2c2" stroke-width="16.0" stroke-linecap="round"/>
<line x1="276.8" y1="865.0" x2="276.2" y2="822.0" stroke="#d8cedc" stroke-width="8.0" stroke-linecap="round" opacity="0.75"/>
<line x1="276.8" y1="863.0" x2="276.4" y2="838.0" stroke="#eee8ef" stroke-width="1.6" stroke-linecap="round" opacity="0.8"/>
<ellipse cx="267.2" cy="869.7" rx="1.3" ry="1.8" fill="#4f2a63" opacity="0.75" transform="rotate(-1 267.2 869.7)"/>
<ellipse cx="287.0" cy="868.5" rx="1.3" ry="1.8" fill="#4f2a63" opacity="0.75" transform="rotate(-1 287.0 868.5)"/>
<ellipse cx="266.5" cy="864.4" rx="1.3" ry="1.8" fill="#4f2a63" opacity="0.75" transform="rotate(-1 266.5 864.4)"/>
<ellipse cx="286.8" cy="864.9" rx="1.3" ry="1.8" fill="#4f2a63" opacity="0.75" transform="rotate(-1 286.8 864.9)"/>
<ellipse cx="267.1" cy="859.5" rx="1.3" ry="1.8" fill="#4f2a63" opacity="0.75" transform="rotate(-1 267.1 859.5)"/>
<ellipse cx="286.0" cy="860.2" rx="1.3" ry="1.8" fill="#4f2a63" opacity="0.75" transform="rotate(-1 286.0 860.2)"/>
<ellipse cx="267.9" cy="856.2" rx="1.3" ry="1.8" fill="#4f2a63" opacity="0.75" transform="rotate(-1 267.9 856.2)"/>
<ellipse cx="286.0" cy="855.4" rx="1.3" ry="1.8" fill="#4f2a63" opacity="0.75" transform="rotate(-1 286.0 855.4)"/>
<ellipse cx="266.7" cy="852.3" rx="1.3" ry="1.8" fill="#4f2a63" opacity="0.75" transform="rotate(-1 266.7 852.3)"/>
<ellipse cx="285.3" cy="851.8" rx="1.3" ry="1.8" fill="#4f2a63" opacity="0.75" transform="rotate(-1 285.3 851.8)"/>
<ellipse cx="266.5" cy="849.5" rx="1.3" ry="1.8" fill="#4f2a63" opacity="0.75" transform="rotate(-1 266.5 849.5)"/>
<ellipse cx="285.4" cy="849.1" rx="1.3" ry="1.8" fill="#4f2a63" opacity="0.75" transform="rotate(-1 285.4 849.1)"/>
<ellipse cx="266.3" cy="846.2" rx="1.3" ry="1.8" fill="#4f2a63" opacity="0.75" transform="rotate(-1 266.3 846.2)"/>
<ellipse cx="285.6" cy="846.0" rx="1.3" ry="1.8" fill="#4f2a63" opacity="0.75" transform="rotate(-1 285.6 846.0)"/>
<ellipse cx="266.3" cy="842.2" rx="1.3" ry="1.8" fill="#4f2a63" opacity="0.75" transform="rotate(-1 266.3 842.2)"/>
<ellipse cx="286.3" cy="842.1" rx="1.3" ry="1.8" fill="#4f2a63" opacity="0.75" transform="rotate(-1 286.3 842.1)"/>
<ellipse cx="266.2" cy="836.9" rx="1.3" ry="1.8" fill="#4f2a63" opacity="0.75" transform="rotate(-1 266.2 836.9)"/>
<ellipse cx="286.2" cy="836.4" rx="1.3" ry="1.8" fill="#4f2a63" opacity="0.75" transform="rotate(-1 286.2 836.4)"/>
<ellipse cx="266.5" cy="833.0" rx="1.3" ry="1.8" fill="#4f2a63" opacity="0.75" transform="rotate(-1 266.5 833.0)"/>
<ellipse cx="286.2" cy="831.2" rx="1.3" ry="1.8" fill="#4f2a63" opacity="0.75" transform="rotate(-1 286.2 831.2)"/>
<ellipse cx="267.1" cy="830.6" rx="1.3" ry="1.8" fill="#4f2a63" opacity="0.75" transform="rotate(-1 267.1 830.6)"/>
<ellipse cx="285.1" cy="829.5" rx="1.3" ry="1.8" fill="#4f2a63" opacity="0.75" transform="rotate(-1 285.1 829.5)"/>
<ellipse cx="266.2" cy="825.2" rx="1.3" ry="1.8" fill="#4f2a63" opacity="0.75" transform="rotate(-1 266.2 825.2)"/>
<ellipse cx="285.7" cy="823.7" rx="1.3" ry="1.8" fill="#4f2a63" opacity="0.75" transform="rotate(-1 285.7 823.7)"/>
<ellipse cx="266.8" cy="821.3" rx="1.3" ry="1.8" fill="#4f2a63" opacity="0.75" transform="rotate(-1 266.8 821.3)"/>
<ellipse cx="286.0" cy="820.6" rx="1.3" ry="1.8" fill="#4f2a63" opacity="0.75" transform="rotate(-1 286.0 820.6)"/>
<ellipse cx="266.4" cy="816.8" rx="1.3" ry="1.8" fill="#4f2a63" opacity="0.75" transform="rotate(-1 266.4 816.8)"/>
<ellipse cx="285.8" cy="816.1" rx="1.3" ry="1.8" fill="#4f2a63" opacity="0.75" transform="rotate(-1 285.8 816.1)"/>
<ellipse cx="267.1" cy="814.1" rx="1.3" ry="1.8" fill="#4f2a63" opacity="0.75" transform="rotate(-1 267.1 814.1)"/>
<ellipse cx="286.1" cy="813.2" rx="1.3" ry="1.8" fill="#4f2a63" opacity="0.75" transform="rotate(-1 286.1 813.2)"/>
<ellipse cx="265.8" cy="810.3" rx="1.3" ry="1.8" fill="#4f2a63" opacity="0.75" transform="rotate(-1 265.8 810.3)"/>
<ellipse cx="285.9" cy="809.8" rx="1.3" ry="1.8" fill="#4f2a63" opacity="0.75" transform="rotate(-1 285.9 809.8)"/>
<circle cx="277.8" cy="846.6" r="1.8" fill="#d6cfdc" opacity="0.8"/>
<circle cx="280.1" cy="813.5" r="1.8" fill="#d6cfdc" opacity="0.8"/>
<circle cx="274.1" cy="832.9" r="1.8" fill="#d6cfdc" opacity="0.8"/>
<circle cx="281.1" cy="841.6" r="1.8" fill="#d6cfdc" opacity="0.8"/>
<circle cx="278.7" cy="844.3" r="1.8" fill="#d6cfdc" opacity="0.8"/>
<circle cx="281.1" cy="832.7" r="1.8" fill="#d6cfdc" opacity="0.8"/>
<circle cx="273.6" cy="822.3" r="1.8" fill="#d6cfdc" opacity="0.8"/>
<circle cx="273.9" cy="863.6" r="1.8" fill="#d6cfdc" opacity="0.8"/>
<circle cx="277.5" cy="842.0" r="1.8" fill="#d6cfdc" opacity="0.8"/>
<circle cx="280.9" cy="821.8" r="1.8" fill="#d6cfdc" opacity="0.8"/>
<line x1="303.2" y1="864.0" x2="301.0" y2="800.0" stroke="#e6c6da" stroke-width="27.8" stroke-linecap="round"/>
<line x1="303.2" y1="864.0" x2="301.0" y2="800.0" stroke="#633477" stroke-width="26.0" stroke-linecap="round"/>
<line x1="303.2" y1="864.0" x2="301.0" y2="800.0" stroke="#b9a2c2" stroke-width="18.0" stroke-linecap="round"/>
<line x1="303.0" y1="859.0" x2="301.5" y2="816.0" stroke="#d8cedc" stroke-width="10.0" stroke-linecap="round" opacity="0.75"/>
<line x1="302.9" y1="857.0" x2="302.1" y2="832.0" stroke="#eee8ef" stroke-width="1.6" stroke-linecap="round" opacity="0.8"/>
<ellipse cx="293.2" cy="864.8" rx="1.3" ry="1.8" fill="#4f2a63" opacity="0.75" transform="rotate(-2 293.2 864.8)"/>
<ellipse cx="314.3" cy="863.7" rx="1.3" ry="1.8" fill="#4f2a63" opacity="0.75" transform="rotate(-2 314.3 863.7)"/>
<ellipse cx="293.1" cy="860.3" rx="1.3" ry="1.8" fill="#4f2a63" opacity="0.75" transform="rotate(-2 293.1 860.3)"/>
<ellipse cx="313.8" cy="859.8" rx="1.3" ry="1.8" fill="#4f2a63" opacity="0.75" transform="rotate(-2 313.8 859.8)"/>
<ellipse cx="291.7" cy="855.8" rx="1.3" ry="1.8" fill="#4f2a63" opacity="0.75" transform="rotate(-2 291.7 855.8)"/>
<ellipse cx="313.8" cy="854.5" rx="1.3" ry="1.8" fill="#4f2a63" opacity="0.75" transform="rotate(-2 313.8 854.5)"/>
<ellipse cx="292.9" cy="850.4" rx="1.3" ry="1.8" fill="#4f2a63" opacity="0.75" transform="rotate(-2 292.9 850.4)"/>
<ellipse cx="313.4" cy="850.4" rx="1.3" ry="1.8" fill="#4f2a63" opacity="0.75" transform="rotate(-2 313.4 850.4)"/>
<ellipse cx="291.6" cy="847.0" rx="1.3" ry="1.8" fill="#4f2a63" opacity="0.75" transform="rotate(-2 291.6 847.0)"/>
<ellipse cx="313.5" cy="847.2" rx="1.3" ry="1.8" fill="#4f2a63" opacity="0.75" transform="rotate(-2 313.5 847.2)"/>
<ellipse cx="291.3" cy="843.9" rx="1.3" ry="1.8" fill="#4f2a63" opacity="0.75" transform="rotate(-2 291.3 843.9)"/>
<ellipse cx="313.4" cy="842.3" rx="1.3" ry="1.8" fill="#4f2a63" opacity="0.75" transform="rotate(-2 313.4 842.3)"/>
<ellipse cx="292.5" cy="839.8" rx="1.3" ry="1.8" fill="#4f2a63" opacity="0.75" transform="rotate(-2 292.5 839.8)"/>
<ellipse cx="312.8" cy="838.5" rx="1.3" ry="1.8" fill="#4f2a63" opacity="0.75" transform="rotate(-2 312.8 838.5)"/>
<ellipse cx="291.2" cy="834.7" rx="1.3" ry="1.8" fill="#4f2a63" opacity="0.75" transform="rotate(-2 291.2 834.7)"/>
<ellipse cx="312.2" cy="834.8" rx="1.3" ry="1.8" fill="#4f2a63" opacity="0.75" transform="rotate(-2 312.2 834.8)"/>
<ellipse cx="291.7" cy="831.5" rx="1.3" ry="1.8" fill="#4f2a63" opacity="0.75" transform="rotate(-2 291.7 831.5)"/>
<ellipse cx="312.6" cy="830.4" rx="1.3" ry="1.8" fill="#4f2a63" opacity="0.75" transform="rotate(-2 312.6 830.4)"/>
<ellipse cx="292.3" cy="828.1" rx="1.3" ry="1.8" fill="#4f2a63" opacity="0.75" transform="rotate(-2 292.3 828.1)"/>
<ellipse cx="311.8" cy="827.8" rx="1.3" ry="1.8" fill="#4f2a63" opacity="0.75" transform="rotate(-2 311.8 827.8)"/>
<ellipse cx="290.7" cy="822.9" rx="1.3" ry="1.8" fill="#4f2a63" opacity="0.75" transform="rotate(-2 290.7 822.9)"/>
<ellipse cx="312.0" cy="822.1" rx="1.3" ry="1.8" fill="#4f2a63" opacity="0.75" transform="rotate(-2 312.0 822.1)"/>
<ellipse cx="290.4" cy="821.1" rx="1.3" ry="1.8" fill="#4f2a63" opacity="0.75" transform="rotate(-2 290.4 821.1)"/>
<ellipse cx="312.8" cy="819.6" rx="1.3" ry="1.8" fill="#4f2a63" opacity="0.75" transform="rotate(-2 312.8 819.6)"/>
<ellipse cx="290.6" cy="815.7" rx="1.3" ry="1.8" fill="#4f2a63" opacity="0.75" transform="rotate(-2 290.6 815.7)"/>
<ellipse cx="311.9" cy="815.2" rx="1.3" ry="1.8" fill="#4f2a63" opacity="0.75" transform="rotate(-2 311.9 815.2)"/>
<ellipse cx="291.4" cy="811.6" rx="1.3" ry="1.8" fill="#4f2a63" opacity="0.75" transform="rotate(-2 291.4 811.6)"/>
<ellipse cx="311.5" cy="809.4" rx="1.3" ry="1.8" fill="#4f2a63" opacity="0.75" transform="rotate(-2 311.5 809.4)"/>
<ellipse cx="290.3" cy="807.3" rx="1.3" ry="1.8" fill="#4f2a63" opacity="0.75" transform="rotate(-2 290.3 807.3)"/>
<ellipse cx="311.0" cy="807.3" rx="1.3" ry="1.8" fill="#4f2a63" opacity="0.75" transform="rotate(-2 311.0 807.3)"/>
<ellipse cx="290.5" cy="803.3" rx="1.3" ry="1.8" fill="#4f2a63" opacity="0.75" transform="rotate(-2 290.5 803.3)"/>
<ellipse cx="312.2" cy="801.2" rx="1.3" ry="1.8" fill="#4f2a63" opacity="0.75" transform="rotate(-2 312.2 801.2)"/>
<circle cx="300.5" cy="827.0" r="1.8" fill="#d6cfdc" opacity="0.8"/>
<circle cx="309.2" cy="851.2" r="1.8" fill="#d6cfdc" opacity="0.8"/>
<circle cx="303.4" cy="844.4" r="1.8" fill="#d6cfdc" opacity="0.8"/>
<circle cx="308.2" cy="824.6" r="1.8" fill="#d6cfdc" opacity="0.8"/>
<circle cx="300.3" cy="823.4" r="1.8" fill="#d6cfdc" opacity="0.8"/>
<circle cx="297.4" cy="834.8" r="1.8" fill="#d6cfdc" opacity="0.8"/>
<circle cx="308.2" cy="807.9" r="1.8" fill="#d6cfdc" opacity="0.8"/>
<circle cx="296.1" cy="846.5" r="1.8" fill="#d6cfdc" opacity="0.8"/>
<circle cx="300.4" cy="844.6" r="1.8" fill="#d6cfdc" opacity="0.8"/>
<circle cx="307.0" cy="811.2" r="1.8" fill="#d6cfdc" opacity="0.8"/>
<line x1="328.1" y1="853.3" x2="326.0" y2="788.0" stroke="#e6c6da" stroke-width="25.8" stroke-linecap="round"/>
<line x1="328.1" y1="853.3" x2="326.0" y2="788.0" stroke="#633477" stroke-width="24.0" stroke-linecap="round"/>
<line x1="328.1" y1="853.3" x2="326.0" y2="788.0" stroke="#b9a2c2" stroke-width="16.0" stroke-linecap="round"/>
<line x1="328.0" y1="848.3" x2="326.5" y2="804.3" stroke="#d8cedc" stroke-width="8.0" stroke-linecap="round" opacity="0.75"/>
<line x1="327.9" y1="846.3" x2="327.1" y2="820.7" stroke="#eee8ef" stroke-width="1.6" stroke-linecap="round" opacity="0.8"/>
<ellipse cx="317.9" cy="852.4" rx="1.3" ry="1.8" fill="#4f2a63" opacity="0.75" transform="rotate(-2 317.9 852.4)"/>
<ellipse cx="337.9" cy="851.5" rx="1.3" ry="1.8" fill="#4f2a63" opacity="0.75" transform="rotate(-2 337.9 851.5)"/>
<ellipse cx="317.7" cy="847.0" rx="1.3" ry="1.8" fill="#4f2a63" opacity="0.75" transform="rotate(-2 317.7 847.0)"/>
<ellipse cx="337.8" cy="847.6" rx="1.3" ry="1.8" fill="#4f2a63" opacity="0.75" transform="rotate(-2 337.8 847.6)"/>
<ellipse cx="318.0" cy="844.2" rx="1.3" ry="1.8" fill="#4f2a63" opacity="0.75" transform="rotate(-2 318.0 844.2)"/>
<ellipse cx="337.7" cy="842.8" rx="1.3" ry="1.8" fill="#4f2a63" opacity="0.75" transform="rotate(-2 337.7 842.8)"/>
<ellipse cx="317.8" cy="840.1" rx="1.3" ry="1.8" fill="#4f2a63" opacity="0.75" transform="rotate(-2 317.8 840.1)"/>
<ellipse cx="337.2" cy="839.6" rx="1.3" ry="1.8" fill="#4f2a63" opacity="0.75" transform="rotate(-2 337.2 839.6)"/>
<ellipse cx="317.5" cy="837.1" rx="1.3" ry="1.8" fill="#4f2a63" opacity="0.75" transform="rotate(-2 317.5 837.1)"/>
<ellipse cx="336.3" cy="836.5" rx="1.3" ry="1.8" fill="#4f2a63" opacity="0.75" transform="rotate(-2 336.3 836.5)"/>
<ellipse cx="317.2" cy="833.5" rx="1.3" ry="1.8" fill="#4f2a63" opacity="0.75" transform="rotate(-2 317.2 833.5)"/>
<ellipse cx="336.5" cy="832.9" rx="1.3" ry="1.8" fill="#4f2a63" opacity="0.75" transform="rotate(-2 336.5 832.9)"/>
<ellipse cx="318.4" cy="826.8" rx="1.3" ry="1.8" fill="#4f2a63" opacity="0.75" transform="rotate(-2 318.4 826.8)"/>
<ellipse cx="336.7" cy="826.1" rx="1.3" ry="1.8" fill="#4f2a63" opacity="0.75" transform="rotate(-2 336.7 826.1)"/>
<ellipse cx="318.2" cy="823.4" rx="1.3" ry="1.8" fill="#4f2a63" opacity="0.75" transform="rotate(-2 318.2 823.4)"/>
<ellipse cx="336.6" cy="822.3" rx="1.3" ry="1.8" fill="#4f2a63" opacity="0.75" transform="rotate(-2 336.6 822.3)"/>
<ellipse cx="317.5" cy="819.5" rx="1.3" ry="1.8" fill="#4f2a63" opacity="0.75" transform="rotate(-2 317.5 819.5)"/>
<ellipse cx="335.9" cy="818.2" rx="1.3" ry="1.8" fill="#4f2a63" opacity="0.75" transform="rotate(-2 335.9 818.2)"/>
<ellipse cx="317.8" cy="816.9" rx="1.3" ry="1.8" fill="#4f2a63" opacity="0.75" transform="rotate(-2 317.8 816.9)"/>
<ellipse cx="335.9" cy="816.7" rx="1.3" ry="1.8" fill="#4f2a63" opacity="0.75" transform="rotate(-2 335.9 816.7)"/>
<ellipse cx="317.1" cy="811.7" rx="1.3" ry="1.8" fill="#4f2a63" opacity="0.75" transform="rotate(-2 317.1 811.7)"/>
<ellipse cx="335.9" cy="812.2" rx="1.3" ry="1.8" fill="#4f2a63" opacity="0.75" transform="rotate(-2 335.9 812.2)"/>
<ellipse cx="316.6" cy="808.0" rx="1.3" ry="1.8" fill="#4f2a63" opacity="0.75" transform="rotate(-2 316.6 808.0)"/>
<ellipse cx="335.8" cy="808.1" rx="1.3" ry="1.8" fill="#4f2a63" opacity="0.75" transform="rotate(-2 335.8 808.1)"/>
<ellipse cx="317.8" cy="803.7" rx="1.3" ry="1.8" fill="#4f2a63" opacity="0.75" transform="rotate(-2 317.8 803.7)"/>
<ellipse cx="336.7" cy="804.1" rx="1.3" ry="1.8" fill="#4f2a63" opacity="0.75" transform="rotate(-2 336.7 804.1)"/>
<ellipse cx="316.9" cy="799.8" rx="1.3" ry="1.8" fill="#4f2a63" opacity="0.75" transform="rotate(-2 316.9 799.8)"/>
<ellipse cx="335.5" cy="799.0" rx="1.3" ry="1.8" fill="#4f2a63" opacity="0.75" transform="rotate(-2 335.5 799.0)"/>
<ellipse cx="317.5" cy="796.5" rx="1.3" ry="1.8" fill="#4f2a63" opacity="0.75" transform="rotate(-2 317.5 796.5)"/>
<ellipse cx="336.4" cy="794.5" rx="1.3" ry="1.8" fill="#4f2a63" opacity="0.75" transform="rotate(-2 336.4 794.5)"/>
<ellipse cx="317.3" cy="791.1" rx="1.3" ry="1.8" fill="#4f2a63" opacity="0.75" transform="rotate(-2 317.3 791.1)"/>
<ellipse cx="336.0" cy="790.9" rx="1.3" ry="1.8" fill="#4f2a63" opacity="0.75" transform="rotate(-2 336.0 790.9)"/>
<circle cx="320.4" cy="795.8" r="1.8" fill="#d6cfdc" opacity="0.8"/>
<circle cx="324.6" cy="804.7" r="1.8" fill="#d6cfdc" opacity="0.8"/>
<circle cx="321.7" cy="839.6" r="1.8" fill="#d6cfdc" opacity="0.8"/>
<circle cx="326.8" cy="803.3" r="1.8" fill="#d6cfdc" opacity="0.8"/>
<circle cx="326.8" cy="837.1" r="1.8" fill="#d6cfdc" opacity="0.8"/>
<circle cx="323.0" cy="799.2" r="1.8" fill="#d6cfdc" opacity="0.8"/>
<circle cx="322.6" cy="817.1" r="1.8" fill="#d6cfdc" opacity="0.8"/>
<circle cx="330.9" cy="837.3" r="1.8" fill="#d6cfdc" opacity="0.8"/>
<circle cx="323.1" cy="809.7" r="1.8" fill="#d6cfdc" opacity="0.8"/>
<circle cx="322.8" cy="842.8" r="1.8" fill="#d6cfdc" opacity="0.8"/>
<line x1="346.6" y1="852.7" x2="345.0" y2="784.0" stroke="#e6c6da" stroke-width="23.8" stroke-linecap="round"/>
<line x1="346.6" y1="852.7" x2="345.0" y2="784.0" stroke="#633477" stroke-width="22.0" stroke-linecap="round"/>
<line x1="346.6" y1="852.7" x2="345.0" y2="784.0" stroke="#b9a2c2" stroke-width="14.0" stroke-linecap="round"/>
<line x1="346.4" y1="847.7" x2="345.4" y2="801.2" stroke="#d8cedc" stroke-width="6.0" stroke-linecap="round" opacity="0.75"/>
<line x1="346.4" y1="845.7" x2="345.8" y2="818.4" stroke="#eee8ef" stroke-width="1.6" stroke-linecap="round" opacity="0.8"/>
<ellipse cx="338.0" cy="851.3" rx="1.3" ry="1.8" fill="#4f2a63" opacity="0.75" transform="rotate(-1 338.0 851.3)"/>
<ellipse cx="354.6" cy="851.5" rx="1.3" ry="1.8" fill="#4f2a63" opacity="0.75" transform="rotate(-1 354.6 851.5)"/>
<ellipse cx="338.4" cy="847.6" rx="1.3" ry="1.8" fill="#4f2a63" opacity="0.75" transform="rotate(-1 338.4 847.6)"/>
<ellipse cx="354.5" cy="846.3" rx="1.3" ry="1.8" fill="#4f2a63" opacity="0.75" transform="rotate(-1 354.5 846.3)"/>
<ellipse cx="337.7" cy="843.7" rx="1.3" ry="1.8" fill="#4f2a63" opacity="0.75" transform="rotate(-1 337.7 843.7)"/>
<ellipse cx="354.1" cy="843.4" rx="1.3" ry="1.8" fill="#4f2a63" opacity="0.75" transform="rotate(-1 354.1 843.4)"/>
<ellipse cx="338.3" cy="840.7" rx="1.3" ry="1.8" fill="#4f2a63" opacity="0.75" transform="rotate(-1 338.3 840.7)"/>
<ellipse cx="354.8" cy="838.9" rx="1.3" ry="1.8" fill="#4f2a63" opacity="0.75" transform="rotate(-1 354.8 838.9)"/>
<ellipse cx="337.6" cy="835.5" rx="1.3" ry="1.8" fill="#4f2a63" opacity="0.75" transform="rotate(-1 337.6 835.5)"/>
<ellipse cx="354.3" cy="834.0" rx="1.3" ry="1.8" fill="#4f2a63" opacity="0.75" transform="rotate(-1 354.3 834.0)"/>
<ellipse cx="337.4" cy="830.5" rx="1.3" ry="1.8" fill="#4f2a63" opacity="0.75" transform="rotate(-1 337.4 830.5)"/>
<ellipse cx="354.4" cy="830.8" rx="1.3" ry="1.8" fill="#4f2a63" opacity="0.75" transform="rotate(-1 354.4 830.8)"/>
<ellipse cx="337.5" cy="828.6" rx="1.3" ry="1.8" fill="#4f2a63" opacity="0.75" transform="rotate(-1 337.5 828.6)"/>
<ellipse cx="354.5" cy="827.6" rx="1.3" ry="1.8" fill="#4f2a63" opacity="0.75" transform="rotate(-1 354.5 827.6)"/>
<ellipse cx="337.9" cy="823.7" rx="1.3" ry="1.8" fill="#4f2a63" opacity="0.75" transform="rotate(-1 337.9 823.7)"/>
<ellipse cx="354.1" cy="823.1" rx="1.3" ry="1.8" fill="#4f2a63" opacity="0.75" transform="rotate(-1 354.1 823.1)"/>
<ellipse cx="337.7" cy="819.1" rx="1.3" ry="1.8" fill="#4f2a63" opacity="0.75" transform="rotate(-1 337.7 819.1)"/>
<ellipse cx="354.9" cy="820.1" rx="1.3" ry="1.8" fill="#4f2a63" opacity="0.75" transform="rotate(-1 354.9 820.1)"/>
<ellipse cx="337.2" cy="815.6" rx="1.3" ry="1.8" fill="#4f2a63" opacity="0.75" transform="rotate(-1 337.2 815.6)"/>
<ellipse cx="354.3" cy="814.4" rx="1.3" ry="1.8" fill="#4f2a63" opacity="0.75" transform="rotate(-1 354.3 814.4)"/>
<ellipse cx="336.7" cy="810.0" rx="1.3" ry="1.8" fill="#4f2a63" opacity="0.75" transform="rotate(-1 336.7 810.0)"/>
<ellipse cx="353.5" cy="809.7" rx="1.3" ry="1.8" fill="#4f2a63" opacity="0.75" transform="rotate(-1 353.5 809.7)"/>
<ellipse cx="336.3" cy="806.1" rx="1.3" ry="1.8" fill="#4f2a63" opacity="0.75" transform="rotate(-1 336.3 806.1)"/>
<ellipse cx="354.3" cy="805.9" rx="1.3" ry="1.8" fill="#4f2a63" opacity="0.75" transform="rotate(-1 354.3 805.9)"/>
<ellipse cx="337.1" cy="804.5" rx="1.3" ry="1.8" fill="#4f2a63" opacity="0.75" transform="rotate(-1 337.1 804.5)"/>
<ellipse cx="354.0" cy="804.3" rx="1.3" ry="1.8" fill="#4f2a63" opacity="0.75" transform="rotate(-1 354.0 804.3)"/>
<ellipse cx="337.5" cy="800.5" rx="1.3" ry="1.8" fill="#4f2a63" opacity="0.75" transform="rotate(-1 337.5 800.5)"/>
<ellipse cx="353.1" cy="799.2" rx="1.3" ry="1.8" fill="#4f2a63" opacity="0.75" transform="rotate(-1 353.1 799.2)"/>
<ellipse cx="336.8" cy="795.0" rx="1.3" ry="1.8" fill="#4f2a63" opacity="0.75" transform="rotate(-1 336.8 795.0)"/>
<ellipse cx="353.1" cy="794.8" rx="1.3" ry="1.8" fill="#4f2a63" opacity="0.75" transform="rotate(-1 353.1 794.8)"/>
<ellipse cx="336.8" cy="792.6" rx="1.3" ry="1.8" fill="#4f2a63" opacity="0.75" transform="rotate(-1 336.8 792.6)"/>
<ellipse cx="353.1" cy="791.7" rx="1.3" ry="1.8" fill="#4f2a63" opacity="0.75" transform="rotate(-1 353.1 791.7)"/>
<ellipse cx="336.0" cy="787.2" rx="1.3" ry="1.8" fill="#4f2a63" opacity="0.75" transform="rotate(-1 336.0 787.2)"/>
<ellipse cx="354.3" cy="786.2" rx="1.3" ry="1.8" fill="#4f2a63" opacity="0.75" transform="rotate(-1 354.3 786.2)"/>
<circle cx="349.3" cy="822.6" r="1.8" fill="#d6cfdc" opacity="0.8"/>
<circle cx="344.7" cy="817.0" r="1.8" fill="#d6cfdc" opacity="0.8"/>
<circle cx="348.0" cy="794.0" r="1.8" fill="#d6cfdc" opacity="0.8"/>
<circle cx="343.4" cy="827.3" r="1.8" fill="#d6cfdc" opacity="0.8"/>
<circle cx="345.3" cy="827.4" r="1.8" fill="#d6cfdc" opacity="0.8"/>
<circle cx="348.2" cy="791.8" r="1.8" fill="#d6cfdc" opacity="0.8"/>
<circle cx="348.4" cy="795.6" r="1.8" fill="#d6cfdc" opacity="0.8"/>
<circle cx="340.9" cy="799.3" r="1.8" fill="#d6cfdc" opacity="0.8"/>
<circle cx="350.3" cy="817.3" r="1.8" fill="#d6cfdc" opacity="0.8"/>
<circle cx="342.7" cy="794.5" r="1.8" fill="#d6cfdc" opacity="0.8"/>
<circle cx="347.2" cy="822.6" r="1.8" fill="#d6cfdc" opacity="0.8"/>
<line x1="374.8" y1="838.9" x2="373.0" y2="780.0" stroke="#e6c6da" stroke-width="24.8" stroke-linecap="round"/>
<line x1="374.8" y1="838.9" x2="373.0" y2="780.0" stroke="#633477" stroke-width="23.0" stroke-linecap="round"/>
<line x1="374.8" y1="838.9" x2="373.0" y2="780.0" stroke="#b9a2c2" stroke-width="15.0" stroke-linecap="round"/>
<line x1="374.6" y1="833.9" x2="373.4" y2="794.7" stroke="#d8cedc" stroke-width="7.0" stroke-linecap="round" opacity="0.75"/>
<line x1="374.6" y1="831.9" x2="373.9" y2="809.5" stroke="#eee8ef" stroke-width="1.6" stroke-linecap="round" opacity="0.8"/>
<ellipse cx="365.8" cy="837.7" rx="1.3" ry="1.8" fill="#4f2a63" opacity="0.75" transform="rotate(-2 365.8 837.7)"/>
<ellipse cx="383.6" cy="837.9" rx="1.3" ry="1.8" fill="#4f2a63" opacity="0.75" transform="rotate(-2 383.6 837.9)"/>
<ellipse cx="365.1" cy="835.7" rx="1.3" ry="1.8" fill="#4f2a63" opacity="0.75" transform="rotate(-2 365.1 835.7)"/>
<ellipse cx="384.1" cy="835.1" rx="1.3" ry="1.8" fill="#4f2a63" opacity="0.75" transform="rotate(-2 384.1 835.1)"/>
<ellipse cx="366.0" cy="830.0" rx="1.3" ry="1.8" fill="#4f2a63" opacity="0.75" transform="rotate(-2 366.0 830.0)"/>
<ellipse cx="384.1" cy="828.1" rx="1.3" ry="1.8" fill="#4f2a63" opacity="0.75" transform="rotate(-2 384.1 828.1)"/>
<ellipse cx="365.0" cy="825.5" rx="1.3" ry="1.8" fill="#4f2a63" opacity="0.75" transform="rotate(-2 365.0 825.5)"/>
<ellipse cx="383.0" cy="824.7" rx="1.3" ry="1.8" fill="#4f2a63" opacity="0.75" transform="rotate(-2 383.0 824.7)"/>
<ellipse cx="365.4" cy="820.0" rx="1.3" ry="1.8" fill="#4f2a63" opacity="0.75" transform="rotate(-2 365.4 820.0)"/>
<ellipse cx="383.2" cy="819.8" rx="1.3" ry="1.8" fill="#4f2a63" opacity="0.75" transform="rotate(-2 383.2 819.8)"/>
<ellipse cx="364.7" cy="815.8" rx="1.3" ry="1.8" fill="#4f2a63" opacity="0.75" transform="rotate(-2 364.7 815.8)"/>
<ellipse cx="383.3" cy="815.0" rx="1.3" ry="1.8" fill="#4f2a63" opacity="0.75" transform="rotate(-2 383.3 815.0)"/>
<ellipse cx="365.7" cy="812.7" rx="1.3" ry="1.8" fill="#4f2a63" opacity="0.75" transform="rotate(-2 365.7 812.7)"/>
<ellipse cx="382.6" cy="812.1" rx="1.3" ry="1.8" fill="#4f2a63" opacity="0.75" transform="rotate(-2 382.6 812.1)"/>
<ellipse cx="364.3" cy="808.0" rx="1.3" ry="1.8" fill="#4f2a63" opacity="0.75" transform="rotate(-2 364.3 808.0)"/>
<ellipse cx="382.3" cy="807.7" rx="1.3" ry="1.8" fill="#4f2a63" opacity="0.75" transform="rotate(-2 382.3 807.7)"/>
<ellipse cx="364.4" cy="804.2" rx="1.3" ry="1.8" fill="#4f2a63" opacity="0.75" transform="rotate(-2 364.4 804.2)"/>
<ellipse cx="382.1" cy="804.2" rx="1.3" ry="1.8" fill="#4f2a63" opacity="0.75" transform="rotate(-2 382.1 804.2)"/>
<ellipse cx="364.8" cy="799.7" rx="1.3" ry="1.8" fill="#4f2a63" opacity="0.75" transform="rotate(-2 364.8 799.7)"/>
<ellipse cx="382.8" cy="798.5" rx="1.3" ry="1.8" fill="#4f2a63" opacity="0.75" transform="rotate(-2 382.8 798.5)"/>
<ellipse cx="364.4" cy="795.7" rx="1.3" ry="1.8" fill="#4f2a63" opacity="0.75" transform="rotate(-2 364.4 795.7)"/>
<ellipse cx="382.6" cy="795.0" rx="1.3" ry="1.8" fill="#4f2a63" opacity="0.75" transform="rotate(-2 382.6 795.0)"/>
<ellipse cx="364.0" cy="791.8" rx="1.3" ry="1.8" fill="#4f2a63" opacity="0.75" transform="rotate(-2 364.0 791.8)"/>
<ellipse cx="382.4" cy="791.5" rx="1.3" ry="1.8" fill="#4f2a63" opacity="0.75" transform="rotate(-2 382.4 791.5)"/>
<ellipse cx="363.4" cy="787.2" rx="1.3" ry="1.8" fill="#4f2a63" opacity="0.75" transform="rotate(-2 363.4 787.2)"/>
<ellipse cx="382.8" cy="786.5" rx="1.3" ry="1.8" fill="#4f2a63" opacity="0.75" transform="rotate(-2 382.8 786.5)"/>
<ellipse cx="364.1" cy="783.0" rx="1.3" ry="1.8" fill="#4f2a63" opacity="0.75" transform="rotate(-2 364.1 783.0)"/>
<ellipse cx="382.9" cy="782.4" rx="1.3" ry="1.8" fill="#4f2a63" opacity="0.75" transform="rotate(-2 382.9 782.4)"/>
<circle cx="369.7" cy="796.7" r="1.8" fill="#d6cfdc" opacity="0.8"/>
<circle cx="378.6" cy="829.7" r="1.8" fill="#d6cfdc" opacity="0.8"/>
<circle cx="369.2" cy="812.4" r="1.8" fill="#d6cfdc" opacity="0.8"/>
<circle cx="373.4" cy="814.8" r="1.8" fill="#d6cfdc" opacity="0.8"/>
<circle cx="369.3" cy="798.5" r="1.8" fill="#d6cfdc" opacity="0.8"/>
<circle cx="379.3" cy="822.3" r="1.8" fill="#d6cfdc" opacity="0.8"/>
<circle cx="369.7" cy="798.3" r="1.8" fill="#d6cfdc" opacity="0.8"/>
<circle cx="372.5" cy="817.2" r="1.8" fill="#d6cfdc" opacity="0.8"/>
<circle cx="374.9" cy="801.2" r="1.8" fill="#d6cfdc" opacity="0.8"/>
<line x1="393.2" y1="835.4" x2="391.0" y2="776.0" stroke="#e6c6da" stroke-width="21.8" stroke-linecap="round"/>
<line x1="393.2" y1="835.4" x2="391.0" y2="776.0" stroke="#633477" stroke-width="20.0" stroke-linecap="round"/>
<line x1="393.2" y1="835.4" x2="391.0" y2="776.0" stroke="#b9a2c2" stroke-width="12.0" stroke-linecap="round"/>
<line x1="393.0" y1="830.4" x2="391.5" y2="790.9" stroke="#d8cedc" stroke-width="4.0" stroke-linecap="round" opacity="0.75"/>
<line x1="392.9" y1="828.4" x2="392.1" y2="805.7" stroke="#eee8ef" stroke-width="1.6" stroke-linecap="round" opacity="0.8"/>
<ellipse cx="386.1" cy="833.9" rx="1.3" ry="1.8" fill="#4f2a63" opacity="0.75" transform="rotate(-2 386.1 833.9)"/>
<ellipse cx="401.0" cy="833.7" rx="1.3" ry="1.8" fill="#4f2a63" opacity="0.75" transform="rotate(-2 401.0 833.7)"/>
<ellipse cx="385.4" cy="830.3" rx="1.3" ry="1.8" fill="#4f2a63" opacity="0.75" transform="rotate(-2 385.4 830.3)"/>
<ellipse cx="400.8" cy="829.9" rx="1.3" ry="1.8" fill="#4f2a63" opacity="0.75" transform="rotate(-2 400.8 829.9)"/>
<ellipse cx="385.9" cy="826.1" rx="1.3" ry="1.8" fill="#4f2a63" opacity="0.75" transform="rotate(-2 385.9 826.1)"/>
<ellipse cx="400.8" cy="826.5" rx="1.3" ry="1.8" fill="#4f2a63" opacity="0.75" transform="rotate(-2 400.8 826.5)"/>
<ellipse cx="385.9" cy="822.0" rx="1.3" ry="1.8" fill="#4f2a63" opacity="0.75" transform="rotate(-2 385.9 822.0)"/>
<ellipse cx="400.0" cy="821.8" rx="1.3" ry="1.8" fill="#4f2a63" opacity="0.75" transform="rotate(-2 400.0 821.8)"/>
<ellipse cx="385.1" cy="816.7" rx="1.3" ry="1.8" fill="#4f2a63" opacity="0.75" transform="rotate(-2 385.1 816.7)"/>
<ellipse cx="399.9" cy="816.2" rx="1.3" ry="1.8" fill="#4f2a63" opacity="0.75" transform="rotate(-2 399.9 816.2)"/>
<ellipse cx="384.5" cy="812.8" rx="1.3" ry="1.8" fill="#4f2a63" opacity="0.75" transform="rotate(-2 384.5 812.8)"/>
<ellipse cx="399.9" cy="812.2" rx="1.3" ry="1.8" fill="#4f2a63" opacity="0.75" transform="rotate(-2 399.9 812.2)"/>
<ellipse cx="385.2" cy="810.1" rx="1.3" ry="1.8" fill="#4f2a63" opacity="0.75" transform="rotate(-2 385.2 810.1)"/>
<ellipse cx="399.7" cy="808.9" rx="1.3" ry="1.8" fill="#4f2a63" opacity="0.75" transform="rotate(-2 399.7 808.9)"/>
<ellipse cx="384.3" cy="805.0" rx="1.3" ry="1.8" fill="#4f2a63" opacity="0.75" transform="rotate(-2 384.3 805.0)"/>
<ellipse cx="399.7" cy="805.2" rx="1.3" ry="1.8" fill="#4f2a63" opacity="0.75" transform="rotate(-2 399.7 805.2)"/>
<ellipse cx="385.1" cy="801.3" rx="1.3" ry="1.8" fill="#4f2a63" opacity="0.75" transform="rotate(-2 385.1 801.3)"/>
<ellipse cx="400.0" cy="801.5" rx="1.3" ry="1.8" fill="#4f2a63" opacity="0.75" transform="rotate(-2 400.0 801.5)"/>
<ellipse cx="383.7" cy="795.3" rx="1.3" ry="1.8" fill="#4f2a63" opacity="0.75" transform="rotate(-2 383.7 795.3)"/>
<ellipse cx="399.8" cy="794.1" rx="1.3" ry="1.8" fill="#4f2a63" opacity="0.75" transform="rotate(-2 399.8 794.1)"/>
<ellipse cx="384.2" cy="793.1" rx="1.3" ry="1.8" fill="#4f2a63" opacity="0.75" transform="rotate(-2 384.2 793.1)"/>
<ellipse cx="399.8" cy="793.0" rx="1.3" ry="1.8" fill="#4f2a63" opacity="0.75" transform="rotate(-2 399.8 793.0)"/>
<ellipse cx="384.7" cy="787.9" rx="1.3" ry="1.8" fill="#4f2a63" opacity="0.75" transform="rotate(-2 384.7 787.9)"/>
<ellipse cx="398.9" cy="787.6" rx="1.3" ry="1.8" fill="#4f2a63" opacity="0.75" transform="rotate(-2 398.9 787.6)"/>
<ellipse cx="383.6" cy="784.1" rx="1.3" ry="1.8" fill="#4f2a63" opacity="0.75" transform="rotate(-2 383.6 784.1)"/>
<ellipse cx="398.5" cy="784.1" rx="1.3" ry="1.8" fill="#4f2a63" opacity="0.75" transform="rotate(-2 398.5 784.1)"/>
<ellipse cx="383.6" cy="778.4" rx="1.3" ry="1.8" fill="#4f2a63" opacity="0.75" transform="rotate(-2 383.6 778.4)"/>
<ellipse cx="398.4" cy="778.4" rx="1.3" ry="1.8" fill="#4f2a63" opacity="0.75" transform="rotate(-2 398.4 778.4)"/>
<circle cx="392.6" cy="802.8" r="1.8" fill="#d6cfdc" opacity="0.8"/>
<circle cx="395.1" cy="787.5" r="1.8" fill="#d6cfdc" opacity="0.8"/>
<circle cx="391.6" cy="806.4" r="1.8" fill="#d6cfdc" opacity="0.8"/>
<circle cx="395.8" cy="799.6" r="1.8" fill="#d6cfdc" opacity="0.8"/>
<circle cx="392.6" cy="813.1" r="1.8" fill="#d6cfdc" opacity="0.8"/>
<circle cx="388.9" cy="790.8" r="1.8" fill="#d6cfdc" opacity="0.8"/>
<circle cx="396.2" cy="814.2" r="1.8" fill="#d6cfdc" opacity="0.8"/>
<circle cx="391.6" cy="790.2" r="1.8" fill="#d6cfdc" opacity="0.8"/>
<circle cx="395.9" cy="824.1" r="1.8" fill="#d6cfdc" opacity="0.8"/>
<line x1="414.8" y1="841.2" x2="413.0" y2="776.0" stroke="#e6c6da" stroke-width="26.8" stroke-linecap="round"/>
<line x1="414.8" y1="841.2" x2="413.0" y2="776.0" stroke="#633477" stroke-width="25.0" stroke-linecap="round"/>
<line x1="414.8" y1="841.2" x2="413.0" y2="776.0" stroke="#b9a2c2" stroke-width="17.0" stroke-linecap="round"/>
<line x1="414.6" y1="836.2" x2="413.4" y2="792.3" stroke="#d8cedc" stroke-width="9.0" stroke-linecap="round" opacity="0.75"/>
<line x1="414.6" y1="834.2" x2="413.9" y2="808.6" stroke="#eee8ef" stroke-width="1.6" stroke-linecap="round" opacity="0.8"/>
<ellipse cx="405.3" cy="840.9" rx="1.3" ry="1.8" fill="#4f2a63" opacity="0.75" transform="rotate(-2 405.3 840.9)"/>
<ellipse cx="425.4" cy="839.4" rx="1.3" ry="1.8" fill="#4f2a63" opacity="0.75" transform="rotate(-2 425.4 839.4)"/>
<ellipse cx="404.3" cy="837.1" rx="1.3" ry="1.8" fill="#4f2a63" opacity="0.75" transform="rotate(-2 404.3 837.1)"/>
<ellipse cx="424.7" cy="836.0" rx="1.3" ry="1.8" fill="#4f2a63" opacity="0.75" transform="rotate(-2 424.7 836.0)"/>
<ellipse cx="404.8" cy="833.1" rx="1.3" ry="1.8" fill="#4f2a63" opacity="0.75" transform="rotate(-2 404.8 833.1)"/>
<ellipse cx="424.3" cy="833.2" rx="1.3" ry="1.8" fill="#4f2a63" opacity="0.75" transform="rotate(-2 424.3 833.2)"/>
<ellipse cx="403.7" cy="827.8" rx="1.3" ry="1.8" fill="#4f2a63" opacity="0.75" transform="rotate(-2 403.7 827.8)"/>
<ellipse cx="424.9" cy="827.1" rx="1.3" ry="1.8" fill="#4f2a63" opacity="0.75" transform="rotate(-2 424.9 827.1)"/>
<ellipse cx="403.5" cy="823.5" rx="1.3" ry="1.8" fill="#4f2a63" opacity="0.75" transform="rotate(-2 403.5 823.5)"/>
<ellipse cx="424.8" cy="823.4" rx="1.3" ry="1.8" fill="#4f2a63" opacity="0.75" transform="rotate(-2 424.8 823.4)"/>
<ellipse cx="403.7" cy="819.7" rx="1.3" ry="1.8" fill="#4f2a63" opacity="0.75" transform="rotate(-2 403.7 819.7)"/>
<ellipse cx="424.3" cy="818.8" rx="1.3" ry="1.8" fill="#4f2a63" opacity="0.75" transform="rotate(-2 424.3 818.8)"/>
<ellipse cx="404.1" cy="816.5" rx="1.3" ry="1.8" fill="#4f2a63" opacity="0.75" transform="rotate(-2 404.1 816.5)"/>
<ellipse cx="424.2" cy="815.0" rx="1.3" ry="1.8" fill="#4f2a63" opacity="0.75" transform="rotate(-2 424.2 815.0)"/>
<ellipse cx="403.4" cy="813.1" rx="1.3" ry="1.8" fill="#4f2a63" opacity="0.75" transform="rotate(-2 403.4 813.1)"/>
<ellipse cx="423.4" cy="811.5" rx="1.3" ry="1.8" fill="#4f2a63" opacity="0.75" transform="rotate(-2 423.4 811.5)"/>
<ellipse cx="403.9" cy="809.0" rx="1.3" ry="1.8" fill="#4f2a63" opacity="0.75" transform="rotate(-2 403.9 809.0)"/>
<ellipse cx="424.1" cy="808.5" rx="1.3" ry="1.8" fill="#4f2a63" opacity="0.75" transform="rotate(-2 424.1 808.5)"/>
<ellipse cx="403.0" cy="805.1" rx="1.3" ry="1.8" fill="#4f2a63" opacity="0.75" transform="rotate(-2 403.0 805.1)"/>
<ellipse cx="423.5" cy="804.5" rx="1.3" ry="1.8" fill="#4f2a63" opacity="0.75" transform="rotate(-2 423.5 804.5)"/>
<ellipse cx="403.1" cy="799.6" rx="1.3" ry="1.8" fill="#4f2a63" opacity="0.75" transform="rotate(-2 403.1 799.6)"/>
<ellipse cx="423.0" cy="800.1" rx="1.3" ry="1.8" fill="#4f2a63" opacity="0.75" transform="rotate(-2 423.0 800.1)"/>
<ellipse cx="403.3" cy="795.4" rx="1.3" ry="1.8" fill="#4f2a63" opacity="0.75" transform="rotate(-2 403.3 795.4)"/>
<ellipse cx="423.3" cy="794.2" rx="1.3" ry="1.8" fill="#4f2a63" opacity="0.75" transform="rotate(-2 423.3 794.2)"/>
<ellipse cx="403.5" cy="791.5" rx="1.3" ry="1.8" fill="#4f2a63" opacity="0.75" transform="rotate(-2 403.5 791.5)"/>
<ellipse cx="423.3" cy="790.4" rx="1.3" ry="1.8" fill="#4f2a63" opacity="0.75" transform="rotate(-2 423.3 790.4)"/>
<ellipse cx="402.6" cy="788.7" rx="1.3" ry="1.8" fill="#4f2a63" opacity="0.75" transform="rotate(-2 402.6 788.7)"/>
<ellipse cx="423.9" cy="787.1" rx="1.3" ry="1.8" fill="#4f2a63" opacity="0.75" transform="rotate(-2 423.9 787.1)"/>
<ellipse cx="403.7" cy="782.3" rx="1.3" ry="1.8" fill="#4f2a63" opacity="0.75" transform="rotate(-2 403.7 782.3)"/>
<ellipse cx="423.3" cy="782.8" rx="1.3" ry="1.8" fill="#4f2a63" opacity="0.75" transform="rotate(-2 423.3 782.8)"/>
<ellipse cx="403.8" cy="778.9" rx="1.3" ry="1.8" fill="#4f2a63" opacity="0.75" transform="rotate(-2 403.8 778.9)"/>
<ellipse cx="422.9" cy="779.1" rx="1.3" ry="1.8" fill="#4f2a63" opacity="0.75" transform="rotate(-2 422.9 779.1)"/>
<circle cx="411.8" cy="823.2" r="1.8" fill="#d6cfdc" opacity="0.8"/>
<circle cx="413.2" cy="789.0" r="1.8" fill="#d6cfdc" opacity="0.8"/>
<circle cx="410.1" cy="793.4" r="1.8" fill="#d6cfdc" opacity="0.8"/>
<circle cx="412.5" cy="825.7" r="1.8" fill="#d6cfdc" opacity="0.8"/>
<circle cx="420.5" cy="824.8" r="1.8" fill="#d6cfdc" opacity="0.8"/>
<circle cx="415.0" cy="819.5" r="1.8" fill="#d6cfdc" opacity="0.8"/>
<circle cx="414.9" cy="828.7" r="1.8" fill="#d6cfdc" opacity="0.8"/>
<circle cx="412.8" cy="814.6" r="1.8" fill="#d6cfdc" opacity="0.8"/>
<circle cx="409.6" cy="831.4" r="1.8" fill="#d6cfdc" opacity="0.8"/>
<circle cx="411.5" cy="791.7" r="1.8" fill="#d6cfdc" opacity="0.8"/>
<line x1="440.2" y1="841.7" x2="441.0" y2="790.0" stroke="#e6c6da" stroke-width="25.8" stroke-linecap="round"/>
<line x1="440.2" y1="841.7" x2="441.0" y2="790.0" stroke="#633477" stroke-width="24.0" stroke-linecap="round"/>
<line x1="440.2" y1="841.7" x2="441.0" y2="790.0" stroke="#b9a2c2" stroke-width="16.0" stroke-linecap="round"/>
<line x1="440.3" y1="836.7" x2="440.8" y2="802.9" stroke="#d8cedc" stroke-width="8.0" stroke-linecap="round" opacity="0.75"/>
<line x1="440.3" y1="834.7" x2="440.6" y2="815.9" stroke="#eee8ef" stroke-width="1.6" stroke-linecap="round" opacity="0.8"/>
<ellipse cx="430.2" cy="840.7" rx="1.3" ry="1.8" fill="#4f2a63" opacity="0.75" transform="rotate(1 430.2 840.7)"/>
<ellipse cx="449.3" cy="840.6" rx="1.3" ry="1.8" fill="#4f2a63" opacity="0.75" transform="rotate(1 449.3 840.6)"/>
<ellipse cx="430.5" cy="835.3" rx="1.3" ry="1.8" fill="#4f2a63" opacity="0.75" transform="rotate(1 430.5 835.3)"/>
<ellipse cx="450.1" cy="835.5" rx="1.3" ry="1.8" fill="#4f2a63" opacity="0.75" transform="rotate(1 450.1 835.5)"/>
<ellipse cx="431.4" cy="831.8" rx="1.3" ry="1.8" fill="#4f2a63" opacity="0.75" transform="rotate(1 431.4 831.8)"/>
<ellipse cx="449.7" cy="833.2" rx="1.3" ry="1.8" fill="#4f2a63" opacity="0.75" transform="rotate(1 449.7 833.2)"/>
<ellipse cx="430.4" cy="826.7" rx="1.3" ry="1.8" fill="#4f2a63" opacity="0.75" transform="rotate(1 430.4 826.7)"/>
<ellipse cx="450.3" cy="827.0" rx="1.3" ry="1.8" fill="#4f2a63" opacity="0.75" transform="rotate(1 450.3 827.0)"/>
<ellipse cx="430.5" cy="823.0" rx="1.3" ry="1.8" fill="#4f2a63" opacity="0.75" transform="rotate(1 430.5 823.0)"/>
<ellipse cx="450.0" cy="822.1" rx="1.3" ry="1.8" fill="#4f2a63" opacity="0.75" transform="rotate(1 450.0 822.1)"/>
<ellipse cx="430.4" cy="819.4" rx="1.3" ry="1.8" fill="#4f2a63" opacity="0.75" transform="rotate(1 430.4 819.4)"/>
<ellipse cx="449.7" cy="820.0" rx="1.3" ry="1.8" fill="#4f2a63" opacity="0.75" transform="rotate(1 449.7 820.0)"/>
<ellipse cx="430.9" cy="814.0" rx="1.3" ry="1.8" fill="#4f2a63" opacity="0.75" transform="rotate(1 430.9 814.0)"/>
<ellipse cx="450.3" cy="814.3" rx="1.3" ry="1.8" fill="#4f2a63" opacity="0.75" transform="rotate(1 450.3 814.3)"/>
<ellipse cx="430.6" cy="809.5" rx="1.3" ry="1.8" fill="#4f2a63" opacity="0.75" transform="rotate(1 430.6 809.5)"/>
<ellipse cx="450.3" cy="809.4" rx="1.3" ry="1.8" fill="#4f2a63" opacity="0.75" transform="rotate(1 450.3 809.4)"/>
<ellipse cx="431.1" cy="805.7" rx="1.3" ry="1.8" fill="#4f2a63" opacity="0.75" transform="rotate(1 431.1 805.7)"/>
<ellipse cx="450.4" cy="805.4" rx="1.3" ry="1.8" fill="#4f2a63" opacity="0.75" transform="rotate(1 450.4 805.4)"/>
<ellipse cx="430.6" cy="801.4" rx="1.3" ry="1.8" fill="#4f2a63" opacity="0.75" transform="rotate(1 430.6 801.4)"/>
<ellipse cx="450.9" cy="801.9" rx="1.3" ry="1.8" fill="#4f2a63" opacity="0.75" transform="rotate(1 450.9 801.9)"/>
<ellipse cx="430.8" cy="797.1" rx="1.3" ry="1.8" fill="#4f2a63" opacity="0.75" transform="rotate(1 430.8 797.1)"/>
<ellipse cx="450.2" cy="797.3" rx="1.3" ry="1.8" fill="#4f2a63" opacity="0.75" transform="rotate(1 450.2 797.3)"/>
<ellipse cx="430.7" cy="793.2" rx="1.3" ry="1.8" fill="#4f2a63" opacity="0.75" transform="rotate(1 430.7 793.2)"/>
<ellipse cx="450.0" cy="793.2" rx="1.3" ry="1.8" fill="#4f2a63" opacity="0.75" transform="rotate(1 450.0 793.2)"/>
<circle cx="438.1" cy="806.8" r="1.8" fill="#d6cfdc" opacity="0.8"/>
<circle cx="445.4" cy="819.9" r="1.8" fill="#d6cfdc" opacity="0.8"/>
<circle cx="445.4" cy="804.5" r="1.8" fill="#d6cfdc" opacity="0.8"/>
<circle cx="436.4" cy="800.8" r="1.8" fill="#d6cfdc" opacity="0.8"/>
<circle cx="434.8" cy="825.0" r="1.8" fill="#d6cfdc" opacity="0.8"/>
<circle cx="442.7" cy="808.5" r="1.8" fill="#d6cfdc" opacity="0.8"/>
<circle cx="439.4" cy="822.0" r="1.8" fill="#d6cfdc" opacity="0.8"/>
<circle cx="443.1" cy="809.3" r="1.8" fill="#d6cfdc" opacity="0.8"/>
<path d="M237,800 L254.3,797 L273.5,790.5 L315.3,784 L337.8,774.5 L363.5,769.7 L395.6,766.5 L414.8,764.8 L427.7,771.3 L440.5,774.5 L455,769.7" stroke="#e07da7" stroke-width="13" fill="none" stroke-linejoin="round"/>
<ellipse cx="305.1" cy="787.2" rx="1.1" ry="2.6" fill="#4f2a63" opacity="0.8"/>
<ellipse cx="383.5" cy="767.5" rx="1.1" ry="2.6" fill="#4f2a63" opacity="0.8"/>
<ellipse cx="446.6" cy="776.6" rx="1.1" ry="2.6" fill="#4f2a63" opacity="0.8"/>
<ellipse cx="246.4" cy="797.4" rx="1.1" ry="2.6" fill="#4f2a63" opacity="0.8"/>
<ellipse cx="289.3" cy="789.7" rx="1.1" ry="2.6" fill="#4f2a63" opacity="0.8"/>
<ellipse cx="246.6" cy="800.9" rx="1.1" ry="2.6" fill="#4f2a63" opacity="0.8"/>
<ellipse cx="285.0" cy="791.8" rx="1.1" ry="2.6" fill="#4f2a63" opacity="0.8"/>
<ellipse cx="414.7" cy="767.0" rx="1.1" ry="2.6" fill="#4f2a63" opacity="0.8"/>
<ellipse cx="403.7" cy="764.8" rx="1.1" ry="2.6" fill="#4f2a63" opacity="0.8"/>
<ellipse cx="436.9" cy="774.0" rx="1.1" ry="2.6" fill="#4f2a63" opacity="0.8"/>
<ellipse cx="248.7" cy="800.4" rx="1.1" ry="2.6" fill="#4f2a63" opacity="0.8"/>
<ellipse cx="248.6" cy="796.6" rx="1.1" ry="2.6" fill="#4f2a63" opacity="0.8"/>
<ellipse cx="428.1" cy="775.4" rx="1.1" ry="2.6" fill="#4f2a63" opacity="0.8"/>
<ellipse cx="420.3" cy="771.1" rx="1.1" ry="2.6" fill="#4f2a63" opacity="0.8"/>
<ellipse cx="332.8" cy="781.6" rx="1.1" ry="2.6" fill="#4f2a63" opacity="0.8"/>
<ellipse cx="313.1" cy="789.8" rx="1.1" ry="2.6" fill="#4f2a63" opacity="0.8"/>
<ellipse cx="337.9" cy="778.6" rx="1.1" ry="2.6" fill="#4f2a63" opacity="0.8"/>
<ellipse cx="419.8" cy="769.8" rx="1.1" ry="2.6" fill="#4f2a63" opacity="0.8"/>
<ellipse cx="341.3" cy="777.6" rx="1.1" ry="2.6" fill="#4f2a63" opacity="0.8"/>
<ellipse cx="337.8" cy="780.0" rx="1.1" ry="2.6" fill="#4f2a63" opacity="0.8"/>
<ellipse cx="270.1" cy="790.8" rx="1.1" ry="2.6" fill="#4f2a63" opacity="0.8"/>
<ellipse cx="411.3" cy="766.0" rx="1.1" ry="2.6" fill="#4f2a63" opacity="0.8"/>
<ellipse cx="359.9" cy="774.0" rx="1.1" ry="2.6" fill="#4f2a63" opacity="0.8"/>
<ellipse cx="358.1" cy="770.0" rx="1.1" ry="2.6" fill="#4f2a63" opacity="0.8"/>
<ellipse cx="326.5" cy="779.6" rx="1.1" ry="2.6" fill="#4f2a63" opacity="0.8"/>
<ellipse cx="318.5" cy="786.3" rx="1.1" ry="2.6" fill="#4f2a63" opacity="0.8"/>
<ellipse cx="398.5" cy="767.0" rx="1.1" ry="2.6" fill="#4f2a63" opacity="0.8"/>
<ellipse cx="353.3" cy="777.1" rx="1.1" ry="2.6" fill="#4f2a63" opacity="0.8"/>
<ellipse cx="325.3" cy="784.8" rx="1.1" ry="2.6" fill="#4f2a63" opacity="0.8"/>
<ellipse cx="273.4" cy="791.9" rx="1.1" ry="2.6" fill="#4f2a63" opacity="0.8"/>
<ellipse cx="433.1" cy="776.0" rx="1.1" ry="2.6" fill="#4f2a63" opacity="0.8"/>
<ellipse cx="281.5" cy="792.5" rx="1.1" ry="2.6" fill="#4f2a63" opacity="0.8"/>
<ellipse cx="344.2" cy="778.2" rx="1.1" ry="2.6" fill="#4f2a63" opacity="0.8"/>
<ellipse cx="265.8" cy="793.9" rx="1.1" ry="2.6" fill="#4f2a63" opacity="0.8"/>
<ellipse cx="291.2" cy="788.6" rx="1.1" ry="2.6" fill="#4f2a63" opacity="0.8"/>
<ellipse cx="289.8" cy="790.2" rx="1.1" ry="2.6" fill="#4f2a63" opacity="0.8"/>
<ellipse cx="265.5" cy="794.8" rx="1.1" ry="2.6" fill="#4f2a63" opacity="0.8"/>
<ellipse cx="326.8" cy="778.4" rx="1.1" ry="2.6" fill="#4f2a63" opacity="0.8"/>
<ellipse cx="240.7" cy="803.5" rx="1.1" ry="2.6" fill="#4f2a63" opacity="0.8"/>
<ellipse cx="258.9" cy="800.3" rx="1.1" ry="2.6" fill="#4f2a63" opacity="0.8"/>
<ellipse cx="361.3" cy="772.4" rx="1.1" ry="2.6" fill="#4f2a63" opacity="0.8"/>
<ellipse cx="338.2" cy="777.1" rx="1.1" ry="2.6" fill="#4f2a63" opacity="0.8"/>
<ellipse cx="240.0" cy="803.0" rx="1.1" ry="2.6" fill="#4f2a63" opacity="0.8"/>
<ellipse cx="384.6" cy="771.3" rx="1.1" ry="2.6" fill="#4f2a63" opacity="0.8"/>
<ellipse cx="304.8" cy="785.5" rx="1.1" ry="2.6" fill="#4f2a63" opacity="0.8"/>
<ellipse cx="244.6" cy="803.0" rx="1.1" ry="2.6" fill="#4f2a63" opacity="0.8"/>
<ellipse cx="316.3" cy="786.8" rx="1.1" ry="2.6" fill="#4f2a63" opacity="0.8"/>
<ellipse cx="439.3" cy="773.9" rx="1.1" ry="2.6" fill="#4f2a63" opacity="0.8"/>
<ellipse cx="428.1" cy="773.8" rx="1.1" ry="2.6" fill="#4f2a63" opacity="0.8"/>
<ellipse cx="321.1" cy="786.1" rx="1.1" ry="2.6" fill="#4f2a63" opacity="0.8"/>
<ellipse cx="320.5" cy="784.6" rx="1.1" ry="2.6" fill="#4f2a63" opacity="0.8"/>
<ellipse cx="329.1" cy="779.1" rx="1.1" ry="2.6" fill="#4f2a63" opacity="0.8"/>
<ellipse cx="247.7" cy="800.7" rx="1.1" ry="2.6" fill="#4f2a63" opacity="0.8"/>
<ellipse cx="434.2" cy="777.3" rx="1.1" ry="2.6" fill="#4f2a63" opacity="0.8"/>
<ellipse cx="449.4" cy="774.0" rx="1.1" ry="2.6" fill="#4f2a63" opacity="0.8"/>
<ellipse cx="277.4" cy="792.9" rx="1.1" ry="2.6" fill="#4f2a63" opacity="0.8"/>
<ellipse cx="257.9" cy="794.8" rx="1.1" ry="2.6" fill="#4f2a63" opacity="0.8"/>
<ellipse cx="341.4" cy="773.6" rx="1.1" ry="2.6" fill="#4f2a63" opacity="0.8"/>
<ellipse cx="247.1" cy="797.7" rx="1.1" ry="2.6" fill="#4f2a63" opacity="0.8"/>
<ellipse cx="415.4" cy="770.3" rx="1.1" ry="2.6" fill="#4f2a63" opacity="0.8"/>
<ellipse cx="440.7" cy="776.4" rx="1.1" ry="2.6" fill="#4f2a63" opacity="0.8"/>
<ellipse cx="314.9" cy="786.7" rx="1.1" ry="2.6" fill="#4f2a63" opacity="0.8"/>
<ellipse cx="336.3" cy="777.1" rx="1.1" ry="2.6" fill="#4f2a63" opacity="0.8"/>
<ellipse cx="398.2" cy="771.8" rx="1.1" ry="2.6" fill="#4f2a63" opacity="0.8"/>
<ellipse cx="279.4" cy="791.6" rx="1.1" ry="2.6" fill="#4f2a63" opacity="0.8"/>
<ellipse cx="361.7" cy="770.3" rx="1.1" ry="2.6" fill="#4f2a63" opacity="0.8"/>
<ellipse cx="258.4" cy="796.6" rx="1.1" ry="2.6" fill="#4f2a63" opacity="0.8"/>
<ellipse cx="452.9" cy="775.7" rx="1.1" ry="2.6" fill="#4f2a63" opacity="0.8"/>
<ellipse cx="453.3" cy="773.9" rx="1.1" ry="2.6" fill="#4f2a63" opacity="0.8"/>
<ellipse cx="431.3" cy="775.1" rx="1.1" ry="2.6" fill="#4f2a63" opacity="0.8"/>
<path d="M237.0,747.6L395.6,747.6L392.4,754.6L363.5,757.8L334.5,762.7L318.5,769.1L299.2,773.9L267.1,778.7L237.0,780.3Z" fill="#e07da7" opacity="1.0"/>
<ellipse cx="331.8" cy="753.1" rx="1.0" ry="2.4" fill="#4f2a63" opacity="0.75" transform="rotate(4 331.8 753.1)"/>
<ellipse cx="384.7" cy="751.6" rx="1.0" ry="2.4" fill="#4f2a63" opacity="0.75" transform="rotate(7 384.7 751.6)"/>
<ellipse cx="284.1" cy="756.4" rx="1.0" ry="2.4" fill="#4f2a63" opacity="0.75" transform="rotate(19 284.1 756.4)"/>
<ellipse cx="242.3" cy="754.3" rx="1.0" ry="2.4" fill="#4f2a63" opacity="0.75" transform="rotate(9 242.3 754.3)"/>
<ellipse cx="306.9" cy="750.5" rx="1.0" ry="2.4" fill="#4f2a63" opacity="0.75" transform="rotate(8 306.9 750.5)"/>
<ellipse cx="295.3" cy="760.4" rx="1.0" ry="2.4" fill="#4f2a63" opacity="0.75" transform="rotate(-4 295.3 760.4)"/>
<ellipse cx="319.6" cy="757.9" rx="1.0" ry="2.4" fill="#4f2a63" opacity="0.75" transform="rotate(-5 319.6 757.9)"/>
<ellipse cx="255.6" cy="753.7" rx="1.0" ry="2.4" fill="#4f2a63" opacity="0.75" transform="rotate(19 255.6 753.7)"/>
<ellipse cx="322.4" cy="750.7" rx="1.0" ry="2.4" fill="#4f2a63" opacity="0.75" transform="rotate(18 322.4 750.7)"/>
<ellipse cx="277.0" cy="751.1" rx="1.0" ry="2.4" fill="#4f2a63" opacity="0.75" transform="rotate(2 277.0 751.1)"/>
<ellipse cx="276.7" cy="760.1" rx="1.0" ry="2.4" fill="#4f2a63" opacity="0.75" transform="rotate(3 276.7 760.1)"/>
<ellipse cx="272.9" cy="762.3" rx="1.0" ry="2.4" fill="#4f2a63" opacity="0.75" transform="rotate(-19 272.9 762.3)"/>
<ellipse cx="317.0" cy="758.5" rx="1.0" ry="2.4" fill="#4f2a63" opacity="0.75" transform="rotate(-21 317.0 758.5)"/>
<ellipse cx="300.8" cy="750.4" rx="1.0" ry="2.4" fill="#4f2a63" opacity="0.75" transform="rotate(-3 300.8 750.4)"/>
<ellipse cx="371.0" cy="753.2" rx="1.0" ry="2.4" fill="#4f2a63" opacity="0.75" transform="rotate(11 371.0 753.2)"/>
<ellipse cx="354.6" cy="750.2" rx="1.0" ry="2.4" fill="#4f2a63" opacity="0.75" transform="rotate(25 354.6 750.2)"/>
<ellipse cx="349.1" cy="750.1" rx="1.0" ry="2.4" fill="#4f2a63" opacity="0.75" transform="rotate(17 349.1 750.1)"/>
<ellipse cx="298.4" cy="752.3" rx="1.0" ry="2.4" fill="#4f2a63" opacity="0.75" transform="rotate(23 298.4 752.3)"/>
<ellipse cx="324.7" cy="760.6" rx="1.0" ry="2.4" fill="#4f2a63" opacity="0.75" transform="rotate(-18 324.7 760.6)"/>
<ellipse cx="357.5" cy="749.6" rx="1.0" ry="2.4" fill="#4f2a63" opacity="0.75" transform="rotate(-13 357.5 749.6)"/>
<ellipse cx="295.3" cy="749.3" rx="1.0" ry="2.4" fill="#4f2a63" opacity="0.75" transform="rotate(5 295.3 749.3)"/>
<ellipse cx="270.8" cy="756.1" rx="1.0" ry="2.4" fill="#4f2a63" opacity="0.75" transform="rotate(10 270.8 756.1)"/>
<ellipse cx="303.6" cy="765.3" rx="1.0" ry="2.4" fill="#4f2a63" opacity="0.75" transform="rotate(6 303.6 765.3)"/>
<ellipse cx="372.3" cy="753.1" rx="1.0" ry="2.4" fill="#4f2a63" opacity="0.75" transform="rotate(21 372.3 753.1)"/>
<ellipse cx="372.1" cy="750.2" rx="1.0" ry="2.4" fill="#4f2a63" opacity="0.75" transform="rotate(12 372.1 750.2)"/>
<ellipse cx="290.6" cy="764.6" rx="1.0" ry="2.4" fill="#4f2a63" opacity="0.75" transform="rotate(9 290.6 764.6)"/>
<ellipse cx="365.1" cy="750.0" rx="1.0" ry="2.4" fill="#4f2a63" opacity="0.75" transform="rotate(-6 365.1 750.0)"/>
<ellipse cx="351.5" cy="759.1" rx="1.0" ry="2.4" fill="#4f2a63" opacity="0.75" transform="rotate(11 351.5 759.1)"/>
<ellipse cx="244.7" cy="765.8" rx="1.0" ry="2.4" fill="#4f2a63" opacity="0.75" transform="rotate(-20 244.7 765.8)"/>
<ellipse cx="322.5" cy="761.3" rx="1.0" ry="2.4" fill="#4f2a63" opacity="0.75" transform="rotate(-19 322.5 761.3)"/>
<ellipse cx="380.5" cy="753.1" rx="1.0" ry="2.4" fill="#4f2a63" opacity="0.75" transform="rotate(-12 380.5 753.1)"/>
<ellipse cx="267.7" cy="759.8" rx="1.0" ry="2.4" fill="#4f2a63" opacity="0.75" transform="rotate(17 267.7 759.8)"/>
<ellipse cx="327.5" cy="750.6" rx="1.0" ry="2.4" fill="#4f2a63" opacity="0.75" transform="rotate(-24 327.5 750.6)"/>
<ellipse cx="255.0" cy="769.9" rx="1.0" ry="2.4" fill="#4f2a63" opacity="0.75" transform="rotate(-16 255.0 769.9)"/>
<ellipse cx="323.4" cy="753.4" rx="1.0" ry="2.4" fill="#4f2a63" opacity="0.75" transform="rotate(9 323.4 753.4)"/>
<ellipse cx="296.6" cy="751.8" rx="1.0" ry="2.4" fill="#4f2a63" opacity="0.75" transform="rotate(19 296.6 751.8)"/>
<ellipse cx="320.9" cy="759.7" rx="1.0" ry="2.4" fill="#4f2a63" opacity="0.75" transform="rotate(15 320.9 759.7)"/>
<ellipse cx="384.1" cy="749.1" rx="1.0" ry="2.4" fill="#4f2a63" opacity="0.75" transform="rotate(-8 384.1 749.1)"/>
<ellipse cx="261.2" cy="761.6" rx="1.0" ry="2.4" fill="#4f2a63" opacity="0.75" transform="rotate(19 261.2 761.6)"/>
<ellipse cx="361.3" cy="749.3" rx="1.0" ry="2.4" fill="#4f2a63" opacity="0.75" transform="rotate(-16 361.3 749.3)"/>
<ellipse cx="364.0" cy="754.9" rx="1.0" ry="2.4" fill="#4f2a63" opacity="0.75" transform="rotate(-5 364.0 754.9)"/>
<ellipse cx="311.3" cy="751.7" rx="1.0" ry="2.4" fill="#4f2a63" opacity="0.75" transform="rotate(17 311.3 751.7)"/>
<ellipse cx="298.6" cy="765.7" rx="1.0" ry="2.4" fill="#4f2a63" opacity="0.75" transform="rotate(6 298.6 765.7)"/>
<ellipse cx="249.7" cy="757.9" rx="1.0" ry="2.4" fill="#4f2a63" opacity="0.75" transform="rotate(-14 249.7 757.9)"/>
<ellipse cx="375.7" cy="753.0" rx="1.0" ry="2.4" fill="#4f2a63" opacity="0.75" transform="rotate(-23 375.7 753.0)"/>
<ellipse cx="264.1" cy="757.9" rx="1.0" ry="2.4" fill="#4f2a63" opacity="0.75" transform="rotate(-2 264.1 757.9)"/>
<ellipse cx="326.9" cy="754.7" rx="1.0" ry="2.4" fill="#4f2a63" opacity="0.75" transform="rotate(-7 326.9 754.7)"/>
<ellipse cx="238.9" cy="765.6" rx="1.0" ry="2.4" fill="#4f2a63" opacity="0.75" transform="rotate(-8 238.9 765.6)"/>
<ellipse cx="241.2" cy="762.0" rx="1.0" ry="2.4" fill="#4f2a63" opacity="0.75" transform="rotate(24 241.2 762.0)"/>
<ellipse cx="245.0" cy="753.0" rx="1.0" ry="2.4" fill="#4f2a63" opacity="0.75" transform="rotate(9 245.0 753.0)"/>
<ellipse cx="280.0" cy="755.0" rx="1.0" ry="2.4" fill="#4f2a63" opacity="0.75" transform="rotate(0 280.0 755.0)"/>
<ellipse cx="278.4" cy="761.7" rx="1.0" ry="2.4" fill="#4f2a63" opacity="0.75" transform="rotate(1 278.4 761.7)"/>
<ellipse cx="385.4" cy="754.2" rx="1.0" ry="2.4" fill="#4f2a63" opacity="0.75" transform="rotate(-23 385.4 754.2)"/>
<ellipse cx="324.3" cy="760.6" rx="1.0" ry="2.4" fill="#4f2a63" opacity="0.75" transform="rotate(19 324.3 760.6)"/>
<ellipse cx="357.2" cy="755.2" rx="1.0" ry="2.4" fill="#4f2a63" opacity="0.75" transform="rotate(7 357.2 755.2)"/>
<ellipse cx="293.9" cy="754.6" rx="1.0" ry="2.4" fill="#4f2a63" opacity="0.75" transform="rotate(15 293.9 754.6)"/>
<ellipse cx="372.4" cy="755.9" rx="1.0" ry="2.4" fill="#4f2a63" opacity="0.75" transform="rotate(9 372.4 755.9)"/>
<ellipse cx="284.8" cy="765.3" rx="1.0" ry="2.4" fill="#4f2a63" opacity="0.75" transform="rotate(12 284.8 765.3)"/>
<ellipse cx="316.4" cy="759.4" rx="1.0" ry="2.4" fill="#4f2a63" opacity="0.75" transform="rotate(-7 316.4 759.4)"/>
<ellipse cx="322.8" cy="755.2" rx="1.0" ry="2.4" fill="#4f2a63" opacity="0.75" transform="rotate(-22 322.8 755.2)"/>
<ellipse cx="289.9" cy="755.6" rx="1.0" ry="2.4" fill="#4f2a63" opacity="0.75" transform="rotate(24 289.9 755.6)"/>
<ellipse cx="312.1" cy="755.2" rx="1.0" ry="2.4" fill="#4f2a63" opacity="0.75" transform="rotate(-13 312.1 755.2)"/>
<ellipse cx="274.2" cy="757.1" rx="1.0" ry="2.4" fill="#4f2a63" opacity="0.75" transform="rotate(-18 274.2 757.1)"/>
<ellipse cx="239.1" cy="774.0" rx="1.0" ry="2.4" fill="#4f2a63" opacity="0.75" transform="rotate(-2 239.1 774.0)"/>
<ellipse cx="306.6" cy="759.2" rx="1.0" ry="2.4" fill="#4f2a63" opacity="0.75" transform="rotate(-10 306.6 759.2)"/>
<ellipse cx="264.0" cy="750.6" rx="1.0" ry="2.4" fill="#4f2a63" opacity="0.75" transform="rotate(-10 264.0 750.6)"/>
<ellipse cx="285.5" cy="764.4" rx="1.0" ry="2.4" fill="#4f2a63" opacity="0.75" transform="rotate(3 285.5 764.4)"/>
<ellipse cx="382.4" cy="751.0" rx="1.0" ry="2.4" fill="#4f2a63" opacity="0.75" transform="rotate(21 382.4 751.0)"/>
<ellipse cx="327.8" cy="750.2" rx="1.0" ry="2.4" fill="#4f2a63" opacity="0.75" transform="rotate(-16 327.8 750.2)"/>
<ellipse cx="327.4" cy="763.4" rx="1.0" ry="2.4" fill="#4f2a63" opacity="0.75" transform="rotate(-7 327.4 763.4)"/>
<ellipse cx="357.3" cy="753.2" rx="1.0" ry="2.4" fill="#4f2a63" opacity="0.75" transform="rotate(18 357.3 753.2)"/>
<ellipse cx="248.4" cy="762.2" rx="1.0" ry="2.4" fill="#4f2a63" opacity="0.75" transform="rotate(20 248.4 762.2)"/>
<ellipse cx="280.5" cy="754.7" rx="1.0" ry="2.4" fill="#4f2a63" opacity="0.75" transform="rotate(-24 280.5 754.7)"/>
<ellipse cx="263.3" cy="755.6" rx="1.0" ry="2.4" fill="#4f2a63" opacity="0.75" transform="rotate(10 263.3 755.6)"/>
<ellipse cx="271.6" cy="758.4" rx="1.0" ry="2.4" fill="#4f2a63" opacity="0.75" transform="rotate(-15 271.6 758.4)"/>
<ellipse cx="330.8" cy="761.1" rx="1.0" ry="2.4" fill="#4f2a63" opacity="0.75" transform="rotate(7 330.8 761.1)"/>
<ellipse cx="268.3" cy="766.6" rx="1.0" ry="2.4" fill="#4f2a63" opacity="0.75" transform="rotate(23 268.3 766.6)"/>
<ellipse cx="330.6" cy="750.1" rx="1.0" ry="2.4" fill="#4f2a63" opacity="0.75" transform="rotate(15 330.6 750.1)"/>
<ellipse cx="372.8" cy="751.5" rx="1.0" ry="2.4" fill="#4f2a63" opacity="0.75" transform="rotate(-18 372.8 751.5)"/>
<ellipse cx="267.0" cy="762.0" rx="1.0" ry="2.4" fill="#4f2a63" opacity="0.75" transform="rotate(19 267.0 762.0)"/>
<ellipse cx="336.5" cy="761.1" rx="1.0" ry="2.4" fill="#4f2a63" opacity="0.75" transform="rotate(-14 336.5 761.1)"/>
<ellipse cx="288.3" cy="764.6" rx="1.0" ry="2.4" fill="#4f2a63" opacity="0.75" transform="rotate(7 288.3 764.6)"/>
<ellipse cx="300.4" cy="761.8" rx="1.0" ry="2.4" fill="#4f2a63" opacity="0.75" transform="rotate(-8 300.4 761.8)"/>
<ellipse cx="246.8" cy="760.4" rx="1.0" ry="2.4" fill="#4f2a63" opacity="0.75" transform="rotate(-23 246.8 760.4)"/>
<ellipse cx="334.5" cy="753.5" rx="1.0" ry="2.4" fill="#4f2a63" opacity="0.75" transform="rotate(-0 334.5 753.5)"/>
<ellipse cx="330.1" cy="752.6" rx="1.0" ry="2.4" fill="#4f2a63" opacity="0.75" transform="rotate(-2 330.1 752.6)"/>
<ellipse cx="240.1" cy="775.4" rx="1.0" ry="2.4" fill="#4f2a63" opacity="0.75" transform="rotate(3 240.1 775.4)"/>
<ellipse cx="390.1" cy="749.3" rx="1.0" ry="2.4" fill="#4f2a63" opacity="0.75" transform="rotate(6 390.1 749.3)"/>
<ellipse cx="349.5" cy="752.6" rx="1.0" ry="2.4" fill="#4f2a63" opacity="0.75" transform="rotate(-20 349.5 752.6)"/>
<ellipse cx="262.1" cy="752.6" rx="1.0" ry="2.4" fill="#4f2a63" opacity="0.75" transform="rotate(13 262.1 752.6)"/>
<ellipse cx="251.8" cy="770.7" rx="1.0" ry="2.4" fill="#4f2a63" opacity="0.75" transform="rotate(-4 251.8 770.7)"/>
<ellipse cx="321.0" cy="758.2" rx="1.0" ry="2.4" fill="#4f2a63" opacity="0.75" transform="rotate(3 321.0 758.2)"/>
<ellipse cx="339.2" cy="756.6" rx="1.0" ry="2.4" fill="#4f2a63" opacity="0.75" transform="rotate(-8 339.2 756.6)"/>
<ellipse cx="352.1" cy="751.7" rx="1.0" ry="2.4" fill="#4f2a63" opacity="0.75" transform="rotate(11 352.1 751.7)"/>
<ellipse cx="355.5" cy="756.8" rx="1.0" ry="2.4" fill="#4f2a63" opacity="0.75" transform="rotate(-10 355.5 756.8)"/>
<ellipse cx="357.0" cy="758.6" rx="1.0" ry="2.4" fill="#4f2a63" opacity="0.75" transform="rotate(-2 357.0 758.6)"/>
<ellipse cx="280.9" cy="760.5" rx="1.0" ry="2.4" fill="#4f2a63" opacity="0.75" transform="rotate(22 280.9 760.5)"/>
<ellipse cx="258.3" cy="749.2" rx="1.0" ry="2.4" fill="#4f2a63" opacity="0.75" transform="rotate(-1 258.3 749.2)"/>
<ellipse cx="338.9" cy="758.8" rx="1.0" ry="2.4" fill="#4f2a63" opacity="0.75" transform="rotate(-7 338.9 758.8)"/>
<ellipse cx="390.4" cy="750.0" rx="1.0" ry="2.4" fill="#4f2a63" opacity="0.75" transform="rotate(13 390.4 750.0)"/>
<ellipse cx="251.8" cy="749.7" rx="1.0" ry="2.4" fill="#4f2a63" opacity="0.75" transform="rotate(-18 251.8 749.7)"/>
<ellipse cx="247.3" cy="762.7" rx="1.0" ry="2.4" fill="#4f2a63" opacity="0.75" transform="rotate(3 247.3 762.7)"/>
<ellipse cx="266.0" cy="771.9" rx="1.0" ry="2.4" fill="#4f2a63" opacity="0.75" transform="rotate(-7 266.0 771.9)"/>
<ellipse cx="261.0" cy="753.5" rx="1.0" ry="2.4" fill="#4f2a63" opacity="0.75" transform="rotate(12 261.0 753.5)"/>
<ellipse cx="379.9" cy="750.0" rx="1.0" ry="2.4" fill="#4f2a63" opacity="0.75" transform="rotate(-24 379.9 750.0)"/>
<ellipse cx="357.8" cy="751.3" rx="1.0" ry="2.4" fill="#4f2a63" opacity="0.75" transform="rotate(24 357.8 751.3)"/>
<ellipse cx="314.8" cy="759.5" rx="1.0" ry="2.4" fill="#4f2a63" opacity="0.75" transform="rotate(-8 314.8 759.5)"/>
<ellipse cx="361.3" cy="753.2" rx="1.0" ry="2.4" fill="#4f2a63" opacity="0.75" transform="rotate(-9 361.3 753.2)"/>
<ellipse cx="377.1" cy="749.7" rx="1.0" ry="2.4" fill="#4f2a63" opacity="0.75" transform="rotate(12 377.1 749.7)"/>
<ellipse cx="248.1" cy="766.6" rx="1.0" ry="2.4" fill="#4f2a63" opacity="0.75" transform="rotate(-5 248.1 766.6)"/>
<path d="M237.0,780.3L267.1,778.7L299.2,773.9L318.5,769.1L334.5,762.7L363.5,757.8L392.4,754.6L395.6,747.6L454.3,747.6L454.3,762.7L440.5,767.5L427.7,764.3L414.8,757.8L395.6,759.5L363.5,762.7L337.8,767.5L315.3,777.1L273.5,783.5L254.3,790.0L237.0,793.2Z" fill="#f3f0f2" opacity="1.0"/>
<path d="M415.0,747.6L432.0,747.6L430.0,752.0L418.0,753.0Z" fill="#e07da7" opacity="1.0"/>
<path d="M237.0,897.0L260.0,889.0L300.0,879.0L340.0,871.0L380.0,865.0L420.0,861.0L454.3,859.0L454.3,912.0L237.0,912.0Z" fill="#f0e8ee" opacity="1.0"/>
<path d="M237,901 L270,892 L310,884 L350,877 L390,872 L430,868 L455,867" stroke="#e07da7" stroke-width="3.4" fill="none"/>
<path d="M372,881 L390,880 L420,880 L455,879" stroke="#b592b6" stroke-width="2.2" fill="none"/>
<path d="M320.0,912.0L360.0,906.0L400.0,902.0L454.3,897.0L454.3,912.0Z" fill="#e07da7" opacity="1.0"/>
<ellipse cx="424.9" cy="865.1" rx="1.2" ry="1.8" fill="#4f2a63" opacity="0.55" transform="rotate(102 424.9 865.1)"/>
<ellipse cx="327.7" cy="895.2" rx="1.2" ry="1.8" fill="#4f2a63" opacity="0.55" transform="rotate(170 327.7 895.2)"/>
<ellipse cx="374.2" cy="870.8" rx="1.2" ry="1.8" fill="#4f2a63" opacity="0.55" transform="rotate(45 374.2 870.8)"/>
<ellipse cx="296.1" cy="878.2" rx="1.2" ry="1.8" fill="#4f2a63" opacity="0.55" transform="rotate(42 296.1 878.2)"/>
<ellipse cx="283.5" cy="889.6" rx="1.2" ry="1.8" fill="#4f2a63" opacity="0.55" transform="rotate(116 283.5 889.6)"/>
<ellipse cx="303.9" cy="897.8" rx="1.2" ry="1.8" fill="#4f2a63" opacity="0.55" transform="rotate(39 303.9 897.8)"/>
<ellipse cx="361.9" cy="868.5" rx="1.2" ry="1.8" fill="#4f2a63" opacity="0.55" transform="rotate(155 361.9 868.5)"/>
<ellipse cx="426.0" cy="872.4" rx="1.2" ry="1.8" fill="#4f2a63" opacity="0.55" transform="rotate(135 426.0 872.4)"/>
<ellipse cx="416.1" cy="872.9" rx="1.2" ry="1.8" fill="#4f2a63" opacity="0.55" transform="rotate(60 416.1 872.9)"/>
<ellipse cx="343.9" cy="894.2" rx="1.2" ry="1.8" fill="#4f2a63" opacity="0.55" transform="rotate(29 343.9 894.2)"/>
<ellipse cx="386.1" cy="883.9" rx="1.2" ry="1.8" fill="#4f2a63" opacity="0.55" transform="rotate(82 386.1 883.9)"/>
<ellipse cx="364.0" cy="893.9" rx="1.2" ry="1.8" fill="#4f2a63" opacity="0.55" transform="rotate(38 364.0 893.9)"/>
<ellipse cx="429.1" cy="875.6" rx="1.2" ry="1.8" fill="#4f2a63" opacity="0.55" transform="rotate(140 429.1 875.6)"/>
<ellipse cx="424.8" cy="869.4" rx="1.2" ry="1.8" fill="#4f2a63" opacity="0.55" transform="rotate(156 424.8 869.4)"/>
<ellipse cx="452.9" cy="873.4" rx="1.2" ry="1.8" fill="#4f2a63" opacity="0.55" transform="rotate(4 452.9 873.4)"/>
<ellipse cx="263.9" cy="897.1" rx="1.2" ry="1.8" fill="#4f2a63" opacity="0.55" transform="rotate(2 263.9 897.1)"/>
<ellipse cx="435.1" cy="868.3" rx="1.2" ry="1.8" fill="#4f2a63" opacity="0.55" transform="rotate(132 435.1 868.3)"/>
<ellipse cx="260.9" cy="868.9" rx="1.2" ry="1.8" fill="#4f2a63" opacity="0.55" transform="rotate(123 260.9 868.9)"/>
<ellipse cx="259.3" cy="874.9" rx="1.2" ry="1.8" fill="#4f2a63" opacity="0.55" transform="rotate(165 259.3 874.9)"/>
<ellipse cx="393.3" cy="893.9" rx="1.2" ry="1.8" fill="#4f2a63" opacity="0.55" transform="rotate(176 393.3 893.9)"/>
<ellipse cx="247.0" cy="871.2" rx="1.2" ry="1.8" fill="#4f2a63" opacity="0.55" transform="rotate(143 247.0 871.2)"/>
<ellipse cx="387.5" cy="864.3" rx="1.2" ry="1.8" fill="#4f2a63" opacity="0.55" transform="rotate(91 387.5 864.3)"/>
<ellipse cx="289.6" cy="878.1" rx="1.2" ry="1.8" fill="#4f2a63" opacity="0.55" transform="rotate(19 289.6 878.1)"/>
<ellipse cx="244.3" cy="897.7" rx="1.2" ry="1.8" fill="#4f2a63" opacity="0.55" transform="rotate(57 244.3 897.7)"/>
<ellipse cx="428.0" cy="867.2" rx="1.2" ry="1.8" fill="#4f2a63" opacity="0.55" transform="rotate(88 428.0 867.2)"/>
<ellipse cx="269.1" cy="878.0" rx="1.2" ry="1.8" fill="#4f2a63" opacity="0.55" transform="rotate(32 269.1 878.0)"/>
<ellipse cx="386.7" cy="868.2" rx="1.2" ry="1.8" fill="#4f2a63" opacity="0.55" transform="rotate(133 386.7 868.2)"/>
<ellipse cx="347.2" cy="866.9" rx="1.2" ry="1.8" fill="#4f2a63" opacity="0.55" transform="rotate(64 347.2 866.9)"/>
<ellipse cx="346.2" cy="895.2" rx="1.2" ry="1.8" fill="#4f2a63" opacity="0.55" transform="rotate(63 346.2 895.2)"/>
<ellipse cx="286.0" cy="896.9" rx="1.2" ry="1.8" fill="#4f2a63" opacity="0.55" transform="rotate(159 286.0 896.9)"/>
</g>
<line x1="389.0" x2="451.4" y1="898.6" y2="898.6" stroke="#000" stroke-width="1.8"/>
<text x="421.2" y="906.2" font-size="6.3" font-weight="bold" text-anchor="middle" fill="#111">100 µm</text>
</g>
<g clip-path="url(#c3)"><g filter="url(#hb)">
<rect x="468" y="747.6" width="217" height="162.5" fill="#b77aa8"/>
<line x1="478.0" y1="855.5" x2="478.0" y2="805.0" stroke="#e6c6da" stroke-width="24.8" stroke-linecap="round"/>
<line x1="478.0" y1="855.5" x2="478.0" y2="805.0" stroke="#633477" stroke-width="23.0" stroke-linecap="round"/>
<line x1="478.0" y1="855.5" x2="478.0" y2="805.0" stroke="#b9a2c2" stroke-width="15.0" stroke-linecap="round"/>
<line x1="478.0" y1="850.5" x2="478.0" y2="817.6" stroke="#d8cedc" stroke-width="7.0" stroke-linecap="round" opacity="0.75"/>
<line x1="478.0" y1="848.5" x2="478.0" y2="830.2" stroke="#eee8ef" stroke-width="1.6" stroke-linecap="round" opacity="0.8"/>
<ellipse cx="468.6" cy="853.4" rx="1.3" ry="1.8" fill="#4f2a63" opacity="0.75" transform="rotate(0 468.6 853.4)"/>
<ellipse cx="486.6" cy="853.3" rx="1.3" ry="1.8" fill="#4f2a63" opacity="0.75" transform="rotate(0 486.6 853.3)"/>
<ellipse cx="469.0" cy="851.1" rx="1.3" ry="1.8" fill="#4f2a63" opacity="0.75" transform="rotate(0 469.0 851.1)"/>
<ellipse cx="487.1" cy="851.0" rx="1.3" ry="1.8" fill="#4f2a63" opacity="0.75" transform="rotate(0 487.1 851.0)"/>
<ellipse cx="469.3" cy="847.3" rx="1.3" ry="1.8" fill="#4f2a63" opacity="0.75" transform="rotate(0 469.3 847.3)"/>
<ellipse cx="487.1" cy="847.1" rx="1.3" ry="1.8" fill="#4f2a63" opacity="0.75" transform="rotate(0 487.1 847.1)"/>
<ellipse cx="469.8" cy="842.0" rx="1.3" ry="1.8" fill="#4f2a63" opacity="0.75" transform="rotate(0 469.8 842.0)"/>
<ellipse cx="487.3" cy="841.3" rx="1.3" ry="1.8" fill="#4f2a63" opacity="0.75" transform="rotate(0 487.3 841.3)"/>
<ellipse cx="468.9" cy="838.8" rx="1.3" ry="1.8" fill="#4f2a63" opacity="0.75" transform="rotate(0 468.9 838.8)"/>
<ellipse cx="486.8" cy="837.8" rx="1.3" ry="1.8" fill="#4f2a63" opacity="0.75" transform="rotate(0 486.8 837.8)"/>
<ellipse cx="468.4" cy="834.4" rx="1.3" ry="1.8" fill="#4f2a63" opacity="0.75" transform="rotate(0 468.4 834.4)"/>
<ellipse cx="486.2" cy="833.8" rx="1.3" ry="1.8" fill="#4f2a63" opacity="0.75" transform="rotate(0 486.2 833.8)"/>
<ellipse cx="468.6" cy="828.5" rx="1.3" ry="1.8" fill="#4f2a63" opacity="0.75" transform="rotate(0 468.6 828.5)"/>
<ellipse cx="486.8" cy="827.9" rx="1.3" ry="1.8" fill="#4f2a63" opacity="0.75" transform="rotate(0 486.8 827.9)"/>
<ellipse cx="468.4" cy="826.2" rx="1.3" ry="1.8" fill="#4f2a63" opacity="0.75" transform="rotate(0 468.4 826.2)"/>
<ellipse cx="487.5" cy="826.3" rx="1.3" ry="1.8" fill="#4f2a63" opacity="0.75" transform="rotate(0 487.5 826.3)"/>
<ellipse cx="469.3" cy="821.4" rx="1.3" ry="1.8" fill="#4f2a63" opacity="0.75" transform="rotate(0 469.3 821.4)"/>
<ellipse cx="487.2" cy="821.8" rx="1.3" ry="1.8" fill="#4f2a63" opacity="0.75" transform="rotate(0 487.2 821.8)"/>
<ellipse cx="469.8" cy="816.2" rx="1.3" ry="1.8" fill="#4f2a63" opacity="0.75" transform="rotate(0 469.8 816.2)"/>
<ellipse cx="487.4" cy="817.5" rx="1.3" ry="1.8" fill="#4f2a63" opacity="0.75" transform="rotate(0 487.4 817.5)"/>
<ellipse cx="469.1" cy="813.1" rx="1.3" ry="1.8" fill="#4f2a63" opacity="0.75" transform="rotate(0 469.1 813.1)"/>
<ellipse cx="486.6" cy="812.6" rx="1.3" ry="1.8" fill="#4f2a63" opacity="0.75" transform="rotate(0 486.6 812.6)"/>
<ellipse cx="468.8" cy="808.0" rx="1.3" ry="1.8" fill="#4f2a63" opacity="0.75" transform="rotate(0 468.8 808.0)"/>
<ellipse cx="486.8" cy="807.7" rx="1.3" ry="1.8" fill="#4f2a63" opacity="0.75" transform="rotate(0 486.8 807.7)"/>
<circle cx="479.9" cy="825.7" r="1.8" fill="#d6cfdc" opacity="0.8"/>
<circle cx="479.4" cy="837.4" r="1.8" fill="#d6cfdc" opacity="0.8"/>
<circle cx="475.0" cy="828.5" r="1.8" fill="#d6cfdc" opacity="0.8"/>
<circle cx="475.4" cy="825.7" r="1.8" fill="#d6cfdc" opacity="0.8"/>
<circle cx="477.7" cy="813.7" r="1.8" fill="#d6cfdc" opacity="0.8"/>
<circle cx="478.2" cy="821.3" r="1.8" fill="#d6cfdc" opacity="0.8"/>
<circle cx="474.9" cy="831.2" r="1.8" fill="#d6cfdc" opacity="0.8"/>
<circle cx="482.7" cy="844.7" r="1.8" fill="#d6cfdc" opacity="0.8"/>
<line x1="506.6" y1="851.0" x2="505.0" y2="800.0" stroke="#e6c6da" stroke-width="30.8" stroke-linecap="round"/>
<line x1="506.6" y1="851.0" x2="505.0" y2="800.0" stroke="#633477" stroke-width="29.0" stroke-linecap="round"/>
<line x1="506.6" y1="851.0" x2="505.0" y2="800.0" stroke="#b9a2c2" stroke-width="21.0" stroke-linecap="round"/>
<line x1="506.4" y1="846.0" x2="505.4" y2="812.8" stroke="#d8cedc" stroke-width="13.0" stroke-linecap="round" opacity="0.75"/>
<line x1="506.4" y1="844.0" x2="505.8" y2="825.5" stroke="#eee8ef" stroke-width="1.6" stroke-linecap="round" opacity="0.8"/>
<ellipse cx="494.6" cy="850.3" rx="1.3" ry="1.8" fill="#4f2a63" opacity="0.75" transform="rotate(-2 494.6 850.3)"/>
<ellipse cx="519.0" cy="849.1" rx="1.3" ry="1.8" fill="#4f2a63" opacity="0.75" transform="rotate(-2 519.0 849.1)"/>
<ellipse cx="494.9" cy="846.7" rx="1.3" ry="1.8" fill="#4f2a63" opacity="0.75" transform="rotate(-2 494.9 846.7)"/>
<ellipse cx="518.6" cy="846.5" rx="1.3" ry="1.8" fill="#4f2a63" opacity="0.75" transform="rotate(-2 518.6 846.5)"/>
<ellipse cx="494.8" cy="840.2" rx="1.3" ry="1.8" fill="#4f2a63" opacity="0.75" transform="rotate(-2 494.8 840.2)"/>
<ellipse cx="518.1" cy="840.8" rx="1.3" ry="1.8" fill="#4f2a63" opacity="0.75" transform="rotate(-2 518.1 840.8)"/>
<ellipse cx="493.5" cy="836.3" rx="1.3" ry="1.8" fill="#4f2a63" opacity="0.75" transform="rotate(-2 493.5 836.3)"/>
<ellipse cx="517.7" cy="835.5" rx="1.3" ry="1.8" fill="#4f2a63" opacity="0.75" transform="rotate(-2 517.7 835.5)"/>
<ellipse cx="494.5" cy="833.6" rx="1.3" ry="1.8" fill="#4f2a63" opacity="0.75" transform="rotate(-2 494.5 833.6)"/>
<ellipse cx="517.9" cy="832.2" rx="1.3" ry="1.8" fill="#4f2a63" opacity="0.75" transform="rotate(-2 517.9 832.2)"/>
<ellipse cx="494.7" cy="829.6" rx="1.3" ry="1.8" fill="#4f2a63" opacity="0.75" transform="rotate(-2 494.7 829.6)"/>
<ellipse cx="517.8" cy="828.5" rx="1.3" ry="1.8" fill="#4f2a63" opacity="0.75" transform="rotate(-2 517.8 828.5)"/>
<ellipse cx="494.2" cy="823.6" rx="1.3" ry="1.8" fill="#4f2a63" opacity="0.75" transform="rotate(-2 494.2 823.6)"/>
<ellipse cx="518.0" cy="823.2" rx="1.3" ry="1.8" fill="#4f2a63" opacity="0.75" transform="rotate(-2 518.0 823.2)"/>
<ellipse cx="493.2" cy="820.3" rx="1.3" ry="1.8" fill="#4f2a63" opacity="0.75" transform="rotate(-2 493.2 820.3)"/>
<ellipse cx="517.4" cy="819.6" rx="1.3" ry="1.8" fill="#4f2a63" opacity="0.75" transform="rotate(-2 517.4 819.6)"/>
<ellipse cx="493.0" cy="817.4" rx="1.3" ry="1.8" fill="#4f2a63" opacity="0.75" transform="rotate(-2 493.0 817.4)"/>
<ellipse cx="516.8" cy="816.1" rx="1.3" ry="1.8" fill="#4f2a63" opacity="0.75" transform="rotate(-2 516.8 816.1)"/>
<ellipse cx="493.0" cy="811.3" rx="1.3" ry="1.8" fill="#4f2a63" opacity="0.75" transform="rotate(-2 493.0 811.3)"/>
<ellipse cx="516.9" cy="811.4" rx="1.3" ry="1.8" fill="#4f2a63" opacity="0.75" transform="rotate(-2 516.9 811.4)"/>
<ellipse cx="493.5" cy="809.3" rx="1.3" ry="1.8" fill="#4f2a63" opacity="0.75" transform="rotate(-2 493.5 809.3)"/>
<ellipse cx="516.8" cy="807.8" rx="1.3" ry="1.8" fill="#4f2a63" opacity="0.75" transform="rotate(-2 516.8 807.8)"/>
<ellipse cx="493.3" cy="802.7" rx="1.3" ry="1.8" fill="#4f2a63" opacity="0.75" transform="rotate(-2 493.3 802.7)"/>
<ellipse cx="516.3" cy="802.1" rx="1.3" ry="1.8" fill="#4f2a63" opacity="0.75" transform="rotate(-2 516.3 802.1)"/>
<circle cx="509.6" cy="830.8" r="1.8" fill="#d6cfdc" opacity="0.8"/>
<circle cx="504.5" cy="833.9" r="1.8" fill="#d6cfdc" opacity="0.8"/>
<circle cx="510.9" cy="819.3" r="1.8" fill="#d6cfdc" opacity="0.8"/>
<circle cx="504.0" cy="831.6" r="1.8" fill="#d6cfdc" opacity="0.8"/>
<circle cx="512.9" cy="822.1" r="1.8" fill="#d6cfdc" opacity="0.8"/>
<circle cx="514.2" cy="837.8" r="1.8" fill="#d6cfdc" opacity="0.8"/>
<circle cx="503.3" cy="816.9" r="1.8" fill="#d6cfdc" opacity="0.8"/>
<circle cx="502.7" cy="818.8" r="1.8" fill="#d6cfdc" opacity="0.8"/>
<line x1="541.5" y1="846.0" x2="540.0" y2="795.0" stroke="#e6c6da" stroke-width="30.8" stroke-linecap="round"/>
<line x1="541.5" y1="846.0" x2="540.0" y2="795.0" stroke="#633477" stroke-width="29.0" stroke-linecap="round"/>
<line x1="541.5" y1="846.0" x2="540.0" y2="795.0" stroke="#b9a2c2" stroke-width="21.0" stroke-linecap="round"/>
<line x1="541.3" y1="841.0" x2="540.4" y2="807.8" stroke="#d8cedc" stroke-width="13.0" stroke-linecap="round" opacity="0.75"/>
<line x1="541.3" y1="839.0" x2="540.7" y2="820.5" stroke="#eee8ef" stroke-width="1.6" stroke-linecap="round" opacity="0.8"/>
<ellipse cx="529.9" cy="846.0" rx="1.3" ry="1.8" fill="#4f2a63" opacity="0.75" transform="rotate(-2 529.9 846.0)"/>
<ellipse cx="553.5" cy="845.5" rx="1.3" ry="1.8" fill="#4f2a63" opacity="0.75" transform="rotate(-2 553.5 845.5)"/>
<ellipse cx="529.7" cy="839.4" rx="1.3" ry="1.8" fill="#4f2a63" opacity="0.75" transform="rotate(-2 529.7 839.4)"/>
<ellipse cx="553.5" cy="839.4" rx="1.3" ry="1.8" fill="#4f2a63" opacity="0.75" transform="rotate(-2 553.5 839.4)"/>
<ellipse cx="529.8" cy="836.7" rx="1.3" ry="1.8" fill="#4f2a63" opacity="0.75" transform="rotate(-2 529.8 836.7)"/>
<ellipse cx="553.2" cy="836.8" rx="1.3" ry="1.8" fill="#4f2a63" opacity="0.75" transform="rotate(-2 553.2 836.8)"/>
<ellipse cx="529.1" cy="832.7" rx="1.3" ry="1.8" fill="#4f2a63" opacity="0.75" transform="rotate(-2 529.1 832.7)"/>
<ellipse cx="553.6" cy="832.2" rx="1.3" ry="1.8" fill="#4f2a63" opacity="0.75" transform="rotate(-2 553.6 832.2)"/>
<ellipse cx="528.8" cy="827.0" rx="1.3" ry="1.8" fill="#4f2a63" opacity="0.75" transform="rotate(-2 528.8 827.0)"/>
<ellipse cx="553.2" cy="827.2" rx="1.3" ry="1.8" fill="#4f2a63" opacity="0.75" transform="rotate(-2 553.2 827.2)"/>
<ellipse cx="529.3" cy="822.9" rx="1.3" ry="1.8" fill="#4f2a63" opacity="0.75" transform="rotate(-2 529.3 822.9)"/>
<ellipse cx="552.4" cy="822.1" rx="1.3" ry="1.8" fill="#4f2a63" opacity="0.75" transform="rotate(-2 552.4 822.1)"/>
<ellipse cx="528.1" cy="818.5" rx="1.3" ry="1.8" fill="#4f2a63" opacity="0.75" transform="rotate(-2 528.1 818.5)"/>
<ellipse cx="553.1" cy="818.5" rx="1.3" ry="1.8" fill="#4f2a63" opacity="0.75" transform="rotate(-2 553.1 818.5)"/>
<ellipse cx="528.9" cy="816.8" rx="1.3" ry="1.8" fill="#4f2a63" opacity="0.75" transform="rotate(-2 528.9 816.8)"/>
<ellipse cx="552.6" cy="815.1" rx="1.3" ry="1.8" fill="#4f2a63" opacity="0.75" transform="rotate(-2 552.6 815.1)"/>
<ellipse cx="528.3" cy="811.0" rx="1.3" ry="1.8" fill="#4f2a63" opacity="0.75" transform="rotate(-2 528.3 811.0)"/>
<ellipse cx="553.2" cy="810.7" rx="1.3" ry="1.8" fill="#4f2a63" opacity="0.75" transform="rotate(-2 553.2 810.7)"/>
<ellipse cx="527.8" cy="806.0" rx="1.3" ry="1.8" fill="#4f2a63" opacity="0.75" transform="rotate(-2 527.8 806.0)"/>
<ellipse cx="552.3" cy="804.8" rx="1.3" ry="1.8" fill="#4f2a63" opacity="0.75" transform="rotate(-2 552.3 804.8)"/>
<ellipse cx="527.8" cy="801.4" rx="1.3" ry="1.8" fill="#4f2a63" opacity="0.75" transform="rotate(-2 527.8 801.4)"/>
<ellipse cx="551.9" cy="800.7" rx="1.3" ry="1.8" fill="#4f2a63" opacity="0.75" transform="rotate(-2 551.9 800.7)"/>
<ellipse cx="528.2" cy="797.8" rx="1.3" ry="1.8" fill="#4f2a63" opacity="0.75" transform="rotate(-2 528.2 797.8)"/>
<ellipse cx="551.9" cy="796.4" rx="1.3" ry="1.8" fill="#4f2a63" opacity="0.75" transform="rotate(-2 551.9 796.4)"/>
<circle cx="547.2" cy="828.3" r="1.8" fill="#d6cfdc" opacity="0.8"/>
<circle cx="546.4" cy="808.0" r="1.8" fill="#d6cfdc" opacity="0.8"/>
<circle cx="536.0" cy="830.6" r="1.8" fill="#d6cfdc" opacity="0.8"/>
<circle cx="541.9" cy="838.8" r="1.8" fill="#d6cfdc" opacity="0.8"/>
<circle cx="540.3" cy="825.7" r="1.8" fill="#d6cfdc" opacity="0.8"/>
<circle cx="542.2" cy="820.9" r="1.8" fill="#d6cfdc" opacity="0.8"/>
<circle cx="546.0" cy="825.8" r="1.8" fill="#d6cfdc" opacity="0.8"/>
<circle cx="548.2" cy="832.5" r="1.8" fill="#d6cfdc" opacity="0.8"/>
<line x1="566.0" y1="848.5" x2="566.0" y2="795.0" stroke="#e6c6da" stroke-width="25.8" stroke-linecap="round"/>
<line x1="566.0" y1="848.5" x2="566.0" y2="795.0" stroke="#633477" stroke-width="24.0" stroke-linecap="round"/>
<line x1="566.0" y1="848.5" x2="566.0" y2="795.0" stroke="#b9a2c2" stroke-width="16.0" stroke-linecap="round"/>
<line x1="566.0" y1="843.5" x2="566.0" y2="808.4" stroke="#d8cedc" stroke-width="8.0" stroke-linecap="round" opacity="0.75"/>
<line x1="566.0" y1="841.5" x2="566.0" y2="821.8" stroke="#eee8ef" stroke-width="1.6" stroke-linecap="round" opacity="0.8"/>
<ellipse cx="555.8" cy="847.1" rx="1.3" ry="1.8" fill="#4f2a63" opacity="0.75" transform="rotate(0 555.8 847.1)"/>
<ellipse cx="575.6" cy="847.2" rx="1.3" ry="1.8" fill="#4f2a63" opacity="0.75" transform="rotate(0 575.6 847.2)"/>
<ellipse cx="556.2" cy="842.9" rx="1.3" ry="1.8" fill="#4f2a63" opacity="0.75" transform="rotate(0 556.2 842.9)"/>
<ellipse cx="576.0" cy="842.9" rx="1.3" ry="1.8" fill="#4f2a63" opacity="0.75" transform="rotate(0 576.0 842.9)"/>
<ellipse cx="557.0" cy="839.0" rx="1.3" ry="1.8" fill="#4f2a63" opacity="0.75" transform="rotate(0 557.0 839.0)"/>
<ellipse cx="575.4" cy="839.5" rx="1.3" ry="1.8" fill="#4f2a63" opacity="0.75" transform="rotate(0 575.4 839.5)"/>
<ellipse cx="557.1" cy="834.5" rx="1.3" ry="1.8" fill="#4f2a63" opacity="0.75" transform="rotate(0 557.1 834.5)"/>
<ellipse cx="575.4" cy="835.5" rx="1.3" ry="1.8" fill="#4f2a63" opacity="0.75" transform="rotate(0 575.4 835.5)"/>
<ellipse cx="557.1" cy="831.3" rx="1.3" ry="1.8" fill="#4f2a63" opacity="0.75" transform="rotate(0 557.1 831.3)"/>
<ellipse cx="575.7" cy="831.4" rx="1.3" ry="1.8" fill="#4f2a63" opacity="0.75" transform="rotate(0 575.7 831.4)"/>
<ellipse cx="556.6" cy="826.5" rx="1.3" ry="1.8" fill="#4f2a63" opacity="0.75" transform="rotate(0 556.6 826.5)"/>
<ellipse cx="575.5" cy="826.3" rx="1.3" ry="1.8" fill="#4f2a63" opacity="0.75" transform="rotate(0 575.5 826.3)"/>
<ellipse cx="556.2" cy="822.0" rx="1.3" ry="1.8" fill="#4f2a63" opacity="0.75" transform="rotate(0 556.2 822.0)"/>
<ellipse cx="576.0" cy="821.9" rx="1.3" ry="1.8" fill="#4f2a63" opacity="0.75" transform="rotate(0 576.0 821.9)"/>
<ellipse cx="556.0" cy="817.2" rx="1.3" ry="1.8" fill="#4f2a63" opacity="0.75" transform="rotate(0 556.0 817.2)"/>
<ellipse cx="574.9" cy="818.3" rx="1.3" ry="1.8" fill="#4f2a63" opacity="0.75" transform="rotate(0 574.9 818.3)"/>
<ellipse cx="556.4" cy="813.9" rx="1.3" ry="1.8" fill="#4f2a63" opacity="0.75" transform="rotate(0 556.4 813.9)"/>
<ellipse cx="575.1" cy="814.3" rx="1.3" ry="1.8" fill="#4f2a63" opacity="0.75" transform="rotate(0 575.1 814.3)"/>
<ellipse cx="555.9" cy="809.3" rx="1.3" ry="1.8" fill="#4f2a63" opacity="0.75" transform="rotate(0 555.9 809.3)"/>
<ellipse cx="575.8" cy="809.3" rx="1.3" ry="1.8" fill="#4f2a63" opacity="0.75" transform="rotate(0 575.8 809.3)"/>
<ellipse cx="556.2" cy="805.2" rx="1.3" ry="1.8" fill="#4f2a63" opacity="0.75" transform="rotate(0 556.2 805.2)"/>
<ellipse cx="575.6" cy="805.3" rx="1.3" ry="1.8" fill="#4f2a63" opacity="0.75" transform="rotate(0 575.6 805.3)"/>
<ellipse cx="555.9" cy="802.7" rx="1.3" ry="1.8" fill="#4f2a63" opacity="0.75" transform="rotate(0 555.9 802.7)"/>
<ellipse cx="575.2" cy="802.6" rx="1.3" ry="1.8" fill="#4f2a63" opacity="0.75" transform="rotate(0 575.2 802.6)"/>
<ellipse cx="557.0" cy="799.6" rx="1.3" ry="1.8" fill="#4f2a63" opacity="0.75" transform="rotate(0 557.0 799.6)"/>
<ellipse cx="575.3" cy="798.1" rx="1.3" ry="1.8" fill="#4f2a63" opacity="0.75" transform="rotate(0 575.3 798.1)"/>
<circle cx="567.7" cy="826.9" r="1.8" fill="#d6cfdc" opacity="0.8"/>
<circle cx="566.5" cy="833.6" r="1.8" fill="#d6cfdc" opacity="0.8"/>
<circle cx="565.6" cy="839.1" r="1.8" fill="#d6cfdc" opacity="0.8"/>
<circle cx="565.2" cy="812.0" r="1.8" fill="#d6cfdc" opacity="0.8"/>
<circle cx="561.4" cy="814.1" r="1.8" fill="#d6cfdc" opacity="0.8"/>
<circle cx="561.5" cy="807.7" r="1.8" fill="#d6cfdc" opacity="0.8"/>
<circle cx="572.0" cy="803.6" r="1.8" fill="#d6cfdc" opacity="0.8"/>
<circle cx="566.3" cy="802.9" r="1.8" fill="#d6cfdc" opacity="0.8"/>
<line x1="599.6" y1="838.0" x2="598.0" y2="793.0" stroke="#e6c6da" stroke-width="30.8" stroke-linecap="round"/>
<line x1="599.6" y1="838.0" x2="598.0" y2="793.0" stroke="#633477" stroke-width="29.0" stroke-linecap="round"/>
<line x1="599.6" y1="838.0" x2="598.0" y2="793.0" stroke="#b9a2c2" stroke-width="21.0" stroke-linecap="round"/>
<line x1="599.4" y1="833.0" x2="598.4" y2="804.3" stroke="#d8cedc" stroke-width="13.0" stroke-linecap="round" opacity="0.75"/>
<line x1="599.4" y1="831.0" x2="598.8" y2="815.5" stroke="#eee8ef" stroke-width="1.6" stroke-linecap="round" opacity="0.8"/>
<ellipse cx="587.3" cy="838.2" rx="1.3" ry="1.8" fill="#4f2a63" opacity="0.75" transform="rotate(-2 587.3 838.2)"/>
<ellipse cx="611.6" cy="837.7" rx="1.3" ry="1.8" fill="#4f2a63" opacity="0.75" transform="rotate(-2 611.6 837.7)"/>
<ellipse cx="587.4" cy="834.7" rx="1.3" ry="1.8" fill="#4f2a63" opacity="0.75" transform="rotate(-2 587.4 834.7)"/>
<ellipse cx="611.6" cy="833.4" rx="1.3" ry="1.8" fill="#4f2a63" opacity="0.75" transform="rotate(-2 611.6 833.4)"/>
<ellipse cx="586.7" cy="829.7" rx="1.3" ry="1.8" fill="#4f2a63" opacity="0.75" transform="rotate(-2 586.7 829.7)"/>
<ellipse cx="611.9" cy="829.8" rx="1.3" ry="1.8" fill="#4f2a63" opacity="0.75" transform="rotate(-2 611.9 829.8)"/>
<ellipse cx="587.8" cy="824.9" rx="1.3" ry="1.8" fill="#4f2a63" opacity="0.75" transform="rotate(-2 587.8 824.9)"/>
<ellipse cx="611.3" cy="825.6" rx="1.3" ry="1.8" fill="#4f2a63" opacity="0.75" transform="rotate(-2 611.3 825.6)"/>
<ellipse cx="587.7" cy="821.6" rx="1.3" ry="1.8" fill="#4f2a63" opacity="0.75" transform="rotate(-2 587.7 821.6)"/>
<ellipse cx="610.3" cy="820.2" rx="1.3" ry="1.8" fill="#4f2a63" opacity="0.75" transform="rotate(-2 610.3 820.2)"/>
<ellipse cx="586.4" cy="817.4" rx="1.3" ry="1.8" fill="#4f2a63" opacity="0.75" transform="rotate(-2 586.4 817.4)"/>
<ellipse cx="610.3" cy="816.7" rx="1.3" ry="1.8" fill="#4f2a63" opacity="0.75" transform="rotate(-2 610.3 816.7)"/>
<ellipse cx="586.0" cy="813.4" rx="1.3" ry="1.8" fill="#4f2a63" opacity="0.75" transform="rotate(-2 586.0 813.4)"/>
<ellipse cx="610.1" cy="812.5" rx="1.3" ry="1.8" fill="#4f2a63" opacity="0.75" transform="rotate(-2 610.1 812.5)"/>
<ellipse cx="586.7" cy="808.1" rx="1.3" ry="1.8" fill="#4f2a63" opacity="0.75" transform="rotate(-2 586.7 808.1)"/>
<ellipse cx="609.8" cy="807.3" rx="1.3" ry="1.8" fill="#4f2a63" opacity="0.75" transform="rotate(-2 609.8 807.3)"/>
<ellipse cx="586.7" cy="804.9" rx="1.3" ry="1.8" fill="#4f2a63" opacity="0.75" transform="rotate(-2 586.7 804.9)"/>
<ellipse cx="610.5" cy="804.4" rx="1.3" ry="1.8" fill="#4f2a63" opacity="0.75" transform="rotate(-2 610.5 804.4)"/>
<ellipse cx="586.5" cy="800.3" rx="1.3" ry="1.8" fill="#4f2a63" opacity="0.75" transform="rotate(-2 586.5 800.3)"/>
<ellipse cx="609.7" cy="800.7" rx="1.3" ry="1.8" fill="#4f2a63" opacity="0.75" transform="rotate(-2 609.7 800.7)"/>
<ellipse cx="586.7" cy="797.4" rx="1.3" ry="1.8" fill="#4f2a63" opacity="0.75" transform="rotate(-2 586.7 797.4)"/>
<ellipse cx="610.1" cy="795.4" rx="1.3" ry="1.8" fill="#4f2a63" opacity="0.75" transform="rotate(-2 610.1 795.4)"/>
<circle cx="605.8" cy="829.9" r="1.8" fill="#d6cfdc" opacity="0.8"/>
<circle cx="599.2" cy="829.3" r="1.8" fill="#d6cfdc" opacity="0.8"/>
<circle cx="592.3" cy="814.4" r="1.8" fill="#d6cfdc" opacity="0.8"/>
<circle cx="593.1" cy="816.9" r="1.8" fill="#d6cfdc" opacity="0.8"/>
<circle cx="598.9" cy="814.2" r="1.8" fill="#d6cfdc" opacity="0.8"/>
<circle cx="593.8" cy="820.5" r="1.8" fill="#d6cfdc" opacity="0.8"/>
<circle cx="593.9" cy="819.2" r="1.8" fill="#d6cfdc" opacity="0.8"/>
<line x1="626.8" y1="834.0" x2="626.0" y2="792.0" stroke="#e6c6da" stroke-width="24.8" stroke-linecap="round"/>
<line x1="626.8" y1="834.0" x2="626.0" y2="792.0" stroke="#633477" stroke-width="23.0" stroke-linecap="round"/>
<line x1="626.8" y1="834.0" x2="626.0" y2="792.0" stroke="#b9a2c2" stroke-width="15.0" stroke-linecap="round"/>
<line x1="626.7" y1="829.0" x2="626.2" y2="802.5" stroke="#d8cedc" stroke-width="7.0" stroke-linecap="round" opacity="0.75"/>
<line x1="626.7" y1="827.0" x2="626.4" y2="813.0" stroke="#eee8ef" stroke-width="1.6" stroke-linecap="round" opacity="0.8"/>
<ellipse cx="617.4" cy="834.5" rx="1.3" ry="1.8" fill="#4f2a63" opacity="0.75" transform="rotate(-1 617.4 834.5)"/>
<ellipse cx="635.8" cy="834.2" rx="1.3" ry="1.8" fill="#4f2a63" opacity="0.75" transform="rotate(-1 635.8 834.2)"/>
<ellipse cx="618.4" cy="829.9" rx="1.3" ry="1.8" fill="#4f2a63" opacity="0.75" transform="rotate(-1 618.4 829.9)"/>
<ellipse cx="636.2" cy="829.7" rx="1.3" ry="1.8" fill="#4f2a63" opacity="0.75" transform="rotate(-1 636.2 829.7)"/>
<ellipse cx="617.2" cy="824.7" rx="1.3" ry="1.8" fill="#4f2a63" opacity="0.75" transform="rotate(-1 617.2 824.7)"/>
<ellipse cx="635.1" cy="823.6" rx="1.3" ry="1.8" fill="#4f2a63" opacity="0.75" transform="rotate(-1 635.1 823.6)"/>
<ellipse cx="617.4" cy="821.5" rx="1.3" ry="1.8" fill="#4f2a63" opacity="0.75" transform="rotate(-1 617.4 821.5)"/>
<ellipse cx="635.2" cy="821.8" rx="1.3" ry="1.8" fill="#4f2a63" opacity="0.75" transform="rotate(-1 635.2 821.8)"/>
<ellipse cx="617.6" cy="816.8" rx="1.3" ry="1.8" fill="#4f2a63" opacity="0.75" transform="rotate(-1 617.6 816.8)"/>
<ellipse cx="635.6" cy="817.3" rx="1.3" ry="1.8" fill="#4f2a63" opacity="0.75" transform="rotate(-1 635.6 817.3)"/>
<ellipse cx="616.7" cy="811.3" rx="1.3" ry="1.8" fill="#4f2a63" opacity="0.75" transform="rotate(-1 616.7 811.3)"/>
<ellipse cx="635.5" cy="812.1" rx="1.3" ry="1.8" fill="#4f2a63" opacity="0.75" transform="rotate(-1 635.5 812.1)"/>
<ellipse cx="617.5" cy="809.2" rx="1.3" ry="1.8" fill="#4f2a63" opacity="0.75" transform="rotate(-1 617.5 809.2)"/>
<ellipse cx="635.8" cy="808.3" rx="1.3" ry="1.8" fill="#4f2a63" opacity="0.75" transform="rotate(-1 635.8 808.3)"/>
<ellipse cx="617.1" cy="803.7" rx="1.3" ry="1.8" fill="#4f2a63" opacity="0.75" transform="rotate(-1 617.1 803.7)"/>
<ellipse cx="634.4" cy="803.4" rx="1.3" ry="1.8" fill="#4f2a63" opacity="0.75" transform="rotate(-1 634.4 803.4)"/>
<ellipse cx="617.0" cy="799.0" rx="1.3" ry="1.8" fill="#4f2a63" opacity="0.75" transform="rotate(-1 617.0 799.0)"/>
<ellipse cx="634.7" cy="799.7" rx="1.3" ry="1.8" fill="#4f2a63" opacity="0.75" transform="rotate(-1 634.7 799.7)"/>
<ellipse cx="616.5" cy="794.7" rx="1.3" ry="1.8" fill="#4f2a63" opacity="0.75" transform="rotate(-1 616.5 794.7)"/>
<ellipse cx="634.5" cy="794.1" rx="1.3" ry="1.8" fill="#4f2a63" opacity="0.75" transform="rotate(-1 634.5 794.1)"/>
<circle cx="624.7" cy="822.5" r="1.8" fill="#d6cfdc" opacity="0.8"/>
<circle cx="631.6" cy="796.9" r="1.8" fill="#d6cfdc" opacity="0.8"/>
<circle cx="626.0" cy="803.2" r="1.8" fill="#d6cfdc" opacity="0.8"/>
<circle cx="629.5" cy="813.0" r="1.8" fill="#d6cfdc" opacity="0.8"/>
<circle cx="628.9" cy="799.2" r="1.8" fill="#d6cfdc" opacity="0.8"/>
<circle cx="623.0" cy="808.5" r="1.8" fill="#d6cfdc" opacity="0.8"/>
<circle cx="630.1" cy="808.7" r="1.8" fill="#d6cfdc" opacity="0.8"/>
<line x1="657.4" y1="825.5" x2="659.0" y2="798.0" stroke="#e6c6da" stroke-width="28.8" stroke-linecap="round"/>
<line x1="657.4" y1="825.5" x2="659.0" y2="798.0" stroke="#633477" stroke-width="27.0" stroke-linecap="round"/>
<line x1="657.4" y1="825.5" x2="659.0" y2="798.0" stroke="#b9a2c2" stroke-width="19.0" stroke-linecap="round"/>
<line x1="657.7" y1="820.5" x2="658.6" y2="804.9" stroke="#d8cedc" stroke-width="11.0" stroke-linecap="round" opacity="0.75"/>
<line x1="657.8" y1="818.5" x2="658.2" y2="811.8" stroke="#eee8ef" stroke-width="1.6" stroke-linecap="round" opacity="0.8"/>
<ellipse cx="645.9" cy="823.4" rx="1.3" ry="1.8" fill="#4f2a63" opacity="0.75" transform="rotate(3 645.9 823.4)"/>
<ellipse cx="668.3" cy="823.8" rx="1.3" ry="1.8" fill="#4f2a63" opacity="0.75" transform="rotate(3 668.3 823.8)"/>
<ellipse cx="647.1" cy="818.5" rx="1.3" ry="1.8" fill="#4f2a63" opacity="0.75" transform="rotate(3 647.1 818.5)"/>
<ellipse cx="668.2" cy="819.9" rx="1.3" ry="1.8" fill="#4f2a63" opacity="0.75" transform="rotate(3 668.2 819.9)"/>
<ellipse cx="647.7" cy="814.0" rx="1.3" ry="1.8" fill="#4f2a63" opacity="0.75" transform="rotate(3 647.7 814.0)"/>
<ellipse cx="669.6" cy="815.3" rx="1.3" ry="1.8" fill="#4f2a63" opacity="0.75" transform="rotate(3 669.6 815.3)"/>
<ellipse cx="647.2" cy="810.3" rx="1.3" ry="1.8" fill="#4f2a63" opacity="0.75" transform="rotate(3 647.2 810.3)"/>
<ellipse cx="669.7" cy="811.6" rx="1.3" ry="1.8" fill="#4f2a63" opacity="0.75" transform="rotate(3 669.7 811.6)"/>
<ellipse cx="648.3" cy="805.9" rx="1.3" ry="1.8" fill="#4f2a63" opacity="0.75" transform="rotate(3 648.3 805.9)"/>
<ellipse cx="670.2" cy="806.5" rx="1.3" ry="1.8" fill="#4f2a63" opacity="0.75" transform="rotate(3 670.2 806.5)"/>
<ellipse cx="648.3" cy="799.3" rx="1.3" ry="1.8" fill="#4f2a63" opacity="0.75" transform="rotate(3 648.3 799.3)"/>
<ellipse cx="670.4" cy="800.6" rx="1.3" ry="1.8" fill="#4f2a63" opacity="0.75" transform="rotate(3 670.4 800.6)"/>
<circle cx="657.2" cy="818.4" r="1.8" fill="#d6cfdc" opacity="0.8"/>
<circle cx="657.8" cy="817.6" r="1.8" fill="#d6cfdc" opacity="0.8"/>
<circle cx="661.5" cy="802.9" r="1.8" fill="#d6cfdc" opacity="0.8"/>
<circle cx="656.9" cy="807.0" r="1.8" fill="#d6cfdc" opacity="0.8"/>
<line x1="680.5" y1="825.5" x2="682.0" y2="798.0" stroke="#e6c6da" stroke-width="21.8" stroke-linecap="round"/>
<line x1="680.5" y1="825.5" x2="682.0" y2="798.0" stroke="#633477" stroke-width="20.0" stroke-linecap="round"/>
<line x1="680.5" y1="825.5" x2="682.0" y2="798.0" stroke="#b9a2c2" stroke-width="12.0" stroke-linecap="round"/>
<line x1="680.8" y1="820.5" x2="681.6" y2="804.9" stroke="#d8cedc" stroke-width="4.0" stroke-linecap="round" opacity="0.75"/>
<line x1="680.9" y1="818.5" x2="681.3" y2="811.8" stroke="#eee8ef" stroke-width="1.6" stroke-linecap="round" opacity="0.8"/>
<ellipse cx="673.6" cy="823.6" rx="1.3" ry="1.8" fill="#4f2a63" opacity="0.75" transform="rotate(3 673.6 823.6)"/>
<ellipse cx="688.8" cy="824.6" rx="1.3" ry="1.8" fill="#4f2a63" opacity="0.75" transform="rotate(3 688.8 824.6)"/>
<ellipse cx="672.7" cy="819.8" rx="1.3" ry="1.8" fill="#4f2a63" opacity="0.75" transform="rotate(3 672.7 819.8)"/>
<ellipse cx="688.8" cy="820.1" rx="1.3" ry="1.8" fill="#4f2a63" opacity="0.75" transform="rotate(3 688.8 820.1)"/>
<ellipse cx="674.1" cy="815.0" rx="1.3" ry="1.8" fill="#4f2a63" opacity="0.75" transform="rotate(3 674.1 815.0)"/>
<ellipse cx="687.8" cy="815.4" rx="1.3" ry="1.8" fill="#4f2a63" opacity="0.75" transform="rotate(3 687.8 815.4)"/>
<ellipse cx="673.1" cy="811.8" rx="1.3" ry="1.8" fill="#4f2a63" opacity="0.75" transform="rotate(3 673.1 811.8)"/>
<ellipse cx="688.6" cy="812.3" rx="1.3" ry="1.8" fill="#4f2a63" opacity="0.75" transform="rotate(3 688.6 812.3)"/>
<ellipse cx="673.8" cy="805.3" rx="1.3" ry="1.8" fill="#4f2a63" opacity="0.75" transform="rotate(3 673.8 805.3)"/>
<ellipse cx="688.8" cy="807.1" rx="1.3" ry="1.8" fill="#4f2a63" opacity="0.75" transform="rotate(3 688.8 807.1)"/>
<ellipse cx="674.0" cy="800.1" rx="1.3" ry="1.8" fill="#4f2a63" opacity="0.75" transform="rotate(3 674.0 800.1)"/>
<ellipse cx="689.0" cy="801.9" rx="1.3" ry="1.8" fill="#4f2a63" opacity="0.75" transform="rotate(3 689.0 801.9)"/>
<circle cx="682.5" cy="813.1" r="1.8" fill="#d6cfdc" opacity="0.8"/>
<circle cx="678.6" cy="804.8" r="1.8" fill="#d6cfdc" opacity="0.8"/>
<circle cx="677.8" cy="807.5" r="1.8" fill="#d6cfdc" opacity="0.8"/>
<circle cx="679.1" cy="804.5" r="1.8" fill="#d6cfdc" opacity="0.8"/>
<path d="M468,801 L490.3,799.3 L507,797.6 L523.6,792.6 L540.2,789.3 L556.9,787.6 L590.2,786 L606.8,784.3 L623.4,787 L643.4,788.3 L663.4,789.3 L685,790.3" stroke="#e07da7" stroke-width="13" fill="none" stroke-linejoin="round"/>
<ellipse cx="528.8" cy="793.9" rx="1.1" ry="2.6" fill="#4f2a63" opacity="0.8"/>
<ellipse cx="519.2" cy="798.0" rx="1.1" ry="2.6" fill="#4f2a63" opacity="0.8"/>
<ellipse cx="658.3" cy="791.5" rx="1.1" ry="2.6" fill="#4f2a63" opacity="0.8"/>
<ellipse cx="674.0" cy="795.7" rx="1.1" ry="2.6" fill="#4f2a63" opacity="0.8"/>
<ellipse cx="512.2" cy="796.6" rx="1.1" ry="2.6" fill="#4f2a63" opacity="0.8"/>
<ellipse cx="591.9" cy="786.0" rx="1.1" ry="2.6" fill="#4f2a63" opacity="0.8"/>
<ellipse cx="671.2" cy="794.3" rx="1.1" ry="2.6" fill="#4f2a63" opacity="0.8"/>
<ellipse cx="523.5" cy="793.1" rx="1.1" ry="2.6" fill="#4f2a63" opacity="0.8"/>
<ellipse cx="596.2" cy="788.1" rx="1.1" ry="2.6" fill="#4f2a63" opacity="0.8"/>
<ellipse cx="554.1" cy="793.7" rx="1.1" ry="2.6" fill="#4f2a63" opacity="0.8"/>
<ellipse cx="605.9" cy="787.7" rx="1.1" ry="2.6" fill="#4f2a63" opacity="0.8"/>
<ellipse cx="574.3" cy="788.6" rx="1.1" ry="2.6" fill="#4f2a63" opacity="0.8"/>
<ellipse cx="606.5" cy="786.0" rx="1.1" ry="2.6" fill="#4f2a63" opacity="0.8"/>
<ellipse cx="592.8" cy="791.1" rx="1.1" ry="2.6" fill="#4f2a63" opacity="0.8"/>
<ellipse cx="589.4" cy="791.9" rx="1.1" ry="2.6" fill="#4f2a63" opacity="0.8"/>
<ellipse cx="482.0" cy="803.6" rx="1.1" ry="2.6" fill="#4f2a63" opacity="0.8"/>
<ellipse cx="595.8" cy="789.7" rx="1.1" ry="2.6" fill="#4f2a63" opacity="0.8"/>
<ellipse cx="658.3" cy="793.2" rx="1.1" ry="2.6" fill="#4f2a63" opacity="0.8"/>
<ellipse cx="475.9" cy="800.2" rx="1.1" ry="2.6" fill="#4f2a63" opacity="0.8"/>
<ellipse cx="674.0" cy="789.7" rx="1.1" ry="2.6" fill="#4f2a63" opacity="0.8"/>
<ellipse cx="599.1" cy="784.4" rx="1.1" ry="2.6" fill="#4f2a63" opacity="0.8"/>
<ellipse cx="558.4" cy="791.6" rx="1.1" ry="2.6" fill="#4f2a63" opacity="0.8"/>
<ellipse cx="530.3" cy="793.0" rx="1.1" ry="2.6" fill="#4f2a63" opacity="0.8"/>
<ellipse cx="594.5" cy="791.4" rx="1.1" ry="2.6" fill="#4f2a63" opacity="0.8"/>
<ellipse cx="605.6" cy="788.2" rx="1.1" ry="2.6" fill="#4f2a63" opacity="0.8"/>
<ellipse cx="555.3" cy="792.3" rx="1.1" ry="2.6" fill="#4f2a63" opacity="0.8"/>
<ellipse cx="611.7" cy="785.0" rx="1.1" ry="2.6" fill="#4f2a63" opacity="0.8"/>
<ellipse cx="598.3" cy="789.8" rx="1.1" ry="2.6" fill="#4f2a63" opacity="0.8"/>
<ellipse cx="543.7" cy="791.6" rx="1.1" ry="2.6" fill="#4f2a63" opacity="0.8"/>
<ellipse cx="653.7" cy="793.0" rx="1.1" ry="2.6" fill="#4f2a63" opacity="0.8"/>
<ellipse cx="507.4" cy="796.8" rx="1.1" ry="2.6" fill="#4f2a63" opacity="0.8"/>
<ellipse cx="532.9" cy="796.8" rx="1.1" ry="2.6" fill="#4f2a63" opacity="0.8"/>
<ellipse cx="674.9" cy="791.0" rx="1.1" ry="2.6" fill="#4f2a63" opacity="0.8"/>
<ellipse cx="670.3" cy="790.9" rx="1.1" ry="2.6" fill="#4f2a63" opacity="0.8"/>
<ellipse cx="570.9" cy="788.0" rx="1.1" ry="2.6" fill="#4f2a63" opacity="0.8"/>
<ellipse cx="558.2" cy="793.8" rx="1.1" ry="2.6" fill="#4f2a63" opacity="0.8"/>
<ellipse cx="526.4" cy="798.0" rx="1.1" ry="2.6" fill="#4f2a63" opacity="0.8"/>
<ellipse cx="575.9" cy="790.4" rx="1.1" ry="2.6" fill="#4f2a63" opacity="0.8"/>
<ellipse cx="631.0" cy="787.1" rx="1.1" ry="2.6" fill="#4f2a63" opacity="0.8"/>
<ellipse cx="626.6" cy="789.4" rx="1.1" ry="2.6" fill="#4f2a63" opacity="0.8"/>
<ellipse cx="608.2" cy="785.3" rx="1.1" ry="2.6" fill="#4f2a63" opacity="0.8"/>
<ellipse cx="549.9" cy="791.4" rx="1.1" ry="2.6" fill="#4f2a63" opacity="0.8"/>
<ellipse cx="531.5" cy="792.4" rx="1.1" ry="2.6" fill="#4f2a63" opacity="0.8"/>
<ellipse cx="628.9" cy="791.6" rx="1.1" ry="2.6" fill="#4f2a63" opacity="0.8"/>
<ellipse cx="596.5" cy="790.9" rx="1.1" ry="2.6" fill="#4f2a63" opacity="0.8"/>
<ellipse cx="526.2" cy="792.2" rx="1.1" ry="2.6" fill="#4f2a63" opacity="0.8"/>
<ellipse cx="595.5" cy="789.3" rx="1.1" ry="2.6" fill="#4f2a63" opacity="0.8"/>
<ellipse cx="564.6" cy="787.5" rx="1.1" ry="2.6" fill="#4f2a63" opacity="0.8"/>
<ellipse cx="535.2" cy="796.4" rx="1.1" ry="2.6" fill="#4f2a63" opacity="0.8"/>
<ellipse cx="603.9" cy="789.1" rx="1.1" ry="2.6" fill="#4f2a63" opacity="0.8"/>
<ellipse cx="559.4" cy="792.3" rx="1.1" ry="2.6" fill="#4f2a63" opacity="0.8"/>
<ellipse cx="542.5" cy="793.8" rx="1.1" ry="2.6" fill="#4f2a63" opacity="0.8"/>
<ellipse cx="544.5" cy="794.1" rx="1.1" ry="2.6" fill="#4f2a63" opacity="0.8"/>
<ellipse cx="593.4" cy="789.4" rx="1.1" ry="2.6" fill="#4f2a63" opacity="0.8"/>
<ellipse cx="659.7" cy="790.5" rx="1.1" ry="2.6" fill="#4f2a63" opacity="0.8"/>
<ellipse cx="483.3" cy="802.2" rx="1.1" ry="2.6" fill="#4f2a63" opacity="0.8"/>
<ellipse cx="648.4" cy="791.6" rx="1.1" ry="2.6" fill="#4f2a63" opacity="0.8"/>
<ellipse cx="561.5" cy="788.8" rx="1.1" ry="2.6" fill="#4f2a63" opacity="0.8"/>
<ellipse cx="646.8" cy="793.3" rx="1.1" ry="2.6" fill="#4f2a63" opacity="0.8"/>
<ellipse cx="503.7" cy="802.2" rx="1.1" ry="2.6" fill="#4f2a63" opacity="0.8"/>
<ellipse cx="591.1" cy="791.3" rx="1.1" ry="2.6" fill="#4f2a63" opacity="0.8"/>
<ellipse cx="624.2" cy="789.7" rx="1.1" ry="2.6" fill="#4f2a63" opacity="0.8"/>
<ellipse cx="654.0" cy="792.8" rx="1.1" ry="2.6" fill="#4f2a63" opacity="0.8"/>
<ellipse cx="615.2" cy="786.1" rx="1.1" ry="2.6" fill="#4f2a63" opacity="0.8"/>
<ellipse cx="484.0" cy="804.4" rx="1.1" ry="2.6" fill="#4f2a63" opacity="0.8"/>
<ellipse cx="527.6" cy="792.9" rx="1.1" ry="2.6" fill="#4f2a63" opacity="0.8"/>
<ellipse cx="490.3" cy="804.9" rx="1.1" ry="2.6" fill="#4f2a63" opacity="0.8"/>
<ellipse cx="636.3" cy="791.4" rx="1.1" ry="2.6" fill="#4f2a63" opacity="0.8"/>
<ellipse cx="485.6" cy="800.8" rx="1.1" ry="2.6" fill="#4f2a63" opacity="0.8"/>
<ellipse cx="469.1" cy="800.9" rx="1.1" ry="2.6" fill="#4f2a63" opacity="0.8"/>
<ellipse cx="527.7" cy="794.3" rx="1.1" ry="2.6" fill="#4f2a63" opacity="0.8"/>
<ellipse cx="596.3" cy="784.7" rx="1.1" ry="2.6" fill="#4f2a63" opacity="0.8"/>
<ellipse cx="641.3" cy="788.7" rx="1.1" ry="2.6" fill="#4f2a63" opacity="0.8"/>
<ellipse cx="602.8" cy="786.0" rx="1.1" ry="2.6" fill="#4f2a63" opacity="0.8"/>
<ellipse cx="596.5" cy="789.9" rx="1.1" ry="2.6" fill="#4f2a63" opacity="0.8"/>
<path d="M468.0,747.6L685.0,747.6L685.0,751.5L560.0,751.8L508.0,752.5L503.0,760.0L492.0,766.0L478.0,767.0L468.0,766.6Z" fill="#e07da7" opacity="1.0"/>
<path d="M470.0,749.0L500.0,749.0L498.0,757.0L488.0,762.0L472.0,762.0Z" fill="#c27fb0" opacity="1.0"/>
<ellipse cx="477.3" cy="762.4" rx="1.0" ry="2.2" fill="#4f2a63" opacity="0.8" transform="rotate(146 477.3 762.4)"/>
<ellipse cx="488.8" cy="749.5" rx="1.0" ry="2.2" fill="#4f2a63" opacity="0.8" transform="rotate(140 488.8 749.5)"/>
<ellipse cx="471.0" cy="757.1" rx="1.0" ry="2.2" fill="#4f2a63" opacity="0.8" transform="rotate(76 471.0 757.1)"/>
<ellipse cx="472.2" cy="759.1" rx="1.0" ry="2.2" fill="#4f2a63" opacity="0.8" transform="rotate(130 472.2 759.1)"/>
<ellipse cx="490.5" cy="755.4" rx="1.0" ry="2.2" fill="#4f2a63" opacity="0.8" transform="rotate(92 490.5 755.4)"/>
<ellipse cx="490.6" cy="752.6" rx="1.0" ry="2.2" fill="#4f2a63" opacity="0.8" transform="rotate(156 490.6 752.6)"/>
<ellipse cx="504.8" cy="761.9" rx="1.0" ry="2.2" fill="#4f2a63" opacity="0.8" transform="rotate(173 504.8 761.9)"/>
<ellipse cx="481.5" cy="764.8" rx="1.0" ry="2.2" fill="#4f2a63" opacity="0.8" transform="rotate(13 481.5 764.8)"/>
<ellipse cx="486.7" cy="751.1" rx="1.0" ry="2.2" fill="#4f2a63" opacity="0.8" transform="rotate(82 486.7 751.1)"/>
<ellipse cx="493.9" cy="760.3" rx="1.0" ry="2.2" fill="#4f2a63" opacity="0.8" transform="rotate(82 493.9 760.3)"/>
<ellipse cx="482.0" cy="752.0" rx="1.0" ry="2.2" fill="#4f2a63" opacity="0.8" transform="rotate(73 482.0 752.0)"/>
<ellipse cx="479.9" cy="752.1" rx="1.0" ry="2.2" fill="#4f2a63" opacity="0.8" transform="rotate(132 479.9 752.1)"/>
<ellipse cx="488.1" cy="756.0" rx="1.0" ry="2.2" fill="#4f2a63" opacity="0.8" transform="rotate(36 488.1 756.0)"/>
<ellipse cx="494.6" cy="752.1" rx="1.0" ry="2.2" fill="#4f2a63" opacity="0.8" transform="rotate(48 494.6 752.1)"/>
<ellipse cx="489.6" cy="760.2" rx="1.0" ry="2.2" fill="#4f2a63" opacity="0.8" transform="rotate(175 489.6 760.2)"/>
<ellipse cx="496.2" cy="764.2" rx="1.0" ry="2.2" fill="#4f2a63" opacity="0.8" transform="rotate(166 496.2 764.2)"/>
<ellipse cx="495.3" cy="760.5" rx="1.0" ry="2.2" fill="#4f2a63" opacity="0.8" transform="rotate(11 495.3 760.5)"/>
<ellipse cx="477.2" cy="749.2" rx="1.0" ry="2.2" fill="#4f2a63" opacity="0.8" transform="rotate(155 477.2 749.2)"/>
<path d="M468.0,766.6L478.0,767.0L492.0,766.0L503.0,760.0L508.0,752.5L560.0,751.8L685.0,751.5L685.0,784.3L663.4,783.3L643.4,782.3L623.4,781.0L606.8,778.3L590.2,780.0L556.9,781.6L540.2,783.3L523.6,786.6L507.0,791.6L490.3,793.3L468.0,795.0Z" fill="#f3f0f2" opacity="1.0"/>
<path d="M588,760 l4,-2 M600,758 l5,1 M640,763 l4,2 M660,762 l3,-1" stroke="#b9a0bf" stroke-width="1.5"/>
<path d="M468.0,868.5L523.6,864.8L590.2,858.2L640.0,852.0L685.0,845.0L685.0,886.2L625.6,897.4L561.3,905.5L468.0,908.7Z" fill="#e07da7" opacity="1.0"/>
<path d="M468,870 L505,869.5 M545,869 L610,862 L650,856" stroke="#f5eef2" stroke-width="1.6" fill="none"/>
<path d="M500,879 L560,877 L600,874" stroke="#f3dde8" stroke-width="1.2" fill="none" opacity="0.8"/>
<path d="M468.0,908.7L561.3,905.5L625.6,897.4L685.0,886.2L685.0,912.0L468.0,912.0Z" fill="#ebe4ea" opacity="1.0"/>
<ellipse cx="624.2" cy="880.2" rx="0.9" ry="2.6" fill="#3d2250" opacity="0.75" transform="rotate(73 624.2 880.2)"/>
<ellipse cx="545.4" cy="868.8" rx="0.9" ry="2.6" fill="#3d2250" opacity="0.75" transform="rotate(92 545.4 868.8)"/>
<ellipse cx="682.2" cy="858.6" rx="0.9" ry="2.6" fill="#3d2250" opacity="0.75" transform="rotate(62 682.2 858.6)"/>
<ellipse cx="506.7" cy="880.4" rx="0.9" ry="2.6" fill="#3d2250" opacity="0.75" transform="rotate(105 506.7 880.4)"/>
<ellipse cx="642.0" cy="870.1" rx="0.9" ry="2.6" fill="#3d2250" opacity="0.75" transform="rotate(65 642.0 870.1)"/>
<ellipse cx="491.9" cy="873.2" rx="0.9" ry="2.6" fill="#3d2250" opacity="0.75" transform="rotate(99 491.9 873.2)"/>
<ellipse cx="570.3" cy="905.6" rx="0.9" ry="2.6" fill="#3d2250" opacity="0.75" transform="rotate(106 570.3 905.6)"/>
<ellipse cx="639.9" cy="871.3" rx="0.9" ry="2.6" fill="#3d2250" opacity="0.75" transform="rotate(101 639.9 871.3)"/>
<ellipse cx="496.6" cy="870.9" rx="0.9" ry="2.6" fill="#3d2250" opacity="0.75" transform="rotate(88 496.6 870.9)"/>
<ellipse cx="578.2" cy="867.5" rx="0.9" ry="2.6" fill="#3d2250" opacity="0.75" transform="rotate(73 578.2 867.5)"/>
<ellipse cx="473.6" cy="904.2" rx="0.9" ry="2.6" fill="#3d2250" opacity="0.75" transform="rotate(96 473.6 904.2)"/>
<ellipse cx="672.2" cy="886.9" rx="0.9" ry="2.6" fill="#3d2250" opacity="0.75" transform="rotate(82 672.2 886.9)"/>
<ellipse cx="626.5" cy="869.2" rx="0.9" ry="2.6" fill="#3d2250" opacity="0.75" transform="rotate(101 626.5 869.2)"/>
<ellipse cx="649.9" cy="855.6" rx="0.9" ry="2.6" fill="#3d2250" opacity="0.75" transform="rotate(61 649.9 855.6)"/>
<ellipse cx="515.0" cy="889.8" rx="0.9" ry="2.6" fill="#3d2250" opacity="0.75" transform="rotate(79 515.0 889.8)"/>
<ellipse cx="471.0" cy="901.2" rx="0.9" ry="2.6" fill="#3d2250" opacity="0.75" transform="rotate(99 471.0 901.2)"/>
<ellipse cx="568.7" cy="860.8" rx="0.9" ry="2.6" fill="#3d2250" opacity="0.75" transform="rotate(104 568.7 860.8)"/>
<ellipse cx="583.8" cy="860.4" rx="0.9" ry="2.6" fill="#3d2250" opacity="0.75" transform="rotate(76 583.8 860.4)"/>
<ellipse cx="603.3" cy="894.9" rx="0.9" ry="2.6" fill="#3d2250" opacity="0.75" transform="rotate(84 603.3 894.9)"/>
<ellipse cx="606.5" cy="863.9" rx="0.9" ry="2.6" fill="#3d2250" opacity="0.75" transform="rotate(72 606.5 863.9)"/>
<ellipse cx="663.7" cy="864.1" rx="0.9" ry="2.6" fill="#3d2250" opacity="0.75" transform="rotate(65 663.7 864.1)"/>
<ellipse cx="596.1" cy="861.5" rx="0.9" ry="2.6" fill="#3d2250" opacity="0.75" transform="rotate(70 596.1 861.5)"/>
<ellipse cx="567.1" cy="886.8" rx="0.9" ry="2.6" fill="#3d2250" opacity="0.75" transform="rotate(92 567.1 886.8)"/>
<ellipse cx="621.0" cy="872.4" rx="0.9" ry="2.6" fill="#3d2250" opacity="0.75" transform="rotate(63 621.0 872.4)"/>
<ellipse cx="624.8" cy="855.1" rx="0.9" ry="2.6" fill="#3d2250" opacity="0.75" transform="rotate(84 624.8 855.1)"/>
<ellipse cx="555.0" cy="892.2" rx="0.9" ry="2.6" fill="#3d2250" opacity="0.75" transform="rotate(96 555.0 892.2)"/>
<ellipse cx="520.6" cy="892.3" rx="0.9" ry="2.6" fill="#3d2250" opacity="0.75" transform="rotate(95 520.6 892.3)"/>
<ellipse cx="570.4" cy="865.3" rx="0.9" ry="2.6" fill="#3d2250" opacity="0.75" transform="rotate(105 570.4 865.3)"/>
<ellipse cx="597.8" cy="858.5" rx="0.9" ry="2.6" fill="#3d2250" opacity="0.75" transform="rotate(72 597.8 858.5)"/>
<ellipse cx="681.2" cy="855.7" rx="0.9" ry="2.6" fill="#3d2250" opacity="0.75" transform="rotate(80 681.2 855.7)"/>
<ellipse cx="638.4" cy="886.3" rx="0.9" ry="2.6" fill="#3d2250" opacity="0.75" transform="rotate(92 638.4 886.3)"/>
<ellipse cx="628.4" cy="854.0" rx="0.9" ry="2.6" fill="#3d2250" opacity="0.75" transform="rotate(65 628.4 854.0)"/>
<ellipse cx="678.9" cy="878.7" rx="0.9" ry="2.6" fill="#3d2250" opacity="0.75" transform="rotate(62 678.9 878.7)"/>
<ellipse cx="479.5" cy="877.8" rx="0.9" ry="2.6" fill="#3d2250" opacity="0.75" transform="rotate(107 479.5 877.8)"/>
<ellipse cx="516.2" cy="893.5" rx="0.9" ry="2.6" fill="#3d2250" opacity="0.75" transform="rotate(107 516.2 893.5)"/>
<ellipse cx="606.3" cy="895.9" rx="0.9" ry="2.6" fill="#3d2250" opacity="0.75" transform="rotate(73 606.3 895.9)"/>
<ellipse cx="502.0" cy="866.6" rx="0.9" ry="2.6" fill="#3d2250" opacity="0.75" transform="rotate(98 502.0 866.6)"/>
<ellipse cx="491.3" cy="906.6" rx="0.9" ry="2.6" fill="#3d2250" opacity="0.75" transform="rotate(95 491.3 906.6)"/>
<ellipse cx="509.2" cy="899.5" rx="0.9" ry="2.6" fill="#3d2250" opacity="0.75" transform="rotate(68 509.2 899.5)"/>
<ellipse cx="579.1" cy="862.6" rx="0.9" ry="2.6" fill="#3d2250" opacity="0.75" transform="rotate(99 579.1 862.6)"/>
<ellipse cx="660.3" cy="886.4" rx="0.9" ry="2.6" fill="#3d2250" opacity="0.75" transform="rotate(60 660.3 886.4)"/>
<ellipse cx="652.1" cy="872.9" rx="0.9" ry="2.6" fill="#3d2250" opacity="0.75" transform="rotate(101 652.1 872.9)"/>
<ellipse cx="577.0" cy="887.0" rx="0.9" ry="2.6" fill="#3d2250" opacity="0.75" transform="rotate(90 577.0 887.0)"/>
<ellipse cx="640.9" cy="854.3" rx="0.9" ry="2.6" fill="#3d2250" opacity="0.75" transform="rotate(63 640.9 854.3)"/>
<ellipse cx="586.3" cy="870.3" rx="0.9" ry="2.6" fill="#3d2250" opacity="0.75" transform="rotate(80 586.3 870.3)"/>
<ellipse cx="470.6" cy="897.9" rx="0.9" ry="2.6" fill="#3d2250" opacity="0.75" transform="rotate(61 470.6 897.9)"/>
<ellipse cx="647.4" cy="884.3" rx="0.9" ry="2.6" fill="#3d2250" opacity="0.75" transform="rotate(83 647.4 884.3)"/>
<ellipse cx="495.3" cy="893.3" rx="0.9" ry="2.6" fill="#3d2250" opacity="0.75" transform="rotate(70 495.3 893.3)"/>
<ellipse cx="561.2" cy="864.8" rx="0.9" ry="2.6" fill="#3d2250" opacity="0.75" transform="rotate(109 561.2 864.8)"/>
<ellipse cx="586.4" cy="873.2" rx="0.9" ry="2.6" fill="#3d2250" opacity="0.75" transform="rotate(65 586.4 873.2)"/>
<ellipse cx="626.0" cy="889.5" rx="0.9" ry="2.6" fill="#3d2250" opacity="0.75" transform="rotate(102 626.0 889.5)"/>
<ellipse cx="490.8" cy="882.0" rx="0.9" ry="2.6" fill="#3d2250" opacity="0.75" transform="rotate(75 490.8 882.0)"/>
<ellipse cx="632.9" cy="858.2" rx="0.9" ry="2.6" fill="#3d2250" opacity="0.75" transform="rotate(90 632.9 858.2)"/>
<ellipse cx="679.4" cy="877.3" rx="0.9" ry="2.6" fill="#3d2250" opacity="0.75" transform="rotate(60 679.4 877.3)"/>
<ellipse cx="485.1" cy="872.2" rx="0.9" ry="2.6" fill="#3d2250" opacity="0.75" transform="rotate(95 485.1 872.2)"/>
<ellipse cx="597.7" cy="879.3" rx="0.9" ry="2.6" fill="#3d2250" opacity="0.75" transform="rotate(83 597.7 879.3)"/>
<ellipse cx="556.6" cy="889.2" rx="0.9" ry="2.6" fill="#3d2250" opacity="0.75" transform="rotate(92 556.6 889.2)"/>
<ellipse cx="666.0" cy="878.0" rx="0.9" ry="2.6" fill="#3d2250" opacity="0.75" transform="rotate(100 666.0 878.0)"/>
<ellipse cx="665.3" cy="882.3" rx="0.9" ry="2.6" fill="#3d2250" opacity="0.75" transform="rotate(96 665.3 882.3)"/>
<ellipse cx="475.6" cy="895.3" rx="0.9" ry="2.6" fill="#3d2250" opacity="0.75" transform="rotate(102 475.6 895.3)"/>
<ellipse cx="561.6" cy="901.7" rx="0.9" ry="2.6" fill="#3d2250" opacity="0.75" transform="rotate(69 561.6 901.7)"/>
<ellipse cx="671.7" cy="865.4" rx="0.9" ry="2.6" fill="#3d2250" opacity="0.75" transform="rotate(95 671.7 865.4)"/>
<ellipse cx="523.3" cy="876.8" rx="0.9" ry="2.6" fill="#3d2250" opacity="0.75" transform="rotate(77 523.3 876.8)"/>
<ellipse cx="538.7" cy="866.3" rx="0.9" ry="2.6" fill="#3d2250" opacity="0.75" transform="rotate(82 538.7 866.3)"/>
<ellipse cx="679.9" cy="872.6" rx="0.9" ry="2.6" fill="#3d2250" opacity="0.75" transform="rotate(107 679.9 872.6)"/>
<ellipse cx="632.9" cy="887.8" rx="0.9" ry="2.6" fill="#3d2250" opacity="0.75" transform="rotate(110 632.9 887.8)"/>
<ellipse cx="630.8" cy="863.9" rx="0.9" ry="2.6" fill="#3d2250" opacity="0.75" transform="rotate(72 630.8 863.9)"/>
<ellipse cx="557.7" cy="860.9" rx="0.9" ry="2.6" fill="#3d2250" opacity="0.75" transform="rotate(72 557.7 860.9)"/>
<ellipse cx="659.6" cy="886.7" rx="0.9" ry="2.6" fill="#3d2250" opacity="0.75" transform="rotate(76 659.6 886.7)"/>
<ellipse cx="634.6" cy="884.8" rx="0.9" ry="2.6" fill="#3d2250" opacity="0.75" transform="rotate(104 634.6 884.8)"/>
<ellipse cx="639.8" cy="873.7" rx="0.9" ry="2.6" fill="#3d2250" opacity="0.75" transform="rotate(65 639.8 873.7)"/>
<ellipse cx="646.5" cy="863.6" rx="0.9" ry="2.6" fill="#3d2250" opacity="0.75" transform="rotate(91 646.5 863.6)"/>
<ellipse cx="547.9" cy="886.1" rx="0.9" ry="2.6" fill="#3d2250" opacity="0.75" transform="rotate(108 547.9 886.1)"/>
<ellipse cx="503.6" cy="888.0" rx="0.9" ry="2.6" fill="#3d2250" opacity="0.75" transform="rotate(92 503.6 888.0)"/>
<ellipse cx="584.8" cy="900.5" rx="0.9" ry="2.6" fill="#3d2250" opacity="0.75" transform="rotate(80 584.8 900.5)"/>
<ellipse cx="665.5" cy="876.3" rx="0.9" ry="2.6" fill="#3d2250" opacity="0.75" transform="rotate(108 665.5 876.3)"/>
<ellipse cx="488.3" cy="875.9" rx="0.9" ry="2.6" fill="#3d2250" opacity="0.75" transform="rotate(74 488.3 875.9)"/>
<ellipse cx="663.9" cy="849.1" rx="0.9" ry="2.6" fill="#3d2250" opacity="0.75" transform="rotate(73 663.9 849.1)"/>
<ellipse cx="622.9" cy="896.1" rx="0.9" ry="2.6" fill="#3d2250" opacity="0.75" transform="rotate(69 622.9 896.1)"/>
<ellipse cx="563.2" cy="892.3" rx="0.9" ry="2.6" fill="#3d2250" opacity="0.75" transform="rotate(95 563.2 892.3)"/>
<ellipse cx="629.4" cy="884.7" rx="0.9" ry="2.6" fill="#3d2250" opacity="0.75" transform="rotate(72 629.4 884.7)"/>
<ellipse cx="524.3" cy="864.7" rx="0.9" ry="2.6" fill="#3d2250" opacity="0.75" transform="rotate(95 524.3 864.7)"/>
<ellipse cx="514.0" cy="875.8" rx="0.9" ry="2.6" fill="#3d2250" opacity="0.75" transform="rotate(108 514.0 875.8)"/>
<ellipse cx="607.3" cy="881.1" rx="0.9" ry="2.6" fill="#3d2250" opacity="0.75" transform="rotate(93 607.3 881.1)"/>
<ellipse cx="597.5" cy="887.2" rx="0.9" ry="2.6" fill="#3d2250" opacity="0.75" transform="rotate(75 597.5 887.2)"/>
<ellipse cx="482.7" cy="870.6" rx="0.9" ry="2.6" fill="#3d2250" opacity="0.75" transform="rotate(61 482.7 870.6)"/>
<ellipse cx="546.7" cy="867.7" rx="0.9" ry="2.6" fill="#3d2250" opacity="0.75" transform="rotate(66 546.7 867.7)"/>
<ellipse cx="575.1" cy="903.7" rx="0.9" ry="2.6" fill="#3d2250" opacity="0.75" transform="rotate(94 575.1 903.7)"/>
<ellipse cx="527.8" cy="897.4" rx="0.9" ry="2.6" fill="#3d2250" opacity="0.75" transform="rotate(69 527.8 897.4)"/>
<ellipse cx="490.5" cy="879.4" rx="0.9" ry="2.6" fill="#3d2250" opacity="0.75" transform="rotate(80 490.5 879.4)"/>
<ellipse cx="617.2" cy="873.1" rx="0.9" ry="2.6" fill="#3d2250" opacity="0.75" transform="rotate(96 617.2 873.1)"/>
<ellipse cx="489.4" cy="905.0" rx="0.9" ry="2.6" fill="#3d2250" opacity="0.75" transform="rotate(77 489.4 905.0)"/>
<ellipse cx="647.9" cy="851.5" rx="0.9" ry="2.6" fill="#3d2250" opacity="0.75" transform="rotate(101 647.9 851.5)"/>
<ellipse cx="517.6" cy="901.4" rx="0.9" ry="2.6" fill="#3d2250" opacity="0.75" transform="rotate(100 517.6 901.4)"/>
<ellipse cx="613.2" cy="866.3" rx="0.9" ry="2.6" fill="#3d2250" opacity="0.75" transform="rotate(60 613.2 866.3)"/>
<circle cx="505" cy="898" r="2" fill="#e0305a"/>
</g>
<line x1="618.9" x2="681.7" y1="898.9" y2="898.9" stroke="#000" stroke-width="1.8"/>
<text x="651.3" y="906.5" font-size="6.3" font-weight="bold" text-anchor="middle" fill="#111">100 µm</text>
</g>
<text x="6.3" y="924.6" font-size="12.2" fill="#333">Chow</text>
<text x="236.8" y="924.9" font-size="12.2" fill="#333">50S</text>
<text x="471" y="924.6" font-size="12.2" fill="#333">AIN 93G</text>
</svg>
</body></html>
